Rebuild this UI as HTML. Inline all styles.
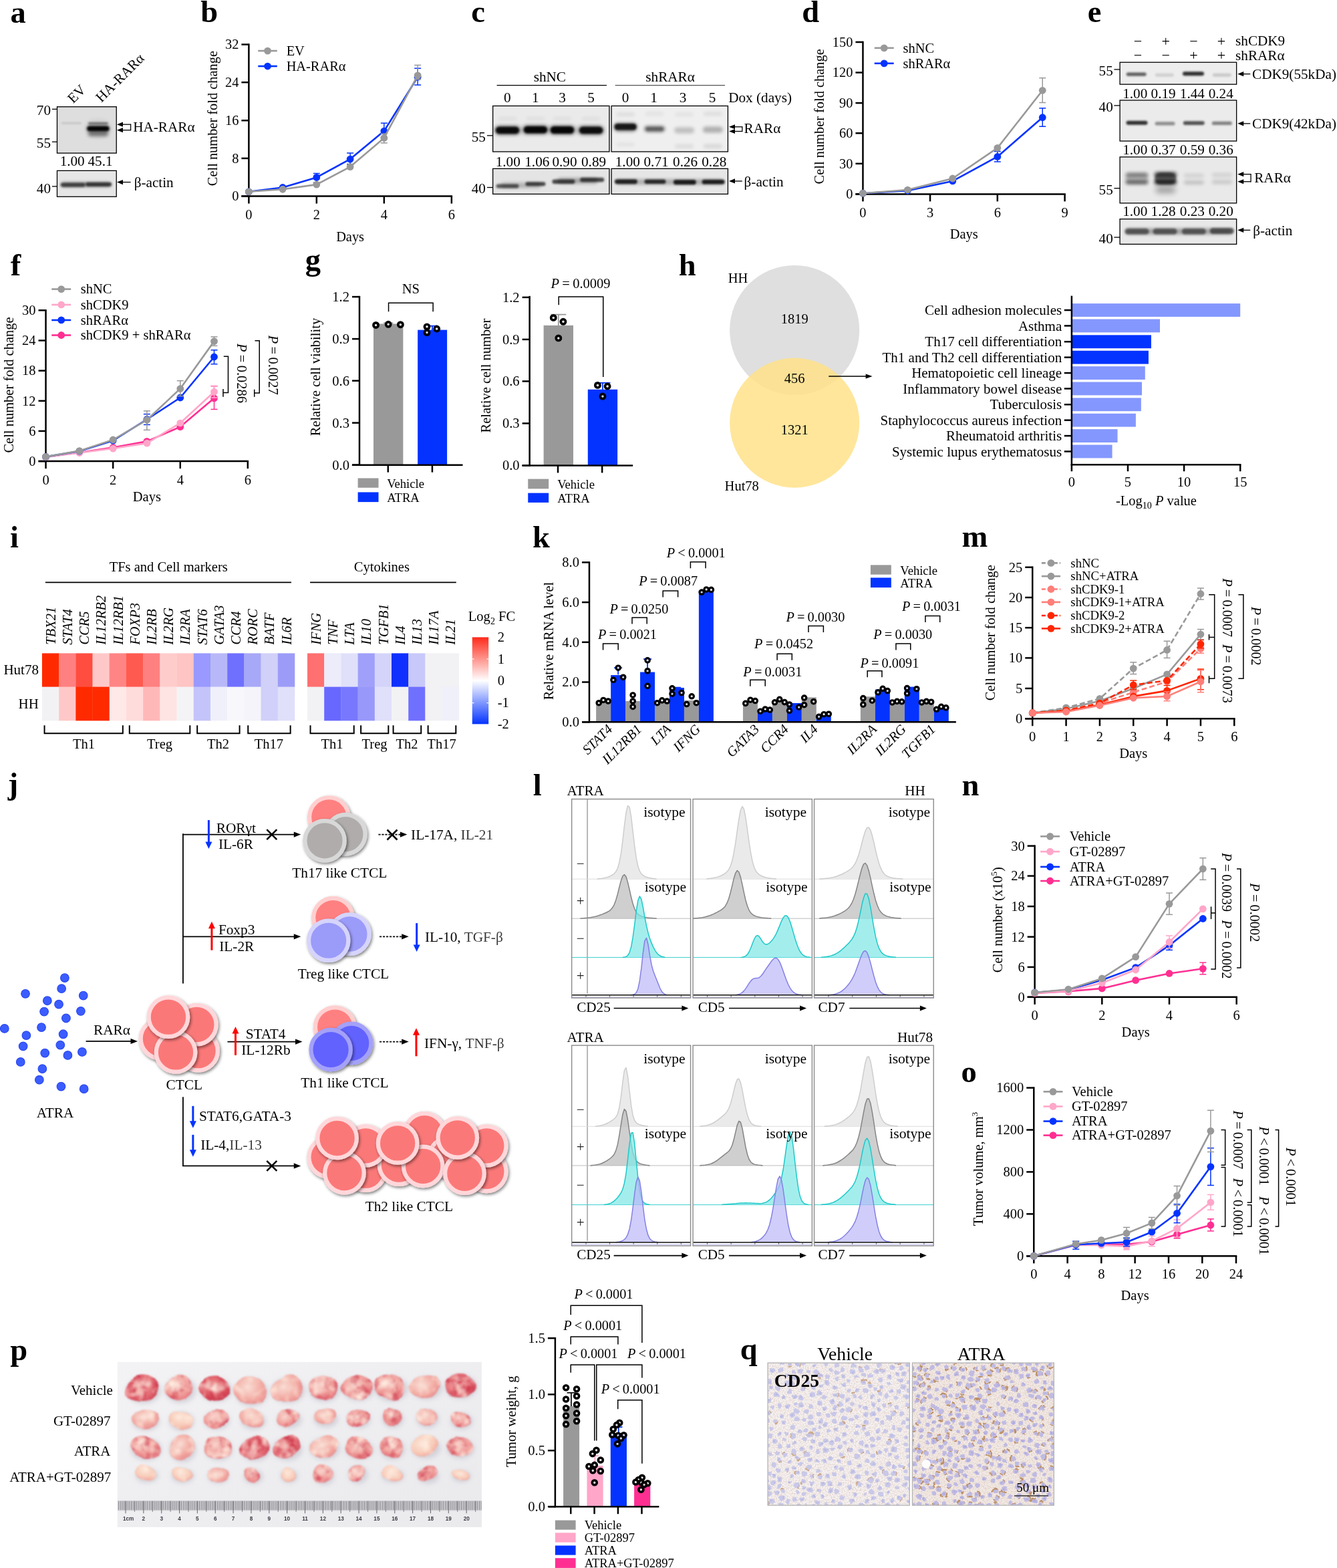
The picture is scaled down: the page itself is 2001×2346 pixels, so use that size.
<!DOCTYPE html>
<html><head><meta charset="utf-8"><title>Figure</title>
<style>
html,body{margin:0;padding:0;background:#fff;}
svg{display:block;font-family:"Liberation Serif","DejaVu Serif",serif;font-size:20.5px;}
text{white-space:pre;}
</style></head><body>
<svg width="2001" height="2346" viewBox="0 0 2001 2346">
<defs>
<filter id="b1" x="-30%" y="-100%" width="160%" height="300%"><feGaussianBlur stdDeviation="1.6"/></filter>
<filter id="b2" x="-30%" y="-100%" width="160%" height="300%"><feGaussianBlur stdDeviation="2.6"/></filter>
<filter id="b3" x="-30%" y="-100%" width="160%" height="300%"><feGaussianBlur stdDeviation="4"/></filter>
<linearGradient id="blotbg" x1="0" y1="0" x2="0" y2="1"><stop offset="0" stop-color="#e4e4e4"/><stop offset="1" stop-color="#eeeeee"/></linearGradient>
<clipPath id="bc1"><rect x="85.48" y="159.73" width="88.74" height="69.36"/></clipPath>
<clipPath id="bc2"><rect x="85.48" y="255.35" width="88.74" height="38.93"/></clipPath>
<clipPath id="bc3"><rect x="737.63" y="158.46" width="174.31" height="68.53"/></clipPath>
<clipPath id="bc4"><rect x="915.11" y="158.46" width="174.31" height="68.53"/></clipPath>
<clipPath id="bc5"><rect x="737.63" y="252.35" width="174.31" height="38.03"/></clipPath>
<clipPath id="bc6"><rect x="915.11" y="252.35" width="174.31" height="38.03"/></clipPath>
<clipPath id="bc7"><rect x="1676.09" y="93.23" width="174.55" height="32.93"/></clipPath>
<clipPath id="bc8"><rect x="1676.09" y="149.96" width="174.55" height="61.09"/></clipPath>
<clipPath id="bc9"><rect x="1676.09" y="234.86" width="174.55" height="69.03"/></clipPath>
<clipPath id="bc10"><rect x="1676.09" y="327.69" width="174.55" height="37.69"/></clipPath>
<linearGradient id="cbar" x1="0" y1="0" x2="0" y2="1"><stop offset="0" stop-color="#ff2a1a"/><stop offset="0.5" stop-color="#ffffff"/><stop offset="1" stop-color="#0433ff"/></linearGradient>
<filter id="ds" x="-20%" y="-20%" width="150%" height="150%"><feDropShadow dx="1.6" dy="2.2" stdDeviation="1.9" flood-color="#000" flood-opacity="0.5"/></filter>
<clipPath id="fl1"><rect x="855.66" y="1195.56" width="177.87" height="297.51"/></clipPath>
<clipPath id="fl2"><rect x="1037.1" y="1195.56" width="178.27" height="297.51"/></clipPath>
<clipPath id="fl3"><rect x="1218.54" y="1195.56" width="178.66" height="297.51"/></clipPath>
<clipPath id="fl4"><rect x="855.66" y="1564.07" width="177.87" height="299.89"/></clipPath>
<clipPath id="fl5"><rect x="1037.1" y="1564.07" width="178.27" height="299.89"/></clipPath>
<clipPath id="fl6"><rect x="1218.54" y="1564.07" width="178.66" height="299.89"/></clipPath>
<clipPath id="photo"><rect x="175.8" y="2037.8" width="545.1" height="247.1"/></clipPath>
<linearGradient id="phbg" x1="0" y1="0" x2="1" y2="1"><stop offset="0" stop-color="#f3f3f5"/><stop offset="0.5" stop-color="#eeeef1"/><stop offset="1" stop-color="#eaeaed"/></linearGradient>
<filter id="tb" x="-20%" y="-20%" width="140%" height="140%"><feGaussianBlur stdDeviation="1.1"/></filter>
<filter id="tsh" x="-30%" y="-30%" width="160%" height="160%"><feGaussianBlur stdDeviation="3"/></filter>
<filter id="tumA" x="-5%" y="-10%" width="110%" height="120%" color-interpolation-filters="sRGB">
<feTurbulence type="fractalNoise" baseFrequency="0.03" numOctaves="2" seed="4" result="n1"/>
<feDisplacementMap in="SourceGraphic" in2="n1" scale="10" xChannelSelector="R" yChannelSelector="G" result="d"/>
<feTurbulence type="fractalNoise" baseFrequency="0.07" numOctaves="3" seed="9" result="n2"/>
<feColorMatrix in="n2" type="matrix" values="0 0 0 0 0.82  0 0 0 0 0.25  0 0 0 0 0.32  3.0 0 0 0 -1.25" result="red"/><feComposite in="red" in2="d" operator="in" result="redin"/>
<feTurbulence type="fractalNoise" baseFrequency="0.06" numOctaves="2" seed="21" result="n3"/>
<feColorMatrix in="n3" type="matrix" values="0 0 0 0 1  0 0 0 0 0.95  0 0 0 0 0.9  0 2.4 0 0 -1.15" result="wh"/>
<feComposite in="wh" in2="d" operator="in" result="whin"/>
<feMerge><feMergeNode in="d"/><feMergeNode in="redin"/><feMergeNode in="whin"/></feMerge>
<feGaussianBlur stdDeviation="0.9"/>
</filter>
<filter id="tumB" x="-5%" y="-10%" width="110%" height="120%" color-interpolation-filters="sRGB">
<feTurbulence type="fractalNoise" baseFrequency="0.03" numOctaves="2" seed="4" result="n1"/>
<feDisplacementMap in="SourceGraphic" in2="n1" scale="10" xChannelSelector="R" yChannelSelector="G" result="d"/>
<feTurbulence type="fractalNoise" baseFrequency="0.07" numOctaves="3" seed="9" result="n2"/>
<feColorMatrix in="n2" type="matrix" values="0 0 0 0 0.82  0 0 0 0 0.25  0 0 0 0 0.32  2.4 0 0 0 -1.15" result="red"/><feComposite in="red" in2="d" operator="in" result="redin"/>
<feTurbulence type="fractalNoise" baseFrequency="0.06" numOctaves="2" seed="21" result="n3"/>
<feColorMatrix in="n3" type="matrix" values="0 0 0 0 1  0 0 0 0 0.95  0 0 0 0 0.9  0 2.4 0 0 -1.1" result="wh"/>
<feComposite in="wh" in2="d" operator="in" result="whin"/>
<feMerge><feMergeNode in="d"/><feMergeNode in="redin"/><feMergeNode in="whin"/></feMerge>
<feGaussianBlur stdDeviation="0.9"/>
</filter>
<filter id="tumC" x="-5%" y="-10%" width="110%" height="120%" color-interpolation-filters="sRGB">
<feTurbulence type="fractalNoise" baseFrequency="0.03" numOctaves="2" seed="4" result="n1"/>
<feDisplacementMap in="SourceGraphic" in2="n1" scale="10" xChannelSelector="R" yChannelSelector="G" result="d"/>
<feTurbulence type="fractalNoise" baseFrequency="0.07" numOctaves="3" seed="9" result="n2"/>

<feTurbulence type="fractalNoise" baseFrequency="0.06" numOctaves="2" seed="21" result="n3"/>
<feColorMatrix in="n3" type="matrix" values="0 0 0 0 1  0 0 0 0 0.95  0 0 0 0 0.9  0 2.0 0 0 -0.9" result="wh"/>
<feComposite in="wh" in2="d" operator="in" result="whin"/>
<feMerge><feMergeNode in="d"/><feMergeNode in="whin"/></feMerge>
<feGaussianBlur stdDeviation="0.9"/>
</filter>
<radialGradient id="tgR" cx="0.42" cy="0.38" r="0.72"><stop offset="0" stop-color="#ee9a98"/><stop offset="0.6" stop-color="#dc4f5c"/><stop offset="1" stop-color="#c43a4c"/></radialGradient>
<radialGradient id="tgr" cx="0.42" cy="0.38" r="0.72"><stop offset="0" stop-color="#f5c3bd"/><stop offset="0.6" stop-color="#e7727a"/><stop offset="1" stop-color="#cf4a5a"/></radialGradient>
<radialGradient id="tgm" cx="0.42" cy="0.38" r="0.72"><stop offset="0" stop-color="#f8d5cd"/><stop offset="0.6" stop-color="#f09a97"/><stop offset="1" stop-color="#df6f7a"/></radialGradient>
<radialGradient id="tgp" cx="0.42" cy="0.38" r="0.72"><stop offset="0" stop-color="#f9ddd4"/><stop offset="0.6" stop-color="#f2aaa2"/><stop offset="1" stop-color="#e68488"/></radialGradient>
<radialGradient id="tgl" cx="0.42" cy="0.38" r="0.72"><stop offset="0" stop-color="#fce9dc"/><stop offset="0.6" stop-color="#f8cbb9"/><stop offset="1" stop-color="#eea096"/></radialGradient>
<pattern id="rul" x="188" y="0" width="2.685" height="20" patternUnits="userSpaceOnUse"><rect x="0" y="0" width="1.25" height="20" fill="#77777d"/></pattern>
<filter id="nuc" x="0" y="0" width="100%" height="100%" color-interpolation-filters="sRGB">
<feTurbulence type="fractalNoise" baseFrequency="0.16" numOctaves="2" seed="5" result="n1"/>
<feDisplacementMap in="SourceGraphic" in2="n1" scale="4.5" xChannelSelector="R" yChannelSelector="G" result="d"/>
<feGaussianBlur in="d" stdDeviation="0.55"/>
</filter>
<filter id="grain" x="0" y="0" width="100%" height="100%" color-interpolation-filters="sRGB">
<feTurbulence type="fractalNoise" baseFrequency="0.55" numOctaves="2" seed="8" result="n"/>
<feColorMatrix in="n" type="matrix" values="0 0 0 0 0.78  0 0 0 0 0.66  0 0 0 0 0.60  0 0 1.3 0 -0.55" result="g"/>
<feComposite in="g" in2="SourceGraphic" operator="in"/>
</filter>
<clipPath id="ihc1"><rect x="1149.1" y="2039.1" width="212.2" height="213.1"/></clipPath>
<clipPath id="ihc2"><rect x="1365.45" y="2039.1" width="211.88" height="213.1"/></clipPath>
</defs>
<rect width="2001" height="2346" fill="#fff"/>
<text x="15.5" y="33.5" font-weight="bold" font-size="46.5">a</text>
<rect x="85.48" y="159.73" width="88.74" height="69.36" fill="#dedede"/>
<g clip-path="url(#bc1)">
<rect x="91.85" y="183.18" width="30" height="2.0" rx="1.0" fill="#000" opacity="0.16" filter="url(#b1)"/>
<rect x="130.37" y="188.73" width="33.0" height="7.2" rx="3.6" fill="#000" opacity="0.95" filter="url(#b1)"/>
<rect x="129.87" y="188.19" width="34" height="9.0" rx="4.5" fill="#000" opacity="0.5" filter="url(#b2)"/>
<rect x="131.87" y="183.12" width="30" height="3.2" rx="1.6" fill="#000" opacity="0.5" filter="url(#b1)"/>
<rect x="131.87" y="196.11" width="30" height="8" rx="4" fill="#000" opacity="0.42" filter="url(#b2)"/>
<rect x="129.87" y="179.96" width="34" height="24" rx="12" fill="#000" opacity="0.08" filter="url(#b3)"/>
</g>
<rect x="85.48" y="159.73" width="88.74" height="69.36" fill="none" stroke="#000" stroke-width="1.3"/>
<rect x="85.48" y="255.35" width="88.74" height="38.93" fill="#e6e6e6"/>
<g clip-path="url(#bc2)">
<rect x="90.7" y="273.44" width="37.0" height="6.2" rx="3.1" fill="#000" opacity="0.62" filter="url(#b1)"/>
<rect x="128.09" y="272.71" width="39.0" height="6.2" rx="3.1" fill="#000" opacity="0.68" filter="url(#b1)"/>
<rect x="91.58" y="272.57" width="74" height="7.2" rx="3.6" fill="#000" opacity="0.35" filter="url(#b2)"/>
</g>
<rect x="85.48" y="255.35" width="88.74" height="38.93" fill="none" stroke="#000" stroke-width="1.3"/>
<text x="76.06" y="172.16" text-anchor="end" font-size="21.2">70</text>
<line x1="77.87" y1="163.35" x2="85.48" y2="163.35" stroke="#000" stroke-width="1.3"/>
<text x="76.06" y="220.7" text-anchor="end" font-size="21.2">55</text>
<line x1="77.87" y1="212.25" x2="85.48" y2="212.25" stroke="#000" stroke-width="1.3"/>
<text x="76.06" y="288.61" text-anchor="end" font-size="21.2">40</text>
<line x1="77.87" y1="278.89" x2="85.48" y2="278.89" stroke="#000" stroke-width="1.3"/>
<text x="89.64" y="247.74" font-size="21.2">1.00</text>
<text x="131.48" y="247.74" font-size="21.2">45.1</text>
<text font-size="21.2" transform="translate(109.56 155.38) rotate(-45)">EV</text>
<text font-size="21.2" transform="translate(151.76 153.93) rotate(-45)">HA-RARα</text>
<line x1="180.34" y1="186.17" x2="195.59" y2="186.17" stroke="#000" stroke-width="1.3"/>
<polygon points="174.94,186.17 183.94,182.57 183.94,189.76999999999998" fill="#000"/>
<line x1="180.34" y1="194.68" x2="195.59" y2="194.68" stroke="#000" stroke-width="1.3"/>
<polygon points="174.94,194.68 183.94,191.08 183.94,198.28" fill="#000"/>
<line x1="195.59" y1="185.51999999999998" x2="195.59" y2="195.33" stroke="#000" stroke-width="1.3"/>
<text x="199.21" y="197.03" font-size="21.2">HA-RARα</text>
<line x1="180.34" y1="272.55" x2="195.59" y2="272.55" stroke="#000" stroke-width="1.3"/>
<polygon points="174.94,272.55 183.94,268.95 183.94,276.15000000000003" fill="#000"/>
<text x="200.66" y="279.8" font-size="21.2">β-actin</text>
<text x="300.28" y="32.5" font-weight="bold" font-size="46.5">b</text>
<line x1="372.38" y1="65.3" x2="372.38" y2="294.8" stroke="#000" stroke-width="2.5"/>
<line x1="361.38" y1="293.55" x2="677.08" y2="293.55" stroke="#000" stroke-width="2.5"/>
<line x1="372.38" y1="293.55" x2="372.38" y2="304.55" stroke="#000" stroke-width="2.5"/>
<text x="372.38" y="328.05" text-anchor="middle" font-size="20.4">0</text>
<line x1="473.8" y1="293.55" x2="473.8" y2="304.55" stroke="#000" stroke-width="2.5"/>
<text x="473.8" y="328.05" text-anchor="middle" font-size="20.4">2</text>
<line x1="574.82" y1="293.55" x2="574.82" y2="304.55" stroke="#000" stroke-width="2.5"/>
<text x="574.82" y="328.05" text-anchor="middle" font-size="20.4">4</text>
<line x1="675.83" y1="293.55" x2="675.83" y2="304.55" stroke="#000" stroke-width="2.5"/>
<text x="675.83" y="328.05" text-anchor="middle" font-size="20.4">6</text>
<line x1="361.38" y1="293.55" x2="372.38" y2="293.55" stroke="#000" stroke-width="2.5"/>
<text x="357.38" y="300.384" text-anchor="end" font-size="20.4">0</text>
<line x1="361.38" y1="236.9" x2="372.38" y2="236.9" stroke="#000" stroke-width="2.5"/>
<text x="357.38" y="243.734" text-anchor="end" font-size="20.4">8</text>
<line x1="361.38" y1="180.25" x2="372.38" y2="180.25" stroke="#000" stroke-width="2.5"/>
<text x="357.38" y="187.084" text-anchor="end" font-size="20.4">16</text>
<line x1="361.38" y1="123.2" x2="372.38" y2="123.2" stroke="#000" stroke-width="2.5"/>
<text x="357.38" y="130.034" text-anchor="end" font-size="20.4">24</text>
<line x1="361.38" y1="66.55" x2="372.38" y2="66.55" stroke="#000" stroke-width="2.5"/>
<text x="357.38" y="73.384" text-anchor="end" font-size="20.4">32</text>
<line x1="625.13" y1="102.21" x2="625.13" y2="127.16" stroke="#0433ff" stroke-width="1.5"/>
<line x1="620.13" y1="102.21" x2="630.13" y2="102.21" stroke="#0433ff" stroke-width="1.5"/>
<line x1="620.13" y1="127.16" x2="630.13" y2="127.16" stroke="#0433ff" stroke-width="1.5"/>
<line x1="574.82" y1="184.21" x2="574.82" y2="206.0" stroke="#0433ff" stroke-width="1.5"/>
<line x1="569.82" y1="184.21" x2="579.82" y2="184.21" stroke="#0433ff" stroke-width="1.5"/>
<line x1="569.82" y1="206.0" x2="579.82" y2="206.0" stroke="#0433ff" stroke-width="1.5"/>
<line x1="524.11" y1="228.98" x2="524.11" y2="245.61" stroke="#0433ff" stroke-width="1.5"/>
<line x1="519.11" y1="228.98" x2="529.11" y2="228.98" stroke="#0433ff" stroke-width="1.5"/>
<line x1="519.11" y1="245.61" x2="529.11" y2="245.61" stroke="#0433ff" stroke-width="1.5"/>
<line x1="473.8" y1="259.48" x2="473.8" y2="273.34" stroke="#0433ff" stroke-width="1.5"/>
<line x1="468.8" y1="259.48" x2="478.8" y2="259.48" stroke="#0433ff" stroke-width="1.5"/>
<line x1="468.8" y1="273.34" x2="478.8" y2="273.34" stroke="#0433ff" stroke-width="1.5"/>
<polyline points="372.38,286.81 423.09,280.48 473.8,265.42 524.11,238.09 574.82,196.1 625.13,115.28" fill="none" stroke="#0433ff" stroke-width="2.6" stroke-linejoin="round"/>
<circle cx="372.38" cy="286.81" r="5.4" fill="#0433ff"/>
<circle cx="423.09" cy="280.48" r="5.4" fill="#0433ff"/>
<circle cx="473.8" cy="265.42" r="5.4" fill="#0433ff"/>
<circle cx="524.11" cy="238.09" r="5.4" fill="#0433ff"/>
<circle cx="574.82" cy="196.1" r="5.4" fill="#0433ff"/>
<circle cx="625.13" cy="115.28" r="5.4" fill="#0433ff"/>
<line x1="625.13" y1="97.45" x2="625.13" y2="118.85" stroke="#999999" stroke-width="1.5"/>
<line x1="620.13" y1="97.45" x2="630.13" y2="97.45" stroke="#999999" stroke-width="1.5"/>
<line x1="620.13" y1="118.85" x2="630.13" y2="118.85" stroke="#999999" stroke-width="1.5"/>
<line x1="574.82" y1="200.06" x2="574.82" y2="213.92" stroke="#999999" stroke-width="1.5"/>
<line x1="569.82" y1="200.06" x2="579.82" y2="200.06" stroke="#999999" stroke-width="1.5"/>
<line x1="569.82" y1="213.92" x2="579.82" y2="213.92" stroke="#999999" stroke-width="1.5"/>
<polyline points="372.38,286.81 423.09,283.25 473.8,276.12 524.11,249.58 574.82,206.4 625.13,112.9" fill="none" stroke="#999999" stroke-width="2.6" stroke-linejoin="round"/>
<circle cx="372.38" cy="286.81" r="5.4" fill="#999999"/>
<circle cx="423.09" cy="283.25" r="5.4" fill="#999999"/>
<circle cx="473.8" cy="276.12" r="5.4" fill="#999999"/>
<circle cx="524.11" cy="249.58" r="5.4" fill="#999999"/>
<circle cx="574.82" cy="206.4" r="5.4" fill="#999999"/>
<circle cx="625.13" cy="112.9" r="5.4" fill="#999999"/>
<text x="524.11" y="360.5" text-anchor="middle" font-size="20.4">Days</text>
<text text-anchor="middle" font-size="20.4" transform="translate(324.84 177.08) rotate(-90)">Cell number fold change</text>
<line x1="386.25" y1="76.06" x2="414.77" y2="76.06" stroke="#999999" stroke-width="2.6"/>
<circle cx="400.51" cy="76.06" r="5.4" fill="#999999"/>
<text x="428.64" y="82.792" font-size="20.4">EV</text>
<line x1="386.25" y1="99.04" x2="414.77" y2="99.04" stroke="#0433ff" stroke-width="2.6"/>
<circle cx="400.51" cy="99.04" r="5.4" fill="#0433ff"/>
<text x="428.64" y="105.772" font-size="20.4">HA-RARα</text>
<text x="705.15" y="32.5" font-weight="bold" font-size="46.5">c</text>
<text x="822.81" y="122.01" text-anchor="middle" font-size="21.2">shNC</text>
<line x1="743.58" y1="127.56" x2="907.98" y2="127.56" stroke="#000" stroke-width="1.2"/>
<text x="1003.06" y="122.01" text-anchor="middle" font-size="21.2">shRARα</text>
<line x1="920.66" y1="127.56" x2="1085.06" y2="127.56" stroke="#555" stroke-width="1.2"/>
<text x="759.42" y="152.52" text-anchor="middle" font-size="21.2">0</text>
<text x="801.41" y="152.52" text-anchor="middle" font-size="21.2">1</text>
<text x="841.43" y="152.52" text-anchor="middle" font-size="21.2">3</text>
<text x="884.61" y="152.52" text-anchor="middle" font-size="21.2">5</text>
<text x="936.11" y="152.52" text-anchor="middle" font-size="21.2">0</text>
<text x="978.49" y="152.52" text-anchor="middle" font-size="21.2">1</text>
<text x="1022.07" y="152.52" text-anchor="middle" font-size="21.2">3</text>
<text x="1066.04" y="152.52" text-anchor="middle" font-size="21.2">5</text>
<text x="1090.21" y="152.52" font-size="21.2">Dox (days)</text>
<rect x="737.63" y="158.46" width="174.31" height="68.53" fill="#eaeaea"/>
<g clip-path="url(#bc3)">
<rect x="741.92" y="189.71" width="35.0" height="10.4" rx="5.2" fill="#000" opacity="0.9" filter="url(#b1)"/>
<rect x="739.92" y="187.91" width="39.0" height="14" rx="7" fill="#000" opacity="0.45" filter="url(#b2)"/>
<rect x="745.42" y="175.48" width="28" height="4" rx="2" fill="#000" opacity="0.06" filter="url(#b2)"/>
<rect x="783.91" y="188.91" width="35.0" height="10.4" rx="5.2" fill="#000" opacity="0.95" filter="url(#b1)"/>
<rect x="781.91" y="187.11" width="39.0" height="14" rx="7" fill="#000" opacity="0.45" filter="url(#b2)"/>
<rect x="787.41" y="175.48" width="28" height="4" rx="2" fill="#000" opacity="0.06" filter="url(#b2)"/>
<rect x="823.93" y="189.31" width="35.0" height="10.4" rx="5.2" fill="#000" opacity="0.95" filter="url(#b1)"/>
<rect x="821.93" y="187.51" width="39.0" height="14" rx="7" fill="#000" opacity="0.45" filter="url(#b2)"/>
<rect x="827.43" y="175.48" width="28" height="4" rx="2" fill="#000" opacity="0.06" filter="url(#b2)"/>
<rect x="867.11" y="189.71" width="35.0" height="10.4" rx="5.2" fill="#000" opacity="0.88" filter="url(#b1)"/>
<rect x="865.11" y="187.91" width="39.0" height="14" rx="7" fill="#000" opacity="0.45" filter="url(#b2)"/>
<rect x="870.61" y="175.48" width="28" height="4" rx="2" fill="#000" opacity="0.06" filter="url(#b2)"/>
<rect x="742.81" y="189.91" width="160" height="10" rx="5" fill="#000" opacity="0.12" filter="url(#b3)"/>
</g>
<rect x="737.63" y="158.46" width="174.31" height="68.53" fill="none" stroke="#000" stroke-width="1.3"/>
<rect x="915.11" y="158.46" width="174.31" height="68.53" fill="#efefef"/>
<g clip-path="url(#bc4)">
<rect x="919.61" y="184.96" width="33.0" height="9.6" rx="4.8" fill="#000" opacity="0.85" filter="url(#b1)"/>
<rect x="918.11" y="183.15" width="36" height="14" rx="7" fill="#000" opacity="0.4" filter="url(#b2)"/>
<rect x="964.18" y="188.43" width="31.0" height="9.0" rx="4.5" fill="#000" opacity="0.5" filter="url(#b2)"/>
<rect x="966.68" y="189.93" width="26" height="6" rx="3" fill="#000" opacity="0.22" filter="url(#b1)"/>
<rect x="1009.05" y="190.41" width="30" height="9.0" rx="4.5" fill="#000" opacity="0.2" filter="url(#b2)"/>
<rect x="1051.84" y="189.61" width="30" height="9.0" rx="4.5" fill="#000" opacity="0.27" filter="url(#b2)"/>
<rect x="922.11" y="168.14" width="28" height="6" rx="3" fill="#000" opacity="0.07" filter="url(#b2)"/>
<rect x="965.68" y="167.35" width="28" height="6" rx="3" fill="#000" opacity="0.05" filter="url(#b2)"/>
<rect x="1010.05" y="168.14" width="28" height="6" rx="3" fill="#000" opacity="0.05" filter="url(#b2)"/>
<rect x="1052.84" y="167.35" width="28" height="6" rx="3" fill="#000" opacity="0.07" filter="url(#b2)"/>
<rect x="922.11" y="212.9" width="28" height="6" rx="3" fill="#000" opacity="0.05" filter="url(#b2)"/>
<rect x="1010.05" y="215.68" width="28" height="6" rx="3" fill="#000" opacity="0.08" filter="url(#b2)"/>
<rect x="1052.84" y="215.68" width="28" height="6" rx="3" fill="#000" opacity="0.1" filter="url(#b2)"/>
</g>
<rect x="915.11" y="158.46" width="174.31" height="68.53" fill="none" stroke="#000" stroke-width="1.3"/>
<rect x="737.63" y="252.35" width="174.31" height="38.03" fill="#e4e4e4"/>
<g clip-path="url(#bc5)">
<rect x="742.42" y="275.49" width="34" height="6.0" rx="3.0" fill="#000" opacity="0.6" filter="url(#b1)"/>
<rect x="786.41" y="272.33" width="30" height="6.0" rx="3.0" fill="#000" opacity="0.68" filter="url(#b1)"/>
<rect x="826.41" y="268.56" width="34" height="6.4" rx="3.2" fill="#000" opacity="0.68" filter="url(#b1)"/>
<rect x="868.19" y="265.79" width="36" height="6.4" rx="3.2" fill="#000" opacity="0.68" filter="url(#b1)"/>
<rect x="834.4" y="266.57" width="60" height="8" rx="4" fill="#000" opacity="0.3" filter="url(#b2)"/>
<rect x="749.23" y="273.31" width="60" height="8" rx="4" fill="#000" opacity="0.22" filter="url(#b2)"/>
</g>
<rect x="737.63" y="252.35" width="174.31" height="38.03" fill="none" stroke="#000" stroke-width="1.3"/>
<rect x="915.11" y="252.35" width="174.31" height="38.03" fill="#e6e6e6"/>
<g clip-path="url(#bc6)">
<rect x="919.9" y="268.36" width="34" height="6.8" rx="3.4" fill="#000" opacity="0.82" filter="url(#b1)"/>
<rect x="964.48" y="268.56" width="32" height="6.4" rx="3.2" fill="#000" opacity="0.78" filter="url(#b1)"/>
<rect x="1007.84" y="268.95" width="34" height="7.2" rx="3.6" fill="#000" opacity="0.85" filter="url(#b1)"/>
<rect x="1050.63" y="268.76" width="34" height="6.8" rx="3.4" fill="#000" opacity="0.85" filter="url(#b1)"/>
<rect x="922.26" y="268.16" width="160" height="8" rx="4" fill="#000" opacity="0.25" filter="url(#b2)"/>
</g>
<rect x="915.11" y="252.35" width="174.31" height="38.03" fill="none" stroke="#000" stroke-width="1.3"/>
<text x="726.94" y="211.81" text-anchor="end" font-size="21.2">55</text>
<line x1="728.92" y1="202.83" x2="737.63" y2="202.83" stroke="#000" stroke-width="1.3"/>
<text x="726.94" y="289.46" text-anchor="end" font-size="21.2">40</text>
<line x1="728.92" y1="280.48" x2="737.63" y2="280.48" stroke="#000" stroke-width="1.3"/>
<text x="760.22" y="248.78" text-anchor="middle" font-size="21.2">1.00</text>
<text x="803.79" y="248.78" text-anchor="middle" font-size="21.2">1.06</text>
<text x="844.99" y="248.78" text-anchor="middle" font-size="21.2">0.90</text>
<text x="888.57" y="248.78" text-anchor="middle" font-size="21.2">0.89</text>
<text x="939.28" y="248.78" text-anchor="middle" font-size="21.2">1.00</text>
<text x="982.06" y="248.78" text-anchor="middle" font-size="21.2">0.71</text>
<text x="1025.64" y="248.78" text-anchor="middle" font-size="21.2">0.26</text>
<text x="1068.82" y="248.78" text-anchor="middle" font-size="21.2">0.28</text>
<line x1="1096.4" y1="189.76" x2="1110.81" y2="189.76" stroke="#000" stroke-width="1.3"/>
<polygon points="1091.0,189.76 1100.0,186.16 1100.0,193.35999999999999" fill="#000"/>
<line x1="1096.4" y1="196.49" x2="1110.81" y2="196.49" stroke="#000" stroke-width="1.3"/>
<polygon points="1091.0,196.49 1100.0,192.89000000000001 1100.0,200.09" fill="#000"/>
<line x1="1110.81" y1="189.10999999999999" x2="1110.81" y2="197.14000000000001" stroke="#000" stroke-width="1.3"/>
<text x="1113.58" y="199.26" font-size="21.2">RARα</text>
<line x1="1096.4" y1="270.97" x2="1110.81" y2="270.97" stroke="#000" stroke-width="1.3"/>
<polygon points="1091.0,270.97 1100.0,267.37 1100.0,274.57000000000005" fill="#000"/>
<text x="1113.58" y="278.89" font-size="21.2">β-actin</text>
<text x="1200.34" y="32.5" font-weight="bold" font-size="46.5">d</text>
<line x1="1291.45" y1="61.74" x2="1291.45" y2="291.63" stroke="#000" stroke-width="2.5"/>
<line x1="1280.45" y1="290.38" x2="1594.82" y2="290.38" stroke="#000" stroke-width="2.5"/>
<line x1="1291.45" y1="290.38" x2="1291.45" y2="301.38" stroke="#000" stroke-width="2.5"/>
<text x="1291.45" y="324.88" text-anchor="middle" font-size="20.4">0</text>
<line x1="1392.04" y1="290.38" x2="1392.04" y2="301.38" stroke="#000" stroke-width="2.5"/>
<text x="1392.04" y="324.88" text-anchor="middle" font-size="20.4">3</text>
<line x1="1492.8" y1="290.38" x2="1492.8" y2="301.38" stroke="#000" stroke-width="2.5"/>
<text x="1492.8" y="324.88" text-anchor="middle" font-size="20.4">6</text>
<line x1="1593.57" y1="290.38" x2="1593.57" y2="301.38" stroke="#000" stroke-width="2.5"/>
<text x="1593.57" y="324.88" text-anchor="middle" font-size="20.4">9</text>
<line x1="1280.45" y1="290.38" x2="1291.45" y2="290.38" stroke="#000" stroke-width="2.5"/>
<text x="1276.45" y="297.214" text-anchor="end" font-size="20.4">0</text>
<line x1="1280.45" y1="244.82" x2="1291.45" y2="244.82" stroke="#000" stroke-width="2.5"/>
<text x="1276.45" y="251.654" text-anchor="end" font-size="20.4">30</text>
<line x1="1280.45" y1="199.26" x2="1291.45" y2="199.26" stroke="#000" stroke-width="2.5"/>
<text x="1276.45" y="206.094" text-anchor="end" font-size="20.4">60</text>
<line x1="1280.45" y1="154.1" x2="1291.45" y2="154.1" stroke="#000" stroke-width="2.5"/>
<text x="1276.45" y="160.934" text-anchor="end" font-size="20.4">90</text>
<line x1="1280.45" y1="108.55" x2="1291.45" y2="108.55" stroke="#000" stroke-width="2.5"/>
<text x="1276.45" y="115.384" text-anchor="end" font-size="20.4">120</text>
<line x1="1280.45" y1="62.99" x2="1291.45" y2="62.99" stroke="#000" stroke-width="2.5"/>
<text x="1276.45" y="69.824" text-anchor="end" font-size="20.4">150</text>
<line x1="1560.25" y1="161.86" x2="1560.25" y2="189.23" stroke="#0433ff" stroke-width="1.5"/>
<line x1="1555.25" y1="161.86" x2="1565.25" y2="161.86" stroke="#0433ff" stroke-width="1.5"/>
<line x1="1555.25" y1="189.23" x2="1565.25" y2="189.23" stroke="#0433ff" stroke-width="1.5"/>
<line x1="1492.8" y1="226.53" x2="1492.8" y2="242.0" stroke="#0433ff" stroke-width="1.5"/>
<line x1="1487.8" y1="226.53" x2="1497.8" y2="226.53" stroke="#0433ff" stroke-width="1.5"/>
<line x1="1487.8" y1="242.0" x2="1497.8" y2="242.0" stroke="#0433ff" stroke-width="1.5"/>
<polyline points="1291.45,289.21 1358.32,285.24 1425.76,270.96 1492.8,234.46 1560.25,175.75" fill="none" stroke="#0433ff" stroke-width="2.6" stroke-linejoin="round"/>
<circle cx="1291.45" cy="289.21" r="5.4" fill="#0433ff"/>
<circle cx="1358.32" cy="285.24" r="5.4" fill="#0433ff"/>
<circle cx="1425.76" cy="270.96" r="5.4" fill="#0433ff"/>
<circle cx="1492.8" cy="234.46" r="5.4" fill="#0433ff"/>
<circle cx="1560.25" cy="175.75" r="5.4" fill="#0433ff"/>
<line x1="1560.25" y1="116.63" x2="1560.25" y2="153.53" stroke="#999999" stroke-width="1.5"/>
<line x1="1555.25" y1="116.63" x2="1565.25" y2="116.63" stroke="#999999" stroke-width="1.5"/>
<line x1="1555.25" y1="153.53" x2="1565.25" y2="153.53" stroke="#999999" stroke-width="1.5"/>
<polyline points="1291.45,289.21 1358.32,284.05 1425.76,266.99 1492.8,221.37 1560.25,135.28" fill="none" stroke="#999999" stroke-width="2.6" stroke-linejoin="round"/>
<circle cx="1291.45" cy="289.21" r="5.4" fill="#999999"/>
<circle cx="1358.32" cy="284.05" r="5.4" fill="#999999"/>
<circle cx="1425.76" cy="266.99" r="5.4" fill="#999999"/>
<circle cx="1492.8" cy="221.37" r="5.4" fill="#999999"/>
<circle cx="1560.25" cy="135.28" r="5.4" fill="#999999"/>
<text x="1442.82" y="357.05" text-anchor="middle" font-size="20.4">Days</text>
<text text-anchor="middle" font-size="20.4" transform="translate(1232.82 174.31) rotate(-90)">Cell number fold change</text>
<line x1="1308.73" y1="71.81" x2="1337.69" y2="71.81" stroke="#999999" stroke-width="2.6"/>
<circle cx="1323.21" cy="71.81" r="5.4" fill="#999999"/>
<text x="1351.57" y="78.542" font-size="20.4">shNC</text>
<line x1="1308.73" y1="94.82" x2="1337.69" y2="94.82" stroke="#0433ff" stroke-width="2.6"/>
<circle cx="1323.21" cy="94.82" r="5.4" fill="#0433ff"/>
<text x="1351.57" y="101.55199999999999" font-size="20.4">shRARα</text>
<text x="1627.69" y="32.5" font-weight="bold" font-size="46.5">e</text>
<text x="1703.07" y="68.63" text-anchor="middle" font-size="22">−</text>
<text x="1744.72" y="68.63" text-anchor="middle" font-size="22">+</text>
<text x="1786.38" y="68.63" text-anchor="middle" font-size="22">−</text>
<text x="1828.03" y="68.63" text-anchor="middle" font-size="22">+</text>
<text x="1703.07" y="90.05" text-anchor="middle" font-size="22">−</text>
<text x="1744.72" y="90.05" text-anchor="middle" font-size="22">−</text>
<text x="1786.38" y="90.05" text-anchor="middle" font-size="22">+</text>
<text x="1828.03" y="90.05" text-anchor="middle" font-size="22">+</text>
<text x="1849.06" y="68.24" font-size="21.2">shCDK9</text>
<text x="1849.06" y="90.05" font-size="21.2">shRARα</text>
<rect x="1676.09" y="93.23" width="174.55" height="32.93" fill="#ededed"/>
<g clip-path="url(#bc7)">
<rect x="1685.68" y="108.48" width="30" height="5.2" rx="2.6" fill="#000" opacity="0.6" filter="url(#b1)"/>
<rect x="1728.74" y="109.87" width="28" height="4.8" rx="2.4" fill="#000" opacity="0.12" filter="url(#b1)"/>
<rect x="1769.98" y="107.29" width="32" height="6" rx="3" fill="#000" opacity="0.8" filter="url(#b1)"/>
<rect x="1814.82" y="109.87" width="28" height="4.8" rx="2.4" fill="#000" opacity="0.15" filter="url(#b1)"/>
</g>
<rect x="1676.09" y="93.23" width="174.55" height="32.93" fill="none" stroke="#000" stroke-width="1.3"/>
<rect x="1676.09" y="149.96" width="174.55" height="61.09" fill="#ebebeb"/>
<g clip-path="url(#bc8)">
<rect x="1685.48" y="180.68" width="32" height="6" rx="3" fill="#000" opacity="0.8" filter="url(#b1)"/>
<rect x="1728.53" y="182.27" width="30" height="5.2" rx="2.6" fill="#000" opacity="0.4" filter="url(#b1)"/>
<rect x="1770.77" y="181.28" width="32" height="5.6" rx="2.8" fill="#000" opacity="0.65" filter="url(#b1)"/>
<rect x="1813.82" y="181.87" width="30" height="5.2" rx="2.6" fill="#000" opacity="0.45" filter="url(#b1)"/>
</g>
<rect x="1676.09" y="149.96" width="174.55" height="61.09" fill="none" stroke="#000" stroke-width="1.3"/>
<rect x="1676.09" y="234.86" width="174.55" height="69.03" fill="#e9e9e9"/>
<g clip-path="url(#bc9)">
<rect x="1684.48" y="258.23" width="34" height="7.2" rx="3.6" fill="#000" opacity="0.36" filter="url(#b2)"/>
<rect x="1684.48" y="269.34" width="34" height="6.4" rx="3.2" fill="#000" opacity="0.5" filter="url(#b2)"/>
<rect x="1684.48" y="258.99" width="34" height="16" rx="8" fill="#000" opacity="0.16" filter="url(#b2)"/>
<rect x="1727.32" y="257.23" width="34" height="9.2" rx="4.6" fill="#000" opacity="0.62" filter="url(#b2)"/>
<rect x="1727.32" y="267.95" width="34" height="8.4" rx="4.2" fill="#000" opacity="0.75" filter="url(#b2)"/>
<rect x="1729.32" y="279.05" width="30" height="10" rx="5" fill="#000" opacity="0.32" filter="url(#b3)"/>
<rect x="1728.32" y="257.99" width="32" height="18" rx="9" fill="#000" opacity="0.42" filter="url(#b1)"/>
<rect x="1771.77" y="259.63" width="30" height="6" rx="3" fill="#000" opacity="0.1" filter="url(#b2)"/>
<rect x="1771.77" y="269.94" width="30" height="6" rx="3" fill="#000" opacity="0.17" filter="url(#b2)"/>
<rect x="1813.82" y="258.83" width="30" height="6" rx="3" fill="#000" opacity="0.1" filter="url(#b2)"/>
<rect x="1813.82" y="269.15" width="30" height="6" rx="3" fill="#000" opacity="0.14" filter="url(#b2)"/>
</g>
<rect x="1676.09" y="234.86" width="174.55" height="69.03" fill="none" stroke="#000" stroke-width="1.3"/>
<rect x="1676.09" y="327.69" width="174.55" height="37.69" fill="#e8e8e8"/>
<g clip-path="url(#bc10)">
<rect x="1683.48" y="341.83" width="36" height="9.0" rx="4.5" fill="#000" opacity="0.5" filter="url(#b1)"/>
<rect x="1725.53" y="341.83" width="36" height="9.0" rx="4.5" fill="#000" opacity="0.5" filter="url(#b1)"/>
<rect x="1768.77" y="341.83" width="36" height="9.0" rx="4.5" fill="#000" opacity="0.5" filter="url(#b1)"/>
<rect x="1810.82" y="341.04" width="36" height="9.0" rx="4.5" fill="#000" opacity="0.55" filter="url(#b1)"/>
<rect x="1684.16" y="341.83" width="160" height="9.0" rx="4.5" fill="#000" opacity="0.3" filter="url(#b2)"/>
</g>
<rect x="1676.09" y="327.69" width="174.55" height="37.69" fill="none" stroke="#000" stroke-width="1.3"/>
<text x="1665.77" y="113.32" text-anchor="end" font-size="21.2">55</text>
<line x1="1667.36" y1="103.94" x2="1676.09" y2="103.94" stroke="#000" stroke-width="1.3"/>
<text x="1665.77" y="166.88" text-anchor="end" font-size="21.2">40</text>
<line x1="1667.36" y1="157.89" x2="1676.09" y2="157.89" stroke="#000" stroke-width="1.3"/>
<text x="1665.77" y="290.65" text-anchor="end" font-size="21.2">55</text>
<line x1="1667.36" y1="281.67" x2="1676.09" y2="281.67" stroke="#000" stroke-width="1.3"/>
<text x="1665.77" y="364.05" text-anchor="end" font-size="21.2">40</text>
<line x1="1667.36" y1="355.06" x2="1676.09" y2="355.06" stroke="#000" stroke-width="1.3"/>
<text x="1698.7" y="146.79" text-anchor="middle" font-size="21.2">1.00</text>
<text x="1741.15" y="146.79" text-anchor="middle" font-size="21.2">0.19</text>
<text x="1784.39" y="146.79" text-anchor="middle" font-size="21.2">1.44</text>
<text x="1827.24" y="146.79" text-anchor="middle" font-size="21.2">0.24</text>
<text x="1698.7" y="230.89" text-anchor="middle" font-size="21.2">1.00</text>
<text x="1741.15" y="230.89" text-anchor="middle" font-size="21.2">0.37</text>
<text x="1784.39" y="230.89" text-anchor="middle" font-size="21.2">0.59</text>
<text x="1827.24" y="230.89" text-anchor="middle" font-size="21.2">0.36</text>
<text x="1698.7" y="322.53" text-anchor="middle" font-size="21.2">1.00</text>
<text x="1741.15" y="322.53" text-anchor="middle" font-size="21.2">1.28</text>
<text x="1784.39" y="322.53" text-anchor="middle" font-size="21.2">0.23</text>
<text x="1827.24" y="322.53" text-anchor="middle" font-size="21.2">0.20</text>
<line x1="1857.63" y1="110.68" x2="1871.27" y2="110.68" stroke="#000" stroke-width="1.3"/>
<polygon points="1852.23,110.68 1861.23,107.08000000000001 1861.23,114.28" fill="#000"/>
<text x="1874.05" y="118.22" font-size="21.2">CDK9(55kDa)</text>
<line x1="1857.63" y1="184.87" x2="1871.27" y2="184.87" stroke="#000" stroke-width="1.3"/>
<polygon points="1852.23,184.87 1861.23,181.27 1861.23,188.47" fill="#000"/>
<text x="1874.05" y="192.41" font-size="21.2">CDK9(42kDa)</text>
<line x1="1857.63" y1="260.64" x2="1872.07" y2="260.64" stroke="#000" stroke-width="1.3"/>
<polygon points="1852.23,260.64 1861.23,257.03999999999996 1861.23,264.24" fill="#000"/>
<line x1="1857.63" y1="271.75" x2="1872.07" y2="271.75" stroke="#000" stroke-width="1.3"/>
<polygon points="1852.23,271.75 1861.23,268.15 1861.23,275.35" fill="#000"/>
<line x1="1872.07" y1="259.99" x2="1872.07" y2="272.4" stroke="#000" stroke-width="1.3"/>
<text x="1877.22" y="272.94" font-size="21.2">RARα</text>
<line x1="1857.63" y1="344.35" x2="1871.27" y2="344.35" stroke="#000" stroke-width="1.3"/>
<polygon points="1852.23,344.35 1861.23,340.75 1861.23,347.95000000000005" fill="#000"/>
<text x="1875.24" y="352.29" font-size="21.2">β-actin</text>
<text x="15.85" y="411.6" font-weight="bold" font-size="46.5">f</text>
<line x1="68.53" y1="463.03" x2="68.53" y2="691.34" stroke="#000" stroke-width="2.5"/>
<line x1="57.53" y1="690.09" x2="372.05" y2="690.09" stroke="#000" stroke-width="2.5"/>
<line x1="68.53" y1="690.09" x2="68.53" y2="701.09" stroke="#000" stroke-width="2.5"/>
<text x="68.53" y="724.59" text-anchor="middle">0</text>
<line x1="169.16" y1="690.09" x2="169.16" y2="701.09" stroke="#000" stroke-width="2.5"/>
<text x="169.16" y="724.59" text-anchor="middle">2</text>
<line x1="269.78" y1="690.09" x2="269.78" y2="701.09" stroke="#000" stroke-width="2.5"/>
<text x="269.78" y="724.59" text-anchor="middle">4</text>
<line x1="370.8" y1="690.09" x2="370.8" y2="701.09" stroke="#000" stroke-width="2.5"/>
<text x="370.8" y="724.59" text-anchor="middle">6</text>
<line x1="57.53" y1="690.09" x2="68.53" y2="690.09" stroke="#000" stroke-width="2.5"/>
<text x="53.53" y="696.9575" text-anchor="end">0</text>
<line x1="57.53" y1="644.93" x2="68.53" y2="644.93" stroke="#000" stroke-width="2.5"/>
<text x="53.53" y="651.7974999999999" text-anchor="end">6</text>
<line x1="57.53" y1="599.77" x2="68.53" y2="599.77" stroke="#000" stroke-width="2.5"/>
<text x="53.53" y="606.6374999999999" text-anchor="end">12</text>
<line x1="57.53" y1="554.61" x2="68.53" y2="554.61" stroke="#000" stroke-width="2.5"/>
<text x="53.53" y="561.4775" text-anchor="end">18</text>
<line x1="57.53" y1="509.45" x2="68.53" y2="509.45" stroke="#000" stroke-width="2.5"/>
<text x="53.53" y="516.3175" text-anchor="end">24</text>
<line x1="57.53" y1="464.28" x2="68.53" y2="464.28" stroke="#000" stroke-width="2.5"/>
<text x="53.53" y="471.1475" text-anchor="end">30</text>
<line x1="320.49" y1="577.58" x2="320.49" y2="612.44" stroke="#ff2f92" stroke-width="1.5"/>
<line x1="315.49" y1="577.58" x2="325.49" y2="577.58" stroke="#ff2f92" stroke-width="1.5"/>
<line x1="315.49" y1="612.44" x2="325.49" y2="612.44" stroke="#ff2f92" stroke-width="1.5"/>
<polyline points="68.53,683.75 118.85,677.02 169.16,669.49 219.86,660.38 269.78,638.59 320.49,595.81" fill="none" stroke="#ff2f92" stroke-width="2.6" stroke-linejoin="round"/>
<circle cx="68.53" cy="683.75" r="5.4" fill="#ff2f92"/>
<circle cx="118.85" cy="677.02" r="5.4" fill="#ff2f92"/>
<circle cx="169.16" cy="669.49" r="5.4" fill="#ff2f92"/>
<circle cx="219.86" cy="660.38" r="5.4" fill="#ff2f92"/>
<circle cx="269.78" cy="638.59" r="5.4" fill="#ff2f92"/>
<circle cx="320.49" cy="595.81" r="5.4" fill="#ff2f92"/>
<line x1="320.49" y1="577.98" x2="320.49" y2="595.01" stroke="#ffa6c9" stroke-width="1.5"/>
<line x1="315.49" y1="577.98" x2="325.49" y2="577.98" stroke="#ffa6c9" stroke-width="1.5"/>
<line x1="315.49" y1="595.01" x2="325.49" y2="595.01" stroke="#ffa6c9" stroke-width="1.5"/>
<polyline points="68.53,683.75 118.85,677.41 169.16,671.08 219.86,663.15 269.78,633.04 320.49,586.3" fill="none" stroke="#ffa6c9" stroke-width="2.6" stroke-linejoin="round"/>
<circle cx="68.53" cy="683.75" r="5.4" fill="#ffa6c9"/>
<circle cx="118.85" cy="677.41" r="5.4" fill="#ffa6c9"/>
<circle cx="169.16" cy="671.08" r="5.4" fill="#ffa6c9"/>
<circle cx="219.86" cy="663.15" r="5.4" fill="#ffa6c9"/>
<circle cx="269.78" cy="633.04" r="5.4" fill="#ffa6c9"/>
<circle cx="320.49" cy="586.3" r="5.4" fill="#ffa6c9"/>
<line x1="320.49" y1="523.71" x2="320.49" y2="544.7" stroke="#0433ff" stroke-width="1.5"/>
<line x1="315.49" y1="523.71" x2="325.49" y2="523.71" stroke="#0433ff" stroke-width="1.5"/>
<line x1="315.49" y1="544.7" x2="325.49" y2="544.7" stroke="#0433ff" stroke-width="1.5"/>
<line x1="219.86" y1="619.58" x2="219.86" y2="635.42" stroke="#0433ff" stroke-width="1.5"/>
<line x1="214.86" y1="619.58" x2="224.86" y2="619.58" stroke="#0433ff" stroke-width="1.5"/>
<line x1="214.86" y1="635.42" x2="224.86" y2="635.42" stroke="#0433ff" stroke-width="1.5"/>
<polyline points="68.53,683.36 118.85,675.04 169.16,659.19 219.86,627.5 269.78,595.01 320.49,534.01" fill="none" stroke="#0433ff" stroke-width="2.6" stroke-linejoin="round"/>
<circle cx="68.53" cy="683.36" r="5.4" fill="#0433ff"/>
<circle cx="118.85" cy="675.04" r="5.4" fill="#0433ff"/>
<circle cx="169.16" cy="659.19" r="5.4" fill="#0433ff"/>
<circle cx="219.86" cy="627.5" r="5.4" fill="#0433ff"/>
<circle cx="269.78" cy="595.01" r="5.4" fill="#0433ff"/>
<circle cx="320.49" cy="534.01" r="5.4" fill="#0433ff"/>
<line x1="320.49" y1="503.9" x2="320.49" y2="517.37" stroke="#999999" stroke-width="1.5"/>
<line x1="315.49" y1="503.9" x2="325.49" y2="503.9" stroke="#999999" stroke-width="1.5"/>
<line x1="315.49" y1="517.37" x2="325.49" y2="517.37" stroke="#999999" stroke-width="1.5"/>
<line x1="269.78" y1="569.66" x2="269.78" y2="592.64" stroke="#999999" stroke-width="1.5"/>
<line x1="264.78" y1="569.66" x2="274.78" y2="569.66" stroke="#999999" stroke-width="1.5"/>
<line x1="264.78" y1="592.64" x2="274.78" y2="592.64" stroke="#999999" stroke-width="1.5"/>
<line x1="219.86" y1="614.82" x2="219.86" y2="643.34" stroke="#999999" stroke-width="1.5"/>
<line x1="214.86" y1="614.82" x2="224.86" y2="614.82" stroke="#999999" stroke-width="1.5"/>
<line x1="214.86" y1="643.34" x2="224.86" y2="643.34" stroke="#999999" stroke-width="1.5"/>
<polyline points="68.53,683.36 118.85,674.64 169.16,658.0 219.86,628.29 269.78,581.54 320.49,510.63" fill="none" stroke="#999999" stroke-width="2.6" stroke-linejoin="round"/>
<circle cx="68.53" cy="683.36" r="5.4" fill="#999999"/>
<circle cx="118.85" cy="674.64" r="5.4" fill="#999999"/>
<circle cx="169.16" cy="658.0" r="5.4" fill="#999999"/>
<circle cx="219.86" cy="628.29" r="5.4" fill="#999999"/>
<circle cx="269.78" cy="581.54" r="5.4" fill="#999999"/>
<circle cx="320.49" cy="510.63" r="5.4" fill="#999999"/>
<text x="219.86" y="749.51" text-anchor="middle">Days</text>
<text text-anchor="middle" transform="translate(19.81 576.0) rotate(-90)">Cell number fold change</text>
<line x1="77.25" y1="432.59" x2="106.17" y2="432.59" stroke="#999999" stroke-width="2.6"/>
<circle cx="91.71000000000001" cy="432.59" r="5.4" fill="#999999"/>
<text x="120.83" y="439.35499999999996">shNC</text>
<line x1="77.25" y1="455.96" x2="106.17" y2="455.96" stroke="#ffa6c9" stroke-width="2.6"/>
<circle cx="91.71000000000001" cy="455.96" r="5.4" fill="#ffa6c9"/>
<text x="120.83" y="462.72499999999997">shCDK9</text>
<line x1="77.25" y1="478.94" x2="106.17" y2="478.94" stroke="#0433ff" stroke-width="2.6"/>
<circle cx="91.71000000000001" cy="478.94" r="5.4" fill="#0433ff"/>
<text x="120.83" y="485.705">shRARα</text>
<line x1="77.25" y1="501.52" x2="106.17" y2="501.52" stroke="#ff2f92" stroke-width="2.6"/>
<circle cx="91.71000000000001" cy="501.52" r="5.4" fill="#ff2f92"/>
<text x="120.83" y="508.28499999999997">shCDK9 + shRARα</text>
<polyline points="334.75,533.21 341.48,533.21 341.48,587.49 333.96,587.49" fill="none" stroke="#000" stroke-width="1.5"/>
<line x1="333.96" y1="581.94" x2="333.96" y2="593.83" stroke="#000" stroke-width="1.5"/>
<polyline points="381.49,509.84 388.23,509.84 388.23,587.88 380.7,587.88" fill="none" stroke="#000" stroke-width="1.5"/>
<line x1="380.7" y1="582.73" x2="380.7" y2="593.83" stroke="#000" stroke-width="1.5"/>
<text text-anchor="middle" transform="translate(355.35 558.57) rotate(90)"><tspan style="word-spacing:-0.9px"><tspan font-style="italic">P</tspan> = 0.0286</tspan></text>
<text text-anchor="middle" transform="translate(402.09 546.29) rotate(90)"><tspan style="word-spacing:-0.9px"><tspan font-style="italic">P</tspan> = 0.0027</tspan></text>
<text x="456.76" y="403.67" font-weight="bold" font-size="46.5">g</text>
<rect x="558.97" y="484.49" width="44.37" height="211.15" fill="#999999"/>
<rect x="625.13" y="493.6" width="43.97" height="202.04" fill="#0433ff"/>
<line x1="581.15" y1="483.3" x2="581.15" y2="485.68" stroke="#999999" stroke-width="1.8"/>
<line x1="574.02" y1="483.3" x2="588.29" y2="483.3" stroke="#999999" stroke-width="1.8"/>
<line x1="646.92" y1="487.66" x2="646.92" y2="494.39" stroke="#0433ff" stroke-width="1.8"/>
<line x1="639.78" y1="487.66" x2="654.05" y2="487.66" stroke="#0433ff" stroke-width="1.8"/>
<line x1="537.97" y1="442.83" x2="537.97" y2="696.89" stroke="#000" stroke-width="2.5"/>
<line x1="526.88" y1="695.64" x2="692.53" y2="695.64" stroke="#000" stroke-width="2.5"/>
<line x1="580.76" y1="695.64" x2="580.76" y2="706.64" stroke="#000" stroke-width="2.5"/>
<line x1="646.92" y1="695.64" x2="646.92" y2="706.64" stroke="#000" stroke-width="2.5"/>
<line x1="526.97" y1="695.64" x2="537.97" y2="695.64" stroke="#000" stroke-width="2.5"/>
<text x="522.97" y="702.5074999999999" text-anchor="end">0.0</text>
<line x1="526.97" y1="632.65" x2="537.97" y2="632.65" stroke="#000" stroke-width="2.5"/>
<text x="522.97" y="639.5174999999999" text-anchor="end">0.3</text>
<line x1="526.97" y1="569.66" x2="537.97" y2="569.66" stroke="#000" stroke-width="2.5"/>
<text x="522.97" y="576.5274999999999" text-anchor="end">0.6</text>
<line x1="526.97" y1="507.07" x2="537.97" y2="507.07" stroke="#000" stroke-width="2.5"/>
<text x="522.97" y="513.9375" text-anchor="end">0.9</text>
<line x1="526.97" y1="444.08" x2="537.97" y2="444.08" stroke="#000" stroke-width="2.5"/>
<text x="522.97" y="450.9475" text-anchor="end">1.2</text>
<circle cx="562.54" cy="486.47" r="3.6" fill="#fff" fill-opacity="0.8" stroke="#000" stroke-width="3.7"/>
<circle cx="581.15" cy="485.28" r="3.6" fill="#fff" fill-opacity="0.8" stroke="#000" stroke-width="3.7"/>
<circle cx="599.38" cy="485.68" r="3.6" fill="#fff" fill-opacity="0.8" stroke="#000" stroke-width="3.7"/>
<circle cx="638.99" cy="488.85" r="3.6" fill="#fff" fill-opacity="0.8" stroke="#000" stroke-width="3.7"/>
<circle cx="653.65" cy="492.01" r="3.6" fill="#fff" fill-opacity="0.8" stroke="#000" stroke-width="3.7"/>
<circle cx="638.99" cy="497.56" r="3.6" fill="#fff" fill-opacity="0.8" stroke="#000" stroke-width="3.7"/>
<text text-anchor="middle" transform="translate(479.34 564.11) rotate(-90)">Relative cell viability</text>
<rect x="535.6" y="715.44" width="30.9" height="14.26" fill="#999999"/>
<rect x="535.6" y="736.44" width="30.9" height="14.66" fill="#0433ff"/>
<text x="579.17" y="730.02" font-size="18.6">Vehicle</text>
<text x="579.17" y="751.01" font-size="18.6">ATRA</text>
<polyline points="581.55,466.26 581.55,453.19 648.1,453.19 648.1,466.26" fill="none" stroke="#000" stroke-width="1.5"/>
<text x="614.83" y="439.33" text-anchor="middle">NS</text>
<rect x="813.61" y="486.86" width="44.37" height="209.57" fill="#999999"/>
<rect x="879.77" y="582.73" width="44.37" height="113.7" fill="#0433ff"/>
<line x1="835.8" y1="470.62" x2="835.8" y2="487.66" stroke="#999999" stroke-width="1.8"/>
<line x1="824.31" y1="470.62" x2="847.28" y2="470.62" stroke="#999999" stroke-width="1.8"/>
<line x1="901.95" y1="572.83" x2="901.95" y2="583.92" stroke="#0433ff" stroke-width="1.8"/>
<line x1="890.46" y1="572.83" x2="913.44" y2="572.83" stroke="#0433ff" stroke-width="1.8"/>
<line x1="792.61" y1="442.83" x2="792.61" y2="697.68" stroke="#000" stroke-width="2.5"/>
<line x1="781.52" y1="696.43" x2="947.18" y2="696.43" stroke="#000" stroke-width="2.5"/>
<line x1="835.0" y1="696.43" x2="835.0" y2="707.43" stroke="#000" stroke-width="2.5"/>
<line x1="901.16" y1="696.43" x2="901.16" y2="707.43" stroke="#000" stroke-width="2.5"/>
<line x1="781.61" y1="696.43" x2="792.61" y2="696.43" stroke="#000" stroke-width="2.5"/>
<text x="777.61" y="703.2974999999999" text-anchor="end">0.0</text>
<line x1="781.61" y1="633.44" x2="792.61" y2="633.44" stroke="#000" stroke-width="2.5"/>
<text x="777.61" y="640.3075" text-anchor="end">0.3</text>
<line x1="781.61" y1="570.45" x2="792.61" y2="570.45" stroke="#000" stroke-width="2.5"/>
<text x="777.61" y="577.3175" text-anchor="end">0.6</text>
<line x1="781.61" y1="507.86" x2="792.61" y2="507.86" stroke="#000" stroke-width="2.5"/>
<text x="777.61" y="514.7275" text-anchor="end">0.9</text>
<line x1="781.61" y1="444.87" x2="792.61" y2="444.87" stroke="#000" stroke-width="2.5"/>
<text x="777.61" y="451.7375" text-anchor="end">1.2</text>
<circle cx="828.27" cy="475.38" r="3.6" fill="#fff" fill-opacity="0.8" stroke="#000" stroke-width="3.7"/>
<circle cx="842.93" cy="481.32" r="3.6" fill="#fff" fill-opacity="0.8" stroke="#000" stroke-width="3.7"/>
<circle cx="835.8" cy="505.88" r="3.6" fill="#fff" fill-opacity="0.8" stroke="#000" stroke-width="3.7"/>
<circle cx="894.43" cy="576.4" r="3.6" fill="#fff" fill-opacity="0.8" stroke="#000" stroke-width="3.7"/>
<circle cx="909.08" cy="577.98" r="3.6" fill="#fff" fill-opacity="0.8" stroke="#000" stroke-width="3.7"/>
<circle cx="901.95" cy="593.03" r="3.6" fill="#fff" fill-opacity="0.8" stroke="#000" stroke-width="3.7"/>
<text text-anchor="middle" transform="translate(733.59 562.13) rotate(-90)">Relative cell number</text>
<rect x="790.24" y="716.63" width="30.9" height="14.66" fill="#999999"/>
<rect x="790.24" y="737.63" width="30.9" height="14.26" fill="#0433ff"/>
<text x="834.21" y="731.21" font-size="18.6">Vehicle</text>
<text x="834.21" y="752.2" font-size="18.6">ATRA</text>
<polyline points="836.19,456.36 836.19,444.08 902.74,444.08 902.74,564.11" fill="none" stroke="#000" stroke-width="1.5"/>
<text x="869.07" y="431.4" text-anchor="middle"><tspan style="word-spacing:-0.9px"><tspan font-style="italic">P</tspan> = 0.0009</tspan></text>
<text x="1015.65" y="411.6" font-weight="bold" font-size="46.5">h</text>
<circle cx="1189.16" cy="494.0" r="97.06" fill="#d9d9d9" opacity="0.85"/>
<circle cx="1189.16" cy="632.65" r="97.06" fill="#ffe28a" opacity="0.85"/>
<text x="1089.73" y="423.48">HH</text>
<text x="1189.16" y="483.7" text-anchor="middle">1819</text>
<text x="1189.16" y="573.23" text-anchor="middle">456</text>
<text x="1189.16" y="650.48" text-anchor="middle">1321</text>
<text x="1084.58" y="734.46">Hut78</text>
<line x1="1240.27" y1="562.93" x2="1299.63" y2="562.93" stroke="#000" stroke-width="1.5"/>
<polygon points="1305.63,562.93 1295.63,559.43 1295.63,566.43" fill="#000"/>
<rect x="1603.89" y="454.1" width="252.31" height="19.84" fill="#8497fe"/>
<line x1="1592.78" y1="464.02" x2="1603.89" y2="464.02" stroke="#000" stroke-width="2.5"/>
<text x="1589.21" y="471.21999999999997" text-anchor="end" font-size="21">Cell adhesion molecules</text>
<rect x="1603.89" y="477.51" width="132.1" height="19.84" fill="#8497fe"/>
<line x1="1592.78" y1="487.43" x2="1603.89" y2="487.43" stroke="#000" stroke-width="2.5"/>
<text x="1589.21" y="494.63" text-anchor="end" font-size="21">Asthma</text>
<rect x="1603.89" y="501.31" width="119.01" height="19.84" fill="#0433ff"/>
<line x1="1592.78" y1="511.23" x2="1603.89" y2="511.23" stroke="#000" stroke-width="2.5"/>
<text x="1589.21" y="518.4300000000001" text-anchor="end" font-size="21">Th17 cell differentiation</text>
<rect x="1603.89" y="524.72" width="115.04" height="19.84" fill="#0433ff"/>
<line x1="1592.78" y1="534.64" x2="1603.89" y2="534.64" stroke="#000" stroke-width="2.5"/>
<text x="1589.21" y="541.84" text-anchor="end" font-size="21">Th1 and Th2 cell differentiation</text>
<rect x="1603.89" y="548.13" width="109.89" height="19.84" fill="#8497fe"/>
<line x1="1592.78" y1="558.04" x2="1603.89" y2="558.04" stroke="#000" stroke-width="2.5"/>
<text x="1589.21" y="565.24" text-anchor="end" font-size="21">Hematopoietic cell lineage</text>
<rect x="1603.89" y="571.53" width="105.13" height="19.84" fill="#8497fe"/>
<line x1="1592.78" y1="581.45" x2="1603.89" y2="581.45" stroke="#000" stroke-width="2.5"/>
<text x="1589.21" y="588.6500000000001" text-anchor="end" font-size="21">Inflammatory bowel disease</text>
<rect x="1603.89" y="595.34" width="103.94" height="19.84" fill="#8497fe"/>
<line x1="1592.78" y1="605.25" x2="1603.89" y2="605.25" stroke="#000" stroke-width="2.5"/>
<text x="1589.21" y="612.45" text-anchor="end" font-size="21">Tuberculosis</text>
<rect x="1603.89" y="618.74" width="96.0" height="19.84" fill="#8497fe"/>
<line x1="1592.78" y1="628.66" x2="1603.89" y2="628.66" stroke="#000" stroke-width="2.5"/>
<text x="1589.21" y="635.86" text-anchor="end" font-size="21">Staphylococcus aureus infection</text>
<rect x="1603.89" y="642.15" width="68.63" height="19.84" fill="#8497fe"/>
<line x1="1592.78" y1="652.07" x2="1603.89" y2="652.07" stroke="#000" stroke-width="2.5"/>
<text x="1589.21" y="659.2700000000001" text-anchor="end" font-size="21">Rheumatoid arthritis</text>
<rect x="1603.89" y="665.55" width="60.69" height="19.84" fill="#8497fe"/>
<line x1="1592.78" y1="675.47" x2="1603.89" y2="675.47" stroke="#000" stroke-width="2.5"/>
<text x="1589.21" y="682.6700000000001" text-anchor="end" font-size="21">Systemic lupus erythematosus</text>
<line x1="1603.89" y1="442.6" x2="1603.89" y2="696.51" stroke="#000" stroke-width="2.5"/>
<line x1="1602.69" y1="695.31" x2="1857.4" y2="695.31" stroke="#000" stroke-width="2.5"/>
<line x1="1603.89" y1="695.31" x2="1603.89" y2="705.23" stroke="#000" stroke-width="2.5"/>
<text x="1603.89" y="728.24" text-anchor="middle">0</text>
<line x1="1687.99" y1="695.31" x2="1687.99" y2="705.23" stroke="#000" stroke-width="2.5"/>
<text x="1687.99" y="728.24" text-anchor="middle">5</text>
<line x1="1772.09" y1="695.31" x2="1772.09" y2="705.23" stroke="#000" stroke-width="2.5"/>
<text x="1772.09" y="728.24" text-anchor="middle">10</text>
<line x1="1856.2" y1="695.31" x2="1856.2" y2="705.23" stroke="#000" stroke-width="2.5"/>
<text x="1856.2" y="728.24" text-anchor="middle">15</text>
<text x="1730.44" y="755.61" text-anchor="middle">-Log<tspan font-size="14" dy="5">10</tspan><tspan dy="-5"> </tspan><tspan font-style="italic">P</tspan> value</text>
<text x="14.94" y="818.94" font-weight="bold" font-size="46.5">i</text>
<text x="252.18" y="854.7" text-anchor="middle">TFs and Cell markers</text>
<line x1="67.91" y1="871.45" x2="435.99" y2="871.45" stroke="#000" stroke-width="1.8"/>
<text x="571.36" y="854.7" text-anchor="middle">Cytokines</text>
<line x1="464.06" y1="871.45" x2="682.74" y2="871.45" stroke="#000" stroke-width="1.8"/>
<text font-style="italic" transform="translate(82.78 964.72) rotate(-90)">TBX21</text>
<text font-style="italic" transform="translate(107.98 964.72) rotate(-90)">STAT4</text>
<text font-style="italic" transform="translate(133.18 964.72) rotate(-90)">CCR5</text>
<text font-style="italic" transform="translate(158.39 964.72) rotate(-90)">IL12RB2</text>
<text font-style="italic" transform="translate(183.59 964.72) rotate(-90)">IL12RB1</text>
<text font-style="italic" transform="translate(208.79 964.72) rotate(-90)">FOXP3</text>
<text font-style="italic" transform="translate(233.99 964.72) rotate(-90)">IL2RB</text>
<text font-style="italic" transform="translate(259.2 964.72) rotate(-90)">IL2RG</text>
<text font-style="italic" transform="translate(284.4 964.72) rotate(-90)">IL2RA</text>
<text font-style="italic" transform="translate(309.6 964.72) rotate(-90)">STAT6</text>
<text font-style="italic" transform="translate(334.8 964.72) rotate(-90)">GATA3</text>
<text font-style="italic" transform="translate(360.01 964.72) rotate(-90)">CCR4</text>
<text font-style="italic" transform="translate(385.21 964.72) rotate(-90)">RORC</text>
<text font-style="italic" transform="translate(410.41 964.72) rotate(-90)">BATF</text>
<text font-style="italic" transform="translate(435.62 964.72) rotate(-90)">IL6R</text>
<text font-style="italic" transform="translate(479.83 964.72) rotate(-90)">IFNG</text>
<text font-style="italic" transform="translate(505.04 964.72) rotate(-90)">TNF</text>
<text font-style="italic" transform="translate(530.24 964.72) rotate(-90)">LTA</text>
<text font-style="italic" transform="translate(555.44 964.72) rotate(-90)">IL10</text>
<text font-style="italic" transform="translate(580.65 964.72) rotate(-90)">TGFB1</text>
<text font-style="italic" transform="translate(605.85 964.72) rotate(-90)">IL4</text>
<text font-style="italic" transform="translate(631.05 964.72) rotate(-90)">IL13</text>
<text font-style="italic" transform="translate(656.25 964.72) rotate(-90)">IL17A</text>
<text font-style="italic" transform="translate(681.46 964.72) rotate(-90)">IL21</text>
<rect x="62.93" y="977.4" width="25.5" height="50.55" fill="#ff2a00"/>
<rect x="62.93" y="1027.65" width="25.5" height="50.71" fill="#f2f2f5"/>
<rect x="88.13" y="977.4" width="25.51" height="50.55" fill="#ff8080"/>
<rect x="88.13" y="1027.65" width="25.51" height="50.71" fill="#ffc8c8"/>
<rect x="113.34" y="977.4" width="25.5" height="50.55" fill="#ff4d40"/>
<rect x="113.34" y="1027.65" width="25.5" height="50.71" fill="#ff2a00"/>
<rect x="138.54" y="977.4" width="25.5" height="50.55" fill="#ffc8c8"/>
<rect x="138.54" y="1027.65" width="25.5" height="50.71" fill="#ff2a00"/>
<rect x="163.74" y="977.4" width="25.51" height="50.55" fill="#ff8585"/>
<rect x="163.74" y="1027.65" width="25.51" height="50.71" fill="#ffe8e8"/>
<rect x="188.95" y="977.4" width="25.5" height="50.55" fill="#ff5a50"/>
<rect x="188.95" y="1027.65" width="25.5" height="50.71" fill="#ffdcdc"/>
<rect x="214.15" y="977.4" width="25.5" height="50.55" fill="#ff8080"/>
<rect x="214.15" y="1027.65" width="25.5" height="50.71" fill="#ffb8b8"/>
<rect x="239.35" y="977.4" width="25.5" height="50.55" fill="#ffcccc"/>
<rect x="239.35" y="1027.65" width="25.5" height="50.71" fill="#ffe4e4"/>
<rect x="264.55" y="977.4" width="25.51" height="50.55" fill="#ffc4c4"/>
<rect x="264.55" y="1027.65" width="25.51" height="50.71" fill="#f4f4f6"/>
<rect x="289.76" y="977.4" width="25.5" height="50.55" fill="#9999ff"/>
<rect x="289.76" y="1027.65" width="25.5" height="50.71" fill="#c4c4fa"/>
<rect x="314.96" y="977.4" width="25.5" height="50.55" fill="#b8b8f8"/>
<rect x="314.96" y="1027.65" width="25.5" height="50.71" fill="#f0f0fa"/>
<rect x="340.16" y="977.4" width="25.51" height="50.55" fill="#7070ff"/>
<rect x="340.16" y="1027.65" width="25.51" height="50.71" fill="#f8f8fc"/>
<rect x="365.37" y="977.4" width="25.5" height="50.55" fill="#a8a8f8"/>
<rect x="365.37" y="1027.65" width="25.5" height="50.71" fill="#f4f4fa"/>
<rect x="390.57" y="977.4" width="25.5" height="50.55" fill="#d0d0f8"/>
<rect x="390.57" y="1027.65" width="25.5" height="50.71" fill="#d0d0fa"/>
<rect x="415.77" y="977.4" width="25.5" height="50.55" fill="#9c9cf8"/>
<rect x="415.77" y="1027.65" width="25.5" height="50.71" fill="#e0e0fa"/>
<rect x="459.99" y="977.4" width="25.5" height="50.55" fill="#ff7070"/>
<rect x="459.99" y="1027.65" width="25.5" height="50.71" fill="#f2f2f4"/>
<rect x="485.19" y="977.4" width="25.5" height="50.55" fill="#ececfa"/>
<rect x="485.19" y="1027.65" width="25.5" height="50.71" fill="#6868ff"/>
<rect x="510.39" y="977.4" width="25.51" height="50.55" fill="#e0e0fa"/>
<rect x="510.39" y="1027.65" width="25.51" height="50.71" fill="#7878ff"/>
<rect x="535.6" y="977.4" width="25.5" height="50.55" fill="#a0a0fa"/>
<rect x="535.6" y="1027.65" width="25.5" height="50.71" fill="#9898fa"/>
<rect x="560.8" y="977.4" width="25.5" height="50.55" fill="#d4d4fa"/>
<rect x="560.8" y="1027.65" width="25.5" height="50.71" fill="#e0e0fa"/>
<rect x="586.0" y="977.4" width="25.51" height="50.55" fill="#1030ff"/>
<rect x="586.0" y="1027.65" width="25.51" height="50.71" fill="#f2f2f4"/>
<rect x="611.21" y="977.4" width="25.5" height="50.55" fill="#c8c8fa"/>
<rect x="611.21" y="1027.65" width="25.5" height="50.71" fill="#7070ff"/>
<rect x="636.41" y="977.4" width="25.5" height="50.55" fill="#f2f2f4"/>
<rect x="636.41" y="1027.65" width="25.5" height="50.71" fill="#f2f2f4"/>
<rect x="661.61" y="977.4" width="25.5" height="50.55" fill="#f2f2f4"/>
<rect x="661.61" y="1027.65" width="25.5" height="50.71" fill="#f0f0fa"/>
<text x="57.95" y="1009.09" text-anchor="end" font-size="21">Hut78</text>
<text x="57.95" y="1059.8" text-anchor="end" font-size="21">HH</text>
<polyline points="66.55,1085.15 66.55,1097.37 183.81,1097.37 183.81,1085.15" fill="none" stroke="#000" stroke-width="2"/>
<text x="125.41" y="1119.56" text-anchor="middle">Th1</text>
<polyline points="193.77,1085.15 193.77,1097.37 284.32,1097.37 284.32,1085.15" fill="none" stroke="#000" stroke-width="2"/>
<text x="239.05" y="1119.56" text-anchor="middle">Treg</text>
<polyline points="295.19,1085.15 295.19,1097.37 358.57,1097.37 358.57,1085.15" fill="none" stroke="#000" stroke-width="2"/>
<text x="326.43" y="1119.56" text-anchor="middle">Th2</text>
<polyline points="371.25,1085.15 371.25,1097.37 434.63,1097.37 434.63,1085.15" fill="none" stroke="#000" stroke-width="2"/>
<text x="402.49" y="1119.56" text-anchor="middle">Th17</text>
<polyline points="464.52,1085.15 464.52,1097.37 529.71,1097.37 529.71,1085.15" fill="none" stroke="#000" stroke-width="2"/>
<text x="497.11" y="1119.56" text-anchor="middle">Th1</text>
<polyline points="540.12,1085.15 540.12,1097.37 581.32,1097.37 581.32,1085.15" fill="none" stroke="#000" stroke-width="2"/>
<text x="560.5" y="1119.56" text-anchor="middle">Treg</text>
<polyline points="588.57,1085.15 588.57,1097.37 630.22,1097.37 630.22,1085.15" fill="none" stroke="#000" stroke-width="2"/>
<text x="608.94" y="1119.56" text-anchor="middle">Th2</text>
<polyline points="640.63,1085.15 640.63,1097.37 682.29,1097.37 682.29,1085.15" fill="none" stroke="#000" stroke-width="2"/>
<text x="661.01" y="1119.56" text-anchor="middle">Th17</text>
<rect x="706.73" y="953.4" width="24.45" height="129.94" fill="url(#cbar)"/>
<text x="744.77" y="960.1999999999999">2</text>
<text x="744.77" y="992.8">1</text>
<line x1="706.73" y1="986.0" x2="709.45" y2="986.0" stroke="#fff" stroke-width="1.2"/>
<line x1="728.47" y1="986.0" x2="731.18" y2="986.0" stroke="#fff" stroke-width="1.2"/>
<text x="744.77" y="1025.4">0</text>
<line x1="706.73" y1="1018.6" x2="709.45" y2="1018.6" stroke="#fff" stroke-width="1.2"/>
<line x1="728.47" y1="1018.6" x2="731.18" y2="1018.6" stroke="#fff" stroke-width="1.2"/>
<text x="744.77" y="1058.45">-1</text>
<line x1="706.73" y1="1051.65" x2="709.45" y2="1051.65" stroke="#fff" stroke-width="1.2"/>
<line x1="728.47" y1="1051.65" x2="731.18" y2="1051.65" stroke="#fff" stroke-width="1.2"/>
<text x="744.77" y="1090.1399999999999">-2</text>
<text x="700.85" y="928.5">Log<tspan font-size="14" dy="5">2</tspan><tspan dy="-5"> FC</tspan></text>
<text x="797.03" y="818.82" font-weight="bold" font-size="46.5">k</text>
<rect x="892.14" y="1050.14" width="22.0" height="30.11" fill="#999999"/>
<rect x="914.14" y="1010.07" width="22.0" height="70.18" fill="#0433ff"/>
<line x1="925.14" y1="999.21" x2="925.14" y2="1009.39" stroke="#0433ff" stroke-width="1.8"/>
<line x1="919.14" y1="999.21" x2="931.14" y2="999.21" stroke="#0433ff" stroke-width="1.8"/>
<rect x="936.06" y="1049.01" width="22.0" height="31.24" fill="#999999"/>
<rect x="958.06" y="1005.55" width="22.0" height="74.7" fill="#0433ff"/>
<line x1="969.06" y1="986.08" x2="969.06" y2="1005.55" stroke="#0433ff" stroke-width="1.8"/>
<line x1="963.06" y1="986.08" x2="975.06" y2="986.08" stroke="#0433ff" stroke-width="1.8"/>
<rect x="979.98" y="1050.14" width="22.0" height="30.11" fill="#999999"/>
<rect x="1001.98" y="1029.09" width="22.0" height="51.16" fill="#0433ff"/>
<line x1="1012.98" y1="1028.64" x2="1012.98" y2="1029.09" stroke="#0433ff" stroke-width="1.8"/>
<line x1="1006.98" y1="1028.64" x2="1018.98" y2="1028.64" stroke="#0433ff" stroke-width="1.8"/>
<rect x="1023.89" y="1047.88" width="22.0" height="32.37" fill="#999999"/>
<rect x="1045.8899999999999" y="883.76" width="22.0" height="196.49" fill="#0433ff"/>
<rect x="1111.95" y="1050.14" width="22.0" height="30.11" fill="#999999"/>
<rect x="1133.95" y="1061.91" width="22.0" height="18.34" fill="#0433ff"/>
<rect x="1155.87" y="1050.14" width="22.0" height="30.11" fill="#999999"/>
<rect x="1177.87" y="1051.95" width="22.0" height="28.3" fill="#0433ff"/>
<rect x="1199.78" y="1043.35" width="22.0" height="36.9" fill="#999999"/>
<rect x="1221.78" y="1069.38" width="22.0" height="10.87" fill="#0433ff"/>
<circle cx="896.22" cy="1051.73" r="3.2" fill="#fff" fill-opacity="0.8" stroke="#000" stroke-width="3.2"/>
<circle cx="903.01" cy="1047.43" r="3.2" fill="#fff" fill-opacity="0.8" stroke="#000" stroke-width="3.2"/>
<circle cx="910.25" cy="1049.01" r="3.2" fill="#fff" fill-opacity="0.8" stroke="#000" stroke-width="3.2"/>
<circle cx="917.95" cy="1017.32" r="3.2" fill="#fff" fill-opacity="0.8" stroke="#000" stroke-width="3.2"/>
<circle cx="925.2" cy="999.21" r="3.2" fill="#fff" fill-opacity="0.8" stroke="#000" stroke-width="3.2"/>
<circle cx="932.67" cy="1013.24" r="3.2" fill="#fff" fill-opacity="0.8" stroke="#000" stroke-width="3.2"/>
<polyline points="902.56,972.49 902.56,962.99 925.2,962.99 925.2,972.49" fill="none" stroke="#000" stroke-width="1.5"/>
<text x="939.0" y="956.2" text-anchor="middle" font-size="20.3"><tspan style="word-spacing:-0.9px"><tspan font-style="italic">P</tspan> = 0.0021</tspan></text>
<text text-anchor="end" font-style="italic" transform="translate(917.64 1092.25) rotate(-45)">STAT4</text>
<circle cx="947.15" cy="1039.95" r="3.2" fill="#fff" fill-opacity="0.8" stroke="#000" stroke-width="3.2"/>
<circle cx="947.15" cy="1049.01" r="3.2" fill="#fff" fill-opacity="0.8" stroke="#000" stroke-width="3.2"/>
<circle cx="947.15" cy="1057.39" r="3.2" fill="#fff" fill-opacity="0.8" stroke="#000" stroke-width="3.2"/>
<circle cx="969.11" cy="987.89" r="3.2" fill="#fff" fill-opacity="0.8" stroke="#000" stroke-width="3.2"/>
<circle cx="969.11" cy="1003.74" r="3.2" fill="#fff" fill-opacity="0.8" stroke="#000" stroke-width="3.2"/>
<circle cx="969.11" cy="1026.37" r="3.2" fill="#fff" fill-opacity="0.8" stroke="#000" stroke-width="3.2"/>
<polyline points="946.02,933.55 946.02,924.05 968.21,924.05 968.21,933.55" fill="none" stroke="#000" stroke-width="1.5"/>
<text x="956.43" y="917.71" text-anchor="middle" font-size="20.3"><tspan style="word-spacing:-0.9px"><tspan font-style="italic">P</tspan> = 0.0250</tspan></text>
<text text-anchor="end" font-style="italic" transform="translate(961.56 1092.25) rotate(-45)">IL12RB1</text>
<circle cx="983.6" cy="1051.73" r="3.2" fill="#fff" fill-opacity="0.8" stroke="#000" stroke-width="3.2"/>
<circle cx="990.84" cy="1047.88" r="3.2" fill="#fff" fill-opacity="0.8" stroke="#000" stroke-width="3.2"/>
<circle cx="998.31" cy="1049.01" r="3.2" fill="#fff" fill-opacity="0.8" stroke="#000" stroke-width="3.2"/>
<circle cx="1006.01" cy="1029.77" r="3.2" fill="#fff" fill-opacity="0.8" stroke="#000" stroke-width="3.2"/>
<circle cx="1006.01" cy="1038.14" r="3.2" fill="#fff" fill-opacity="0.8" stroke="#000" stroke-width="3.2"/>
<circle cx="1020.05" cy="1036.56" r="3.2" fill="#fff" fill-opacity="0.8" stroke="#000" stroke-width="3.2"/>
<polyline points="992.2,893.48 992.2,883.98 1014.61,883.98 1014.61,893.48" fill="none" stroke="#000" stroke-width="1.5"/>
<text x="1000.12" y="876.29" text-anchor="middle" font-size="20.3"><tspan style="word-spacing:-0.9px"><tspan font-style="italic">P</tspan> = 0.0087</tspan></text>
<text text-anchor="end" font-style="italic" transform="translate(1005.48 1092.25) rotate(-45)">LTA</text>
<circle cx="1027.74" cy="1053.54" r="3.2" fill="#fff" fill-opacity="0.8" stroke="#000" stroke-width="3.2"/>
<circle cx="1035.21" cy="1041.77" r="3.2" fill="#fff" fill-opacity="0.8" stroke="#000" stroke-width="3.2"/>
<circle cx="1042.23" cy="1051.73" r="3.2" fill="#fff" fill-opacity="0.8" stroke="#000" stroke-width="3.2"/>
<circle cx="1050.15" cy="886.02" r="3.2" fill="#fff" fill-opacity="0.8" stroke="#000" stroke-width="3.2"/>
<circle cx="1057.17" cy="881.95" r="3.2" fill="#fff" fill-opacity="0.8" stroke="#000" stroke-width="3.2"/>
<circle cx="1064.41" cy="882.4" r="3.2" fill="#fff" fill-opacity="0.8" stroke="#000" stroke-width="3.2"/>
<polyline points="1033.4,850.25 1033.4,840.75 1056.04,840.75 1056.04,850.25" fill="none" stroke="#000" stroke-width="1.5"/>
<text x="1041.78" y="834.41" text-anchor="middle" font-size="20.3"><tspan style="word-spacing:-0.9px"><tspan font-style="italic">P</tspan> &lt; 0.0001</tspan></text>
<text text-anchor="end" font-style="italic" transform="translate(1049.3899999999999 1092.25) rotate(-45)">IFNG</text>
<circle cx="1115.8" cy="1052.41" r="3.2" fill="#fff" fill-opacity="0.8" stroke="#000" stroke-width="3.2"/>
<circle cx="1123.04" cy="1047.2" r="3.2" fill="#fff" fill-opacity="0.8" stroke="#000" stroke-width="3.2"/>
<circle cx="1130.29" cy="1048.56" r="3.2" fill="#fff" fill-opacity="0.8" stroke="#000" stroke-width="3.2"/>
<circle cx="1137.99" cy="1064.18" r="3.2" fill="#fff" fill-opacity="0.8" stroke="#000" stroke-width="3.2"/>
<circle cx="1145.23" cy="1061.01" r="3.2" fill="#fff" fill-opacity="0.8" stroke="#000" stroke-width="3.2"/>
<circle cx="1152.25" cy="1062.14" r="3.2" fill="#fff" fill-opacity="0.8" stroke="#000" stroke-width="3.2"/>
<polyline points="1122.82,1026.82 1122.82,1017.32 1145.23,1017.32 1145.23,1026.82" fill="none" stroke="#000" stroke-width="1.5"/>
<text x="1156.32" y="1012.11" text-anchor="middle" font-size="20.3"><tspan style="word-spacing:-0.9px"><tspan font-style="italic">P</tspan> = 0.0031</tspan></text>
<text text-anchor="end" font-style="italic" transform="translate(1137.45 1092.25) rotate(-45)">GATA3</text>
<circle cx="1159.49" cy="1050.82" r="3.2" fill="#fff" fill-opacity="0.8" stroke="#000" stroke-width="3.2"/>
<circle cx="1166.73" cy="1046.29" r="3.2" fill="#fff" fill-opacity="0.8" stroke="#000" stroke-width="3.2"/>
<circle cx="1174.2" cy="1050.59" r="3.2" fill="#fff" fill-opacity="0.8" stroke="#000" stroke-width="3.2"/>
<circle cx="1181.45" cy="1053.99" r="3.2" fill="#fff" fill-opacity="0.8" stroke="#000" stroke-width="3.2"/>
<circle cx="1181.45" cy="1063.27" r="3.2" fill="#fff" fill-opacity="0.8" stroke="#000" stroke-width="3.2"/>
<circle cx="1195.71" cy="1058.06" r="3.2" fill="#fff" fill-opacity="0.8" stroke="#000" stroke-width="3.2"/>
<polyline points="1163.11,987.66 1163.11,978.16 1185.3,978.16 1185.3,987.66" fill="none" stroke="#000" stroke-width="1.5"/>
<text x="1173.07" y="970.23" text-anchor="middle" font-size="20.3"><tspan style="word-spacing:-0.9px"><tspan font-style="italic">P</tspan> = 0.0452</tspan></text>
<text text-anchor="end" font-style="italic" transform="translate(1181.37 1092.25) rotate(-45)">CCR4</text>
<circle cx="1203.63" cy="1044.03" r="3.2" fill="#fff" fill-opacity="0.8" stroke="#000" stroke-width="3.2"/>
<circle cx="1203.63" cy="1054.67" r="3.2" fill="#fff" fill-opacity="0.8" stroke="#000" stroke-width="3.2"/>
<circle cx="1217.67" cy="1049.69" r="3.2" fill="#fff" fill-opacity="0.8" stroke="#000" stroke-width="3.2"/>
<circle cx="1225.59" cy="1072.33" r="3.2" fill="#fff" fill-opacity="0.8" stroke="#000" stroke-width="3.2"/>
<circle cx="1233.06" cy="1068.7" r="3.2" fill="#fff" fill-opacity="0.8" stroke="#000" stroke-width="3.2"/>
<circle cx="1240.31" cy="1068.25" r="3.2" fill="#fff" fill-opacity="0.8" stroke="#000" stroke-width="3.2"/>
<polyline points="1209.97,946.0 1209.97,936.5 1232.38,936.5 1232.38,946.0" fill="none" stroke="#000" stroke-width="1.5"/>
<text x="1220.38" y="930.16" text-anchor="middle" font-size="20.3"><tspan style="word-spacing:-0.9px"><tspan font-style="italic">P</tspan> = 0.0030</tspan></text>
<text text-anchor="end" font-style="italic" transform="translate(1225.28 1092.25) rotate(-45)">IL4</text>
<rect x="1287.87" y="1042.25" width="22.0" height="38.0" fill="#999999"/>
<rect x="1309.87" y="1031.56" width="22.0" height="48.69" fill="#0433ff"/>
<rect x="1331.84" y="1049.38" width="22.0" height="30.87" fill="#999999"/>
<rect x="1353.84" y="1027.59" width="22.0" height="52.66" fill="#0433ff"/>
<rect x="1375.81" y="1049.38" width="22.0" height="30.87" fill="#999999"/>
<rect x="1397.81" y="1059.29" width="22.0" height="20.96" fill="#0433ff"/>
<circle cx="1291.83" cy="1044.63" r="3.2" fill="#fff" fill-opacity="0.8" stroke="#000" stroke-width="3.2"/>
<circle cx="1291.83" cy="1054.14" r="3.2" fill="#fff" fill-opacity="0.8" stroke="#000" stroke-width="3.2"/>
<circle cx="1305.3" cy="1048.19" r="3.2" fill="#fff" fill-opacity="0.8" stroke="#000" stroke-width="3.2"/>
<circle cx="1314.01" cy="1035.91" r="3.2" fill="#fff" fill-opacity="0.8" stroke="#000" stroke-width="3.2"/>
<circle cx="1321.14" cy="1030.37" r="3.2" fill="#fff" fill-opacity="0.8" stroke="#000" stroke-width="3.2"/>
<circle cx="1328.27" cy="1033.54" r="3.2" fill="#fff" fill-opacity="0.8" stroke="#000" stroke-width="3.2"/>
<polyline points="1298.17,1013.33 1298.17,1003.83 1319.95,1003.83 1319.95,1013.33" fill="none" stroke="#000" stroke-width="1.5"/>
<text x="1331.44" y="998.68" text-anchor="middle" font-size="20.3"><tspan style="word-spacing:-0.9px"><tspan font-style="italic">P</tspan> = 0.0091</tspan></text>
<text text-anchor="end" font-style="italic" transform="translate(1313.37 1092.25) rotate(-45)">IL2RA</text>
<circle cx="1335.4" cy="1050.97" r="3.2" fill="#fff" fill-opacity="0.8" stroke="#000" stroke-width="3.2"/>
<circle cx="1342.54" cy="1049.38" r="3.2" fill="#fff" fill-opacity="0.8" stroke="#000" stroke-width="3.2"/>
<circle cx="1349.67" cy="1049.78" r="3.2" fill="#fff" fill-opacity="0.8" stroke="#000" stroke-width="3.2"/>
<circle cx="1357.59" cy="1029.58" r="3.2" fill="#fff" fill-opacity="0.8" stroke="#000" stroke-width="3.2"/>
<circle cx="1357.59" cy="1037.5" r="3.2" fill="#fff" fill-opacity="0.8" stroke="#000" stroke-width="3.2"/>
<circle cx="1371.85" cy="1030.76" r="3.2" fill="#fff" fill-opacity="0.8" stroke="#000" stroke-width="3.2"/>
<polyline points="1340.95,972.52 1340.95,963.02 1362.74,963.02 1362.74,972.52" fill="none" stroke="#000" stroke-width="1.5"/>
<text x="1351.25" y="956.29" text-anchor="middle" font-size="20.3"><tspan style="word-spacing:-0.9px"><tspan font-style="italic">P</tspan> = 0.0030</tspan></text>
<text text-anchor="end" font-style="italic" transform="translate(1357.34 1092.25) rotate(-45)">IL2RG</text>
<circle cx="1379.38" cy="1050.97" r="3.2" fill="#fff" fill-opacity="0.8" stroke="#000" stroke-width="3.2"/>
<circle cx="1386.51" cy="1049.38" r="3.2" fill="#fff" fill-opacity="0.8" stroke="#000" stroke-width="3.2"/>
<circle cx="1393.64" cy="1050.18" r="3.2" fill="#fff" fill-opacity="0.8" stroke="#000" stroke-width="3.2"/>
<circle cx="1401.56" cy="1061.27" r="3.2" fill="#fff" fill-opacity="0.8" stroke="#000" stroke-width="3.2"/>
<circle cx="1408.69" cy="1057.31" r="3.2" fill="#fff" fill-opacity="0.8" stroke="#000" stroke-width="3.2"/>
<circle cx="1415.82" cy="1058.89" r="3.2" fill="#fff" fill-opacity="0.8" stroke="#000" stroke-width="3.2"/>
<polyline points="1384.92,930.93 1384.92,921.43 1406.71,921.43 1406.71,930.93" fill="none" stroke="#000" stroke-width="1.5"/>
<text x="1394.04" y="913.9" text-anchor="middle" font-size="20.3"><tspan style="word-spacing:-0.9px"><tspan font-style="italic">P</tspan> = 0.0031</tspan></text>
<text text-anchor="end" font-style="italic" transform="translate(1401.31 1092.25) rotate(-45)">TGFB1</text>
<line x1="881.96" y1="840.1999999999999" x2="881.96" y2="1081.45" stroke="#000" stroke-width="2.5"/>
<line x1="871.11" y1="1080.25" x2="1430.88" y2="1080.25" stroke="#000" stroke-width="2.5"/>
<line x1="870.96" y1="1080.25" x2="881.96" y2="1080.25" stroke="#000" stroke-width="2.5"/>
<text x="866.96" y="1087.15" text-anchor="end">0.0</text>
<line x1="870.96" y1="1020.5375" x2="881.96" y2="1020.5375" stroke="#000" stroke-width="2.5"/>
<text x="866.96" y="1027.4375" text-anchor="end">2.0</text>
<line x1="870.96" y1="960.825" x2="881.96" y2="960.825" stroke="#000" stroke-width="2.5"/>
<text x="866.96" y="967.725" text-anchor="end">4.0</text>
<line x1="870.96" y1="901.1125" x2="881.96" y2="901.1125" stroke="#000" stroke-width="2.5"/>
<text x="866.96" y="908.0124999999999" text-anchor="end">6.0</text>
<line x1="870.96" y1="841.4" x2="881.96" y2="841.4" stroke="#000" stroke-width="2.5"/>
<text x="866.96" y="848.3" text-anchor="end">8.0</text>
<text text-anchor="middle" transform="translate(827.54 959.06) rotate(-90)">Relative mRNA level</text>
<rect x="1302.92" y="845.37" width="30.9" height="14.26" fill="#999999"/>
<rect x="1302.92" y="864.38" width="30.9" height="14.66" fill="#0433ff"/>
<text x="1347.29" y="860.02" font-size="18.6">Vehicle</text>
<text x="1347.29" y="879.04" font-size="18.6">ATRA</text>
<text x="1439.45" y="818.09" font-weight="bold" font-size="46.5">m</text>
<line x1="1545.23" y1="847.46" x2="1545.23" y2="1076.48" stroke="#000" stroke-width="2.5"/>
<line x1="1534.23" y1="1075.23" x2="1848.51" y2="1075.23" stroke="#000" stroke-width="2.5"/>
<line x1="1545.23" y1="1075.23" x2="1545.23" y2="1086.23" stroke="#000" stroke-width="2.5"/>
<text x="1545.23" y="1109.24" text-anchor="middle">0</text>
<line x1="1595.57" y1="1075.23" x2="1595.57" y2="1086.23" stroke="#000" stroke-width="2.5"/>
<text x="1595.57" y="1109.24" text-anchor="middle">1</text>
<line x1="1645.91" y1="1075.23" x2="1645.91" y2="1086.23" stroke="#000" stroke-width="2.5"/>
<text x="1645.91" y="1109.24" text-anchor="middle">2</text>
<line x1="1696.25" y1="1075.23" x2="1696.25" y2="1086.23" stroke="#000" stroke-width="2.5"/>
<text x="1696.25" y="1109.24" text-anchor="middle">3</text>
<line x1="1746.59" y1="1075.23" x2="1746.59" y2="1086.23" stroke="#000" stroke-width="2.5"/>
<text x="1746.59" y="1109.24" text-anchor="middle">4</text>
<line x1="1796.93" y1="1075.23" x2="1796.93" y2="1086.23" stroke="#000" stroke-width="2.5"/>
<text x="1796.93" y="1109.24" text-anchor="middle">5</text>
<line x1="1847.26" y1="1075.23" x2="1847.26" y2="1086.23" stroke="#000" stroke-width="2.5"/>
<text x="1847.26" y="1109.24" text-anchor="middle">6</text>
<line x1="1534.23" y1="1075.23" x2="1545.23" y2="1075.23" stroke="#000" stroke-width="2.5"/>
<text x="1530.23" y="1082.0975" text-anchor="end">0</text>
<line x1="1534.23" y1="1029.99" x2="1545.23" y2="1029.99" stroke="#000" stroke-width="2.5"/>
<text x="1530.23" y="1036.8575" text-anchor="end">5</text>
<line x1="1534.23" y1="984.41" x2="1545.23" y2="984.41" stroke="#000" stroke-width="2.5"/>
<text x="1530.23" y="991.2774999999999" text-anchor="end">10</text>
<line x1="1534.23" y1="939.18" x2="1545.23" y2="939.18" stroke="#000" stroke-width="2.5"/>
<text x="1530.23" y="946.0474999999999" text-anchor="end">15</text>
<line x1="1534.23" y1="893.94" x2="1545.23" y2="893.94" stroke="#000" stroke-width="2.5"/>
<text x="1530.23" y="900.8075" text-anchor="end">20</text>
<line x1="1534.23" y1="848.71" x2="1545.23" y2="848.71" stroke="#000" stroke-width="2.5"/>
<text x="1530.23" y="855.5775" text-anchor="end">25</text>
<line x1="1796.93" y1="880.0" x2="1796.93" y2="897.0" stroke="#999999" stroke-width="1.5"/>
<line x1="1791.93" y1="880.0" x2="1801.93" y2="880.0" stroke="#999999" stroke-width="1.5"/>
<line x1="1791.93" y1="897.0" x2="1801.93" y2="897.0" stroke="#999999" stroke-width="1.5"/>
<line x1="1746.59" y1="959.25" x2="1746.59" y2="984.41" stroke="#999999" stroke-width="1.5"/>
<line x1="1741.59" y1="959.25" x2="1751.59" y2="959.25" stroke="#999999" stroke-width="1.5"/>
<line x1="1741.59" y1="984.41" x2="1751.59" y2="984.41" stroke="#999999" stroke-width="1.5"/>
<line x1="1696.25" y1="990.88" x2="1696.25" y2="1008.56" stroke="#999999" stroke-width="1.5"/>
<line x1="1691.25" y1="990.88" x2="1701.25" y2="990.88" stroke="#999999" stroke-width="1.5"/>
<line x1="1691.25" y1="1008.56" x2="1701.25" y2="1008.56" stroke="#999999" stroke-width="1.5"/>
<polyline points="1545.23,1066.72 1595.57,1058.9 1645.91,1045.3 1696.25,1000.06 1746.59,972.51 1796.93,888.5" fill="none" stroke="#999999" stroke-width="2.6" stroke-dasharray="8 4" stroke-linejoin="round"/>
<circle cx="1545.23" cy="1066.72" r="5.4" fill="#999999"/>
<circle cx="1595.57" cy="1058.9" r="5.4" fill="#999999"/>
<circle cx="1645.91" cy="1045.3" r="5.4" fill="#999999"/>
<circle cx="1696.25" cy="1000.06" r="5.4" fill="#999999"/>
<circle cx="1746.59" cy="972.51" r="5.4" fill="#999999"/>
<circle cx="1796.93" cy="888.5" r="5.4" fill="#999999"/>
<line x1="1796.93" y1="941.56" x2="1796.93" y2="956.86" stroke="#999999" stroke-width="1.5"/>
<line x1="1791.93" y1="941.56" x2="1801.93" y2="941.56" stroke="#999999" stroke-width="1.5"/>
<line x1="1791.93" y1="956.86" x2="1801.93" y2="956.86" stroke="#999999" stroke-width="1.5"/>
<polyline points="1545.23,1066.72 1595.57,1060.6 1645.91,1048.7 1696.25,1029.99 1746.59,1008.9 1796.93,949.04" fill="none" stroke="#999999" stroke-width="2.6" stroke-linejoin="round"/>
<circle cx="1545.23" cy="1066.72" r="5.4" fill="#999999"/>
<circle cx="1595.57" cy="1060.6" r="5.4" fill="#999999"/>
<circle cx="1645.91" cy="1048.7" r="5.4" fill="#999999"/>
<circle cx="1696.25" cy="1029.99" r="5.4" fill="#999999"/>
<circle cx="1746.59" cy="1008.9" r="5.4" fill="#999999"/>
<circle cx="1796.93" cy="949.04" r="5.4" fill="#999999"/>
<line x1="1796.93" y1="964.69" x2="1796.93" y2="977.27" stroke="#ff7e79" stroke-width="1.5"/>
<line x1="1791.93" y1="964.69" x2="1801.93" y2="964.69" stroke="#ff7e79" stroke-width="1.5"/>
<line x1="1791.93" y1="977.27" x2="1801.93" y2="977.27" stroke="#ff7e79" stroke-width="1.5"/>
<polyline points="1545.23,1066.72 1595.57,1063.32 1645.91,1052.1 1696.25,1035.77 1746.59,1019.79 1796.93,970.47" fill="none" stroke="#ff7e79" stroke-width="2.6" stroke-dasharray="8 4" stroke-linejoin="round"/>
<circle cx="1545.23" cy="1066.72" r="5.4" fill="#ff7e79"/>
<circle cx="1595.57" cy="1063.32" r="5.4" fill="#ff7e79"/>
<circle cx="1645.91" cy="1052.1" r="5.4" fill="#ff7e79"/>
<circle cx="1696.25" cy="1035.77" r="5.4" fill="#ff7e79"/>
<circle cx="1746.59" cy="1019.79" r="5.4" fill="#ff7e79"/>
<circle cx="1796.93" cy="970.47" r="5.4" fill="#ff7e79"/>
<line x1="1696.25" y1="1018.09" x2="1696.25" y2="1031.69" stroke="#ff2600" stroke-width="1.5"/>
<line x1="1691.25" y1="1018.09" x2="1701.25" y2="1018.09" stroke="#ff2600" stroke-width="1.5"/>
<line x1="1691.25" y1="1031.69" x2="1701.25" y2="1031.69" stroke="#ff2600" stroke-width="1.5"/>
<line x1="1796.93" y1="957.54" x2="1796.93" y2="969.79" stroke="#ff2600" stroke-width="1.5"/>
<line x1="1791.93" y1="957.54" x2="1801.93" y2="957.54" stroke="#ff2600" stroke-width="1.5"/>
<line x1="1791.93" y1="969.79" x2="1801.93" y2="969.79" stroke="#ff2600" stroke-width="1.5"/>
<polyline points="1545.23,1066.72 1595.57,1062.98 1645.91,1052.1 1696.25,1024.89 1746.59,1018.09 1796.93,963.67" fill="none" stroke="#ff2600" stroke-width="2.6" stroke-dasharray="8 4" stroke-linejoin="round"/>
<circle cx="1545.23" cy="1066.72" r="5.4" fill="#ff2600"/>
<circle cx="1595.57" cy="1062.98" r="5.4" fill="#ff2600"/>
<circle cx="1645.91" cy="1052.1" r="5.4" fill="#ff2600"/>
<circle cx="1696.25" cy="1024.89" r="5.4" fill="#ff2600"/>
<circle cx="1746.59" cy="1018.09" r="5.4" fill="#ff2600"/>
<circle cx="1796.93" cy="963.67" r="5.4" fill="#ff2600"/>
<line x1="1796.93" y1="1001.08" x2="1796.93" y2="1031.69" stroke="#ff2600" stroke-width="1.5"/>
<line x1="1791.93" y1="1001.08" x2="1801.93" y2="1001.08" stroke="#ff2600" stroke-width="1.5"/>
<line x1="1791.93" y1="1031.69" x2="1801.93" y2="1031.69" stroke="#ff2600" stroke-width="1.5"/>
<line x1="1746.59" y1="1025.57" x2="1746.59" y2="1041.22" stroke="#ff2600" stroke-width="1.5"/>
<line x1="1741.59" y1="1025.57" x2="1751.59" y2="1025.57" stroke="#ff2600" stroke-width="1.5"/>
<line x1="1741.59" y1="1041.22" x2="1751.59" y2="1041.22" stroke="#ff2600" stroke-width="1.5"/>
<polyline points="1545.23,1066.72 1595.57,1064.0 1645.91,1054.48 1696.25,1041.9 1746.59,1033.39 1796.93,1015.37" fill="none" stroke="#ff2600" stroke-width="2.6" stroke-linejoin="round"/>
<circle cx="1545.23" cy="1066.72" r="5.4" fill="#ff2600"/>
<circle cx="1595.57" cy="1064.0" r="5.4" fill="#ff2600"/>
<circle cx="1645.91" cy="1054.48" r="5.4" fill="#ff2600"/>
<circle cx="1696.25" cy="1041.9" r="5.4" fill="#ff2600"/>
<circle cx="1746.59" cy="1033.39" r="5.4" fill="#ff2600"/>
<circle cx="1796.93" cy="1015.37" r="5.4" fill="#ff2600"/>
<line x1="1796.93" y1="1002.78" x2="1796.93" y2="1035.77" stroke="#ff7e79" stroke-width="1.5"/>
<line x1="1791.93" y1="1002.78" x2="1801.93" y2="1002.78" stroke="#ff7e79" stroke-width="1.5"/>
<line x1="1791.93" y1="1035.77" x2="1801.93" y2="1035.77" stroke="#ff7e79" stroke-width="1.5"/>
<line x1="1746.59" y1="1035.09" x2="1746.59" y2="1048.7" stroke="#ff7e79" stroke-width="1.5"/>
<line x1="1741.59" y1="1035.09" x2="1751.59" y2="1035.09" stroke="#ff7e79" stroke-width="1.5"/>
<line x1="1741.59" y1="1048.7" x2="1751.59" y2="1048.7" stroke="#ff7e79" stroke-width="1.5"/>
<polyline points="1545.23,1066.72 1595.57,1065.02 1645.91,1055.5 1696.25,1044.28 1746.59,1041.9 1796.93,1019.79" fill="none" stroke="#ff7e79" stroke-width="2.6" stroke-linejoin="round"/>
<circle cx="1545.23" cy="1066.72" r="5.4" fill="#ff7e79"/>
<circle cx="1595.57" cy="1065.02" r="5.4" fill="#ff7e79"/>
<circle cx="1645.91" cy="1055.5" r="5.4" fill="#ff7e79"/>
<circle cx="1696.25" cy="1044.28" r="5.4" fill="#ff7e79"/>
<circle cx="1746.59" cy="1041.9" r="5.4" fill="#ff7e79"/>
<circle cx="1796.93" cy="1019.79" r="5.4" fill="#ff7e79"/>
<text x="1696.25" y="1133.73" text-anchor="middle">Days</text>
<text text-anchor="middle" transform="translate(1489.11 946.66) rotate(-90)">Cell number fold change</text>
<line x1="1558.84" y1="842.4" x2="1587.07" y2="842.4" stroke="#999999" stroke-width="2.6" stroke-dasharray="6 3"/>
<circle cx="1572.955" cy="842.4" r="5.4" fill="#999999"/>
<text x="1602.37" y="848.571" font-size="18.7">shNC</text>
<line x1="1558.84" y1="862.13" x2="1587.07" y2="862.13" stroke="#999999" stroke-width="2.6"/>
<circle cx="1572.955" cy="862.13" r="5.4" fill="#999999"/>
<text x="1602.37" y="868.301" font-size="18.7">shNC+ATRA</text>
<line x1="1558.84" y1="881.52" x2="1587.07" y2="881.52" stroke="#ff7e79" stroke-width="2.6" stroke-dasharray="6 3"/>
<circle cx="1572.955" cy="881.52" r="5.4" fill="#ff7e79"/>
<text x="1602.37" y="887.691" font-size="18.7">shCDK9-1</text>
<line x1="1558.84" y1="900.9" x2="1587.07" y2="900.9" stroke="#ff7e79" stroke-width="2.6"/>
<circle cx="1572.955" cy="900.9" r="5.4" fill="#ff7e79"/>
<text x="1602.37" y="907.071" font-size="18.7">shCDK9-1+ATRA</text>
<line x1="1558.84" y1="920.97" x2="1587.07" y2="920.97" stroke="#ff2600" stroke-width="2.6" stroke-dasharray="6 3"/>
<circle cx="1572.955" cy="920.97" r="5.4" fill="#ff2600"/>
<text x="1602.37" y="927.1410000000001" font-size="18.7">shCDK9-2</text>
<line x1="1558.84" y1="940.36" x2="1587.07" y2="940.36" stroke="#ff2600" stroke-width="2.6"/>
<circle cx="1572.955" cy="940.36" r="5.4" fill="#ff2600"/>
<text x="1602.37" y="946.5310000000001" font-size="18.7">shCDK9-2+ATRA</text>
<polyline points="1809.17,889.86 1817.67,889.86 1817.67,1015.37 1809.17,1015.37" fill="none" stroke="#000" stroke-width="1.5"/>
<line x1="1809.17" y1="953.46" x2="1817.67" y2="953.46" stroke="#000" stroke-width="1.5"/>
<line x1="1809.51" y1="949.04" x2="1809.51" y2="957.54" stroke="#000" stroke-width="1.5"/>
<line x1="1809.51" y1="1011.28" x2="1809.51" y2="1022.17" stroke="#000" stroke-width="1.5"/>
<polyline points="1853.39,889.86 1860.87,889.86 1860.87,1015.37 1853.39,1015.37" fill="none" stroke="#000" stroke-width="1.5"/>
<text text-anchor="middle" font-size="20.3" transform="translate(1830.26 909.25) rotate(90)"><tspan style="word-spacing:-0.9px"><tspan font-style="italic">P</tspan> = 0.0007</tspan></text>
<text text-anchor="middle" font-size="20.3" transform="translate(1830.26 1007.88) rotate(90)"><tspan style="word-spacing:-0.9px"><tspan font-style="italic">P</tspan> = 0.0073</tspan></text>
<text text-anchor="middle" font-size="20.3" transform="translate(1872.77 951.76) rotate(90)"><tspan style="word-spacing:-0.9px"><tspan font-style="italic">P</tspan> = 0.0002</tspan></text>
<text x="11.77" y="1188.48" font-weight="bold" font-size="46.5">j</text>
<line x1="273.91" y1="1247.34" x2="273.91" y2="1471.45" stroke="#000" stroke-width="1.8"/>
<line x1="273.91" y1="1641.23" x2="273.91" y2="1744.45" stroke="#000" stroke-width="1.8"/>
<line x1="273.01000000000005" y1="1248.55" x2="443.95" y2="1248.55" stroke="#000" stroke-width="1.8"/>
<polygon points="450.25,1248.55 439.75,1244.45 439.75,1252.6499999999999" fill="#000"/>
<line x1="273.91" y1="1401.35" x2="443.95" y2="1401.35" stroke="#000" stroke-width="1.8"/>
<polygon points="450.25,1401.35 439.75,1397.25 439.75,1405.4499999999998" fill="#000"/>
<line x1="340.46" y1="1558.55" x2="446.21999999999997" y2="1558.55" stroke="#000" stroke-width="1.8"/>
<polygon points="452.52,1558.55 442.02,1554.45 442.02,1562.6499999999999" fill="#000"/>
<line x1="273.01000000000005" y1="1744.4" x2="443.95" y2="1744.4" stroke="#000" stroke-width="1.8"/>
<polygon points="450.25,1744.4 439.75,1740.3000000000002 439.75,1748.5" fill="#000"/>
<line x1="128.58" y1="1557.9" x2="199.7" y2="1557.9" stroke="#000" stroke-width="1.8"/>
<polygon points="206.0,1557.9 195.5,1553.8000000000002 195.5,1562.0" fill="#000"/>
<line x1="399.29" y1="1241.05" x2="414.29" y2="1256.05" stroke="#000" stroke-width="2.6"/>
<line x1="399.29" y1="1256.05" x2="414.29" y2="1241.05" stroke="#000" stroke-width="2.6"/>
<line x1="399.29" y1="1736.9" x2="414.29" y2="1751.9" stroke="#000" stroke-width="2.6"/>
<line x1="399.29" y1="1751.9" x2="414.29" y2="1736.9" stroke="#000" stroke-width="2.6"/>
<line x1="566.38" y1="1248.55" x2="603.09" y2="1248.55" stroke="#000" stroke-width="1.8" stroke-dasharray="3.2 1.8"/>
<polygon points="609.39,1248.55 598.89,1244.45 598.89,1252.6499999999999" fill="#000"/>
<line x1="579.48" y1="1241.5" x2="594.48" y2="1256.5" stroke="#000" stroke-width="2.6"/>
<line x1="579.48" y1="1256.5" x2="594.48" y2="1241.5" stroke="#000" stroke-width="2.6"/>
<line x1="567.97" y1="1401.35" x2="605.36" y2="1401.35" stroke="#000" stroke-width="1.8" stroke-dasharray="3.2 1.8"/>
<polygon points="611.66,1401.35 601.16,1397.25 601.16,1405.4499999999998" fill="#000"/>
<line x1="567.97" y1="1558.55" x2="605.36" y2="1558.55" stroke="#000" stroke-width="1.8" stroke-dasharray="3.2 1.8"/>
<polygon points="611.66,1558.55 601.16,1554.45 601.16,1562.6499999999999" fill="#000"/>
<circle cx="96.89" cy="1463.05" r="6.3" fill="#3b5dff" stroke="#2947ee" stroke-width="1.2"/>
<circle cx="92.13" cy="1479.12" r="6.3" fill="#3b5dff" stroke="#2947ee" stroke-width="1.2"/>
<circle cx="38.03" cy="1486.82" r="6.3" fill="#3b5dff" stroke="#2947ee" stroke-width="1.2"/>
<circle cx="124.73" cy="1489.54" r="6.3" fill="#3b5dff" stroke="#2947ee" stroke-width="1.2"/>
<circle cx="70.85" cy="1497.23" r="6.3" fill="#3b5dff" stroke="#2947ee" stroke-width="1.2"/>
<circle cx="88.06" cy="1502.67" r="6.3" fill="#3b5dff" stroke="#2947ee" stroke-width="1.2"/>
<circle cx="66.1" cy="1513.53" r="6.3" fill="#3b5dff" stroke="#2947ee" stroke-width="1.2"/>
<circle cx="120.88" cy="1512.85" r="6.3" fill="#3b5dff" stroke="#2947ee" stroke-width="1.2"/>
<circle cx="98.92" cy="1523.49" r="6.3" fill="#3b5dff" stroke="#2947ee" stroke-width="1.2"/>
<circle cx="6.79" cy="1538.89" r="6.3" fill="#3b5dff" stroke="#2947ee" stroke-width="1.2"/>
<circle cx="62.03" cy="1537.07" r="6.3" fill="#3b5dff" stroke="#2947ee" stroke-width="1.2"/>
<circle cx="39.39" cy="1549.07" r="6.3" fill="#3b5dff" stroke="#2947ee" stroke-width="1.2"/>
<circle cx="94.62" cy="1547.26" r="6.3" fill="#3b5dff" stroke="#2947ee" stroke-width="1.2"/>
<circle cx="34.63" cy="1565.37" r="6.3" fill="#3b5dff" stroke="#2947ee" stroke-width="1.2"/>
<circle cx="90.32" cy="1563.56" r="6.3" fill="#3b5dff" stroke="#2947ee" stroke-width="1.2"/>
<circle cx="67.23" cy="1575.56" r="6.3" fill="#3b5dff" stroke="#2947ee" stroke-width="1.2"/>
<circle cx="101.41" cy="1578.95" r="6.3" fill="#3b5dff" stroke="#2947ee" stroke-width="1.2"/>
<circle cx="122.92" cy="1573.97" r="6.3" fill="#3b5dff" stroke="#2947ee" stroke-width="1.2"/>
<circle cx="30.79" cy="1588.91" r="6.3" fill="#3b5dff" stroke="#2947ee" stroke-width="1.2"/>
<circle cx="63.38" cy="1599.1" r="6.3" fill="#3b5dff" stroke="#2947ee" stroke-width="1.2"/>
<circle cx="58.86" cy="1615.63" r="6.3" fill="#3b5dff" stroke="#2947ee" stroke-width="1.2"/>
<circle cx="91.45" cy="1625.59" r="6.3" fill="#3b5dff" stroke="#2947ee" stroke-width="1.2"/>
<circle cx="125.64" cy="1629.21" r="6.3" fill="#3b5dff" stroke="#2947ee" stroke-width="1.2"/>
<text x="82.63" y="1672.22" text-anchor="middle" font-size="21.3">ATRA</text>
<text x="167.52" y="1547.71" text-anchor="middle" font-size="21.3">RARα</text>
<circle cx="296.55" cy="1572.16" r="29.27" fill="#fb7878" stroke="#ffd7da" stroke-width="6.2" filter="url(#ds)"/>
<circle cx="239.95" cy="1554.05" r="29.27" fill="#fb7878" stroke="#ffd7da" stroke-width="6.2" filter="url(#ds)"/>
<circle cx="294.28" cy="1533.0" r="29.27" fill="#fb7878" stroke="#ffd7da" stroke-width="6.2" filter="url(#ds)"/>
<circle cx="263.04" cy="1574.43" r="29.27" fill="#fb7878" stroke="#ffd7da" stroke-width="6.2" filter="url(#ds)"/>
<circle cx="251.95" cy="1521.68" r="29.27" fill="#fb7878" stroke="#ffd7da" stroke-width="6.2" filter="url(#ds)"/>
<text x="275.72" y="1630.34" text-anchor="middle" font-size="21.3">CTCL</text>
<circle cx="492.36" cy="1222.52" r="29.27" fill="#ff8080" stroke="#ffcfcf" stroke-width="6.2" filter="url(#ds)"/>
<circle cx="517.26" cy="1248.1" r="29.27" fill="#b0acac" stroke="#d8d8d8" stroke-width="6.2" filter="url(#ds)"/>
<circle cx="486.02" cy="1257.83" r="29.67" fill="#b0acac" stroke="#d8d8d8" stroke-width="6.2" filter="url(#ds)"/>
<text x="508.21" y="1313.29" text-anchor="middle" font-size="21.3">Th17 like CTCL</text>
<text x="615.05" y="1256.47" font-size="21.3">IL-17A, <tspan fill="#3a3a3a">IL-21</tspan></text>
<circle cx="498.47" cy="1373.06" r="29.27" fill="#ff8080" stroke="#ffcfcf" stroke-width="6.2" filter="url(#ds)"/>
<circle cx="523.37" cy="1397.5" r="29.27" fill="#9b9bfa" stroke="#d6d4fb" stroke-width="6.2" filter="url(#ds)"/>
<circle cx="491.68" cy="1407.24" r="29.67" fill="#9b9bfa" stroke="#d6d4fb" stroke-width="6.2" filter="url(#ds)"/>
<text x="513.87" y="1463.75" text-anchor="middle" font-size="21.3">Treg like CTCL</text>
<text x="635.88" y="1409.28" font-size="21.3">IL-10, <tspan fill="#3a3a3a">TGF-β</tspan></text>
<line x1="623.66" y1="1381.21" x2="623.66" y2="1416.64" stroke="#0433ff" stroke-width="3.0"/>
<polygon points="623.66,1423.99 618.66,1413.49 628.66,1413.49" fill="#0433ff"/>
<circle cx="501.19" cy="1536.59" r="29.27" fill="#ff8080" stroke="#ffcfcf" stroke-width="6.2" filter="url(#ds)"/>
<circle cx="526.09" cy="1560.81" r="29.27" fill="#6262ff" stroke="#a4a1f9" stroke-width="6.2" filter="url(#ds)"/>
<circle cx="495.08" cy="1570.55" r="29.67" fill="#6262ff" stroke="#a4a1f9" stroke-width="6.2" filter="url(#ds)"/>
<text x="515.9" y="1627.14" text-anchor="middle" font-size="21.3">Th1 like CTCL</text>
<text x="634.97" y="1567.83" font-size="21.3">IFN-γ, <tspan fill="#3a3a3a">TNF-β</tspan></text>
<line x1="622.98" y1="1580.28" x2="622.98" y2="1545.53" stroke="#ff0000" stroke-width="3.0"/>
<polygon points="622.98,1538.18 617.98,1548.68 627.98,1548.68" fill="#ff0000"/>
<circle cx="491.68" cy="1731.27" r="29.27" fill="#fb7878" stroke="#ffd7da" stroke-width="6.2" filter="url(#ds)"/>
<circle cx="547.14" cy="1751.65" r="29.27" fill="#fb7878" stroke="#ffd7da" stroke-width="6.2" filter="url(#ds)"/>
<circle cx="596.94" cy="1742.59" r="29.27" fill="#fb7878" stroke="#ffd7da" stroke-width="6.2" filter="url(#ds)"/>
<circle cx="728.24" cy="1752.78" r="29.27" fill="#fb7878" stroke="#ffd7da" stroke-width="6.2" filter="url(#ds)"/>
<circle cx="635.43" cy="1695.05" r="29.27" fill="#fb7878" stroke="#ffd7da" stroke-width="6.2" filter="url(#ds)"/>
<circle cx="671.65" cy="1731.27" r="29.27" fill="#fb7878" stroke="#ffd7da" stroke-width="6.2" filter="url(#ds)"/>
<circle cx="633.16" cy="1744.86" r="29.27" fill="#fb7878" stroke="#ffd7da" stroke-width="6.2" filter="url(#ds)"/>
<circle cx="728.24" cy="1714.3" r="29.27" fill="#fb7878" stroke="#ffd7da" stroke-width="6.2" filter="url(#ds)"/>
<circle cx="547.14" cy="1714.3" r="29.27" fill="#fb7878" stroke="#ffd7da" stroke-width="6.2" filter="url(#ds)"/>
<circle cx="595.13" cy="1710.45" r="29.27" fill="#fb7878" stroke="#ffd7da" stroke-width="6.2" filter="url(#ds)"/>
<circle cx="515.45" cy="1755.04" r="29.27" fill="#fb7878" stroke="#ffd7da" stroke-width="6.2" filter="url(#ds)"/>
<circle cx="695.42" cy="1755.72" r="29.27" fill="#fb7878" stroke="#ffd7da" stroke-width="6.2" filter="url(#ds)"/>
<circle cx="504.58" cy="1702.98" r="29.27" fill="#fb7878" stroke="#ffd7da" stroke-width="6.2" filter="url(#ds)"/>
<circle cx="684.78" cy="1702.3" r="29.27" fill="#fb7878" stroke="#ffd7da" stroke-width="6.2" filter="url(#ds)"/>
<text x="612.34" y="1811.64" text-anchor="middle" font-size="21.3">Th2 like CTCL</text>
<line x1="312.39" y1="1226.97" x2="312.39" y2="1262.63" stroke="#0433ff" stroke-width="3.0"/>
<polygon points="312.39,1269.98 307.39,1259.48 317.39,1259.48" fill="#0433ff"/>
<text x="323.71" y="1245.53" font-size="21.3">RORγt</text>
<text x="326.88" y="1269.98" font-size="21.3">IL-6R</text>
<line x1="316.92" y1="1421.65" x2="316.92" y2="1385.99" stroke="#ff0000" stroke-width="3.0"/>
<polygon points="316.92,1378.64 311.92,1389.14 321.92,1389.14" fill="#ff0000"/>
<text x="326.88" y="1398.1" font-size="21.3">Foxp3</text>
<text x="328.24" y="1423.01" font-size="21.3">IL-2R</text>
<line x1="352.46" y1="1578.73" x2="352.46" y2="1543.29" stroke="#ff0000" stroke-width="3.0"/>
<polygon points="352.46,1535.94 347.46,1546.44 357.46,1546.44" fill="#ff0000"/>
<text x="367.63" y="1554.3" font-size="21.3">STAT4</text>
<text x="361.29" y="1578.3" font-size="21.3">IL-12Rb</text>
<line x1="288.85" y1="1654.81" x2="288.85" y2="1680.51" stroke="#0433ff" stroke-width="3.0"/>
<polygon points="288.85,1687.86 283.85,1677.36 293.85,1677.36" fill="#0433ff"/>
<line x1="288.85" y1="1697.82" x2="288.85" y2="1723.52" stroke="#0433ff" stroke-width="3.0"/>
<polygon points="288.85,1730.87 283.85,1720.37 293.85,1720.37" fill="#0433ff"/>
<text x="297.91" y="1676.54" font-size="21.3">STAT6,GATA-3</text>
<text x="300.17" y="1720.46" font-size="21.3">IL-4,<tspan fill="#3a3a3a">IL-13</tspan></text>
<text x="797.83" y="1189.62" font-weight="bold" font-size="46.5">l</text>
<text x="848.53" y="1189.62" font-size="21.2">ATRA</text>
<text x="1384.92" y="1189.62" text-anchor="end" font-size="21.2">HH</text>
<rect x="855.66" y="1195.56" width="177.87" height="297.51" fill="#fff"/>
<g clip-path="url(#fl1)">
<line x1="879.04" y1="1195.56" x2="879.04" y2="1486.73" stroke="#8a8a8a" stroke-width="1.2"/>
<line x1="855.66" y1="1315.2" x2="1033.54" y2="1315.2" stroke="#dcdcdc" stroke-width="1.0"/>
<path d="M893.8,1315.2 L896.3,1314.7 L898.9,1314.5 L901.4,1314.2 L903.9,1313.7 L906.5,1313.1 L909.0,1312.4 L911.6,1311.5 L914.1,1310.4 L916.6,1309.0 L919.2,1307.1 L921.7,1304.2 L924.3,1299.3 L926.8,1290.7 L929.4,1277.0 L931.9,1257.9 L934.4,1235.8 L937.0,1216.2 L939.5,1205.5 L942.1,1207.6 L944.6,1221.9 L947.1,1243.3 L949.7,1265.4 L952.2,1283.4 L954.8,1295.8 L957.3,1303.2 L959.9,1307.3 L962.4,1309.7 L964.9,1311.2 L967.5,1312.2 L970.0,1313.0 L972.5,1313.6 L975.1,1314.1 L977.6,1314.4 L980.2,1314.7 L982.7,1315.2" fill="#e9e9e9" fill-opacity="0.95" stroke="#cdcdcd" stroke-width="1.5" stroke-linejoin="round"/>
<line x1="855.66" y1="1374.22" x2="1033.54" y2="1374.22" stroke="#bdbdbd" stroke-width="1.0"/>
<path d="M868.4,1374.2 L870.9,1373.9 L873.5,1373.8 L876.0,1373.6 L878.5,1373.4 L881.1,1373.1 L883.6,1372.8 L886.2,1372.3 L888.7,1371.8 L891.2,1371.2 L893.8,1370.5 L896.3,1369.7 L898.9,1368.8 L901.4,1367.9 L903.9,1366.8 L906.5,1365.7 L909.0,1364.5 L911.6,1363.1 L914.1,1361.1 L916.6,1358.1 L919.2,1353.6 L921.7,1346.9 L924.3,1338.0 L926.8,1327.7 L929.4,1317.8 L931.9,1310.7 L934.4,1308.5 L937.0,1311.8 L939.5,1320.0 L942.1,1331.0 L944.6,1342.3 L947.1,1352.0 L949.7,1359.5 L952.2,1364.5 L954.8,1367.7 L957.3,1369.6 L959.9,1370.8 L962.4,1371.6 L964.9,1372.2 L967.5,1372.7 L970.0,1373.1 L972.5,1373.4 L975.1,1373.6 L977.6,1373.8 L980.2,1373.9 L982.7,1374.2" fill="#bdbdbd" fill-opacity="0.72" stroke="#858585" stroke-width="1.5" stroke-linejoin="round"/>
<line x1="855.66" y1="1432.46" x2="1033.54" y2="1432.46" stroke="#3fd0d0" stroke-width="1.0"/>
<path d="M931.9,1432.5 L934.4,1432.1 L937.0,1431.4 L939.5,1429.5 L942.1,1425.3 L944.6,1416.9 L947.1,1402.9 L949.7,1383.9 L952.2,1363.4 L954.8,1347.4 L957.3,1341.0 L959.9,1345.4 L962.4,1357.4 L964.9,1372.0 L967.5,1385.2 L970.0,1395.7 L972.5,1404.0 L975.1,1410.9 L977.6,1416.7 L980.2,1421.6 L982.7,1425.4 L985.3,1428.2 L987.8,1430.0 L990.3,1431.2 L992.9,1431.8 L995.4,1432.5" fill="#7fe8e6" fill-opacity="0.72" stroke="#1fc8c8" stroke-width="1.5" stroke-linejoin="round"/>
<path d="M944.6,1488.7 L947.1,1488.3 L949.7,1487.5 L952.2,1485.2 L954.8,1479.5 L957.3,1467.7 L959.9,1448.4 L962.4,1425.4 L964.9,1407.6 L967.5,1403.5 L970.0,1413.3 L972.5,1429.4 L975.1,1443.4 L977.6,1452.8 L980.2,1459.4 L982.7,1465.7 L985.3,1472.3 L987.8,1478.5 L990.3,1483.2 L992.9,1486.2 L995.4,1487.7 L998.0,1488.7" fill="#b9b6f7" fill-opacity="0.68" stroke="#8480e4" stroke-width="1.5" stroke-linejoin="round"/>
<line x1="855.66" y1="1488.71" x2="1033.54" y2="1488.71" stroke="#111" stroke-width="1.6"/>
<line x1="855.66" y1="1491.91" x2="1033.54" y2="1491.91" stroke="#b9b6f7" stroke-width="1.0"/>
<line x1="877.01" y1="1488.71" x2="877.01" y2="1491.71" stroke="#333" stroke-width="0.8"/>
<line x1="912.58" y1="1488.71" x2="912.58" y2="1491.71" stroke="#333" stroke-width="0.8"/>
<line x1="948.16" y1="1488.71" x2="948.16" y2="1491.71" stroke="#333" stroke-width="0.8"/>
<line x1="983.73" y1="1488.71" x2="983.73" y2="1491.71" stroke="#333" stroke-width="0.8"/>
<line x1="1019.31" y1="1488.71" x2="1019.31" y2="1491.71" stroke="#333" stroke-width="0.8"/>
</g>
<rect x="855.66" y="1195.56" width="177.87" height="297.51" fill="none" stroke="#8a8a8a" stroke-width="1.4"/>
<text x="1025.61" y="1222.31" text-anchor="end" font-size="21.6">isotype</text>
<text x="1027.2" y="1334.02" text-anchor="end" font-size="21.6">isotype</text>
<rect x="1037.1" y="1195.56" width="178.27" height="297.51" fill="#fff"/>
<g clip-path="url(#fl2)">
<line x1="1037.1" y1="1315.2" x2="1215.37" y2="1315.2" stroke="#dcdcdc" stroke-width="1.0"/>
<path d="M1057.5,1315.2 L1060.0,1314.6 L1062.6,1314.4 L1065.1,1314.0 L1067.7,1313.6 L1070.2,1313.1 L1072.8,1312.4 L1075.3,1311.6 L1077.8,1310.6 L1080.4,1309.5 L1082.9,1308.1 L1085.5,1306.5 L1088.0,1304.3 L1090.6,1301.1 L1093.1,1296.1 L1095.7,1288.2 L1098.2,1276.6 L1100.8,1261.2 L1103.3,1243.1 L1105.9,1225.3 L1108.4,1212.0 L1111.0,1206.7 L1113.5,1210.9 L1116.0,1223.7 L1118.6,1241.5 L1121.1,1260.2 L1123.7,1276.6 L1126.2,1289.1 L1128.8,1297.7 L1131.3,1303.1 L1133.9,1306.5 L1136.4,1308.6 L1139.0,1310.1 L1141.5,1311.3 L1144.1,1312.2 L1146.6,1312.9 L1149.2,1313.5 L1151.7,1313.9 L1154.2,1314.3 L1156.8,1314.5 L1159.3,1314.7 L1161.9,1315.2" fill="#e9e9e9" fill-opacity="0.95" stroke="#cdcdcd" stroke-width="1.5" stroke-linejoin="round"/>
<line x1="1037.1" y1="1374.22" x2="1215.37" y2="1374.22" stroke="#bdbdbd" stroke-width="1.0"/>
<path d="M1037.1,1374.2 L1039.7,1373.9 L1042.2,1373.7 L1044.7,1373.5 L1047.3,1373.2 L1049.8,1372.9 L1052.4,1372.5 L1054.9,1372.0 L1057.5,1371.3 L1060.0,1370.5 L1062.6,1369.7 L1065.1,1368.7 L1067.7,1367.6 L1070.2,1366.3 L1072.8,1365.1 L1075.3,1363.7 L1077.8,1362.3 L1080.4,1360.6 L1082.9,1358.6 L1085.5,1355.7 L1088.0,1351.2 L1090.6,1344.8 L1093.1,1336.0 L1095.7,1325.4 L1098.2,1314.7 L1100.8,1306.3 L1103.3,1302.5 L1105.9,1304.7 L1108.4,1312.4 L1111.0,1323.6 L1113.5,1335.9 L1116.0,1347.0 L1118.6,1355.7 L1121.1,1361.8 L1123.7,1365.8 L1126.2,1368.2 L1128.8,1369.8 L1131.3,1370.9 L1133.9,1371.7 L1136.4,1372.2 L1139.0,1372.7 L1141.5,1373.1 L1144.1,1373.4 L1146.6,1373.6 L1149.2,1373.8 L1151.7,1373.9 L1154.2,1374.2" fill="#bdbdbd" fill-opacity="0.72" stroke="#858585" stroke-width="1.5" stroke-linejoin="round"/>
<line x1="1037.1" y1="1432.46" x2="1215.37" y2="1432.46" stroke="#3fd0d0" stroke-width="1.0"/>
<path d="M1108.4,1432.5 L1111.0,1432.2 L1113.5,1431.6 L1116.0,1430.4 L1118.6,1428.0 L1121.1,1424.0 L1123.7,1418.3 L1126.2,1411.5 L1128.8,1405.0 L1131.3,1400.6 L1133.9,1399.5 L1136.4,1401.4 L1139.0,1405.3 L1141.5,1409.3 L1144.1,1412.1 L1146.6,1413.1 L1149.2,1412.5 L1151.7,1410.8 L1154.2,1408.3 L1156.8,1405.2 L1159.3,1401.4 L1161.9,1396.6 L1164.4,1390.9 L1167.0,1384.6 L1169.5,1378.3 L1172.1,1373.2 L1174.6,1370.1 L1177.2,1369.9 L1179.7,1372.8 L1182.3,1378.6 L1184.8,1386.5 L1187.4,1395.4 L1189.9,1404.3 L1192.5,1412.3 L1195.0,1418.8 L1197.5,1423.8 L1200.1,1427.2 L1202.6,1429.5 L1205.2,1430.9 L1207.7,1431.7 L1210.3,1432.1 L1212.8,1432.5" fill="#7fe8e6" fill-opacity="0.72" stroke="#1fc8c8" stroke-width="1.5" stroke-linejoin="round"/>
<path d="M1100.8,1488.7 L1103.3,1488.2 L1105.9,1487.6 L1108.4,1486.6 L1111.0,1484.9 L1113.5,1482.4 L1116.0,1479.1 L1118.6,1475.2 L1121.1,1471.2 L1123.7,1467.6 L1126.2,1465.1 L1128.8,1463.9 L1131.3,1463.6 L1133.9,1463.4 L1136.4,1462.5 L1139.0,1460.3 L1141.5,1457.0 L1144.1,1453.2 L1146.6,1449.4 L1149.2,1445.7 L1151.7,1442.2 L1154.2,1438.6 L1156.8,1435.5 L1159.3,1433.5 L1161.9,1433.2 L1164.4,1435.3 L1167.0,1439.5 L1169.5,1445.6 L1172.1,1452.7 L1174.6,1460.0 L1177.2,1467.0 L1179.7,1473.0 L1182.3,1477.9 L1184.8,1481.7 L1187.4,1484.3 L1189.9,1486.1 L1192.5,1487.2 L1195.0,1487.9 L1197.5,1488.3 L1200.1,1488.7" fill="#b9b6f7" fill-opacity="0.68" stroke="#8480e4" stroke-width="1.5" stroke-linejoin="round"/>
<line x1="1037.1" y1="1488.71" x2="1215.37" y2="1488.71" stroke="#111" stroke-width="1.6"/>
<line x1="1037.1" y1="1491.91" x2="1215.37" y2="1491.91" stroke="#b9b6f7" stroke-width="1.0"/>
<line x1="1058.49" y1="1488.71" x2="1058.49" y2="1491.71" stroke="#333" stroke-width="0.8"/>
<line x1="1094.15" y1="1488.71" x2="1094.15" y2="1491.71" stroke="#333" stroke-width="0.8"/>
<line x1="1129.8" y1="1488.71" x2="1129.8" y2="1491.71" stroke="#333" stroke-width="0.8"/>
<line x1="1165.46" y1="1488.71" x2="1165.46" y2="1491.71" stroke="#333" stroke-width="0.8"/>
<line x1="1201.11" y1="1488.71" x2="1201.11" y2="1491.71" stroke="#333" stroke-width="0.8"/>
</g>
<rect x="1037.1" y="1195.56" width="178.27" height="297.51" fill="none" stroke="#8a8a8a" stroke-width="1.4"/>
<text x="1207.05" y="1222.31" text-anchor="end" font-size="21.6">isotype</text>
<text x="1208.64" y="1334.02" text-anchor="end" font-size="21.6">isotype</text>
<rect x="1218.54" y="1195.56" width="178.66" height="297.51" fill="#fff"/>
<g clip-path="url(#fl3)">
<line x1="1218.54" y1="1315.2" x2="1397.2" y2="1315.2" stroke="#dcdcdc" stroke-width="1.0"/>
<path d="M1226.2,1315.2 L1228.8,1314.9 L1231.3,1314.7 L1233.8,1314.6 L1236.4,1314.3 L1239.0,1314.0 L1241.5,1313.7 L1244.1,1313.2 L1246.6,1312.7 L1249.2,1312.0 L1251.7,1311.2 L1254.3,1310.3 L1256.8,1309.3 L1259.4,1308.2 L1261.9,1307.0 L1264.5,1305.7 L1267.0,1304.3 L1269.6,1302.7 L1272.1,1301.0 L1274.7,1298.8 L1277.2,1295.9 L1279.8,1292.0 L1282.3,1286.6 L1284.9,1279.5 L1287.5,1270.8 L1290.0,1261.0 L1292.6,1251.3 L1295.1,1243.3 L1297.7,1238.4 L1300.2,1238.0 L1302.8,1242.0 L1305.3,1250.0 L1307.9,1260.5 L1310.4,1271.8 L1313.0,1282.6 L1315.5,1291.7 L1318.1,1298.7 L1320.6,1303.8 L1323.2,1307.3 L1325.7,1309.7 L1328.3,1311.2 L1330.8,1312.2 L1333.4,1313.0 L1336.0,1313.5 L1338.5,1313.9 L1341.0,1314.3 L1343.6,1314.5 L1346.2,1314.7 L1348.7,1314.8 L1351.3,1315.2" fill="#e9e9e9" fill-opacity="0.95" stroke="#cdcdcd" stroke-width="1.5" stroke-linejoin="round"/>
<line x1="1218.54" y1="1374.22" x2="1397.2" y2="1374.22" stroke="#bdbdbd" stroke-width="1.0"/>
<path d="M1226.2,1374.2 L1228.8,1373.8 L1231.3,1373.6 L1233.8,1373.4 L1236.4,1373.1 L1239.0,1372.7 L1241.5,1372.2 L1244.1,1371.7 L1246.6,1371.0 L1249.2,1370.2 L1251.7,1369.3 L1254.3,1368.3 L1256.8,1367.1 L1259.4,1365.8 L1261.9,1364.4 L1264.5,1362.8 L1267.0,1361.0 L1269.6,1358.7 L1272.1,1355.7 L1274.7,1351.5 L1277.2,1345.8 L1279.8,1338.3 L1282.3,1329.0 L1284.9,1318.5 L1287.5,1307.9 L1290.0,1298.8 L1292.6,1292.9 L1295.1,1291.4 L1297.7,1294.9 L1300.2,1302.7 L1302.8,1313.4 L1305.3,1325.3 L1307.9,1336.8 L1310.4,1346.7 L1313.0,1354.5 L1315.5,1360.3 L1318.1,1364.3 L1320.6,1367.0 L1323.2,1368.9 L1325.7,1370.2 L1328.3,1371.1 L1330.8,1371.8 L1333.4,1372.4 L1336.0,1372.8 L1338.5,1373.2 L1341.0,1373.4 L1343.6,1373.7 L1346.2,1373.8 L1348.7,1374.2" fill="#bdbdbd" fill-opacity="0.72" stroke="#858585" stroke-width="1.5" stroke-linejoin="round"/>
<line x1="1218.54" y1="1432.46" x2="1397.2" y2="1432.46" stroke="#3fd0d0" stroke-width="1.0"/>
<path d="M1228.8,1432.5 L1231.3,1432.0 L1233.8,1431.8 L1236.4,1431.5 L1239.0,1431.1 L1241.5,1430.6 L1244.1,1429.9 L1246.6,1429.0 L1249.2,1428.0 L1251.7,1426.6 L1254.3,1425.1 L1256.8,1423.3 L1259.4,1421.3 L1261.9,1419.1 L1264.5,1416.7 L1267.0,1414.3 L1269.6,1411.7 L1272.1,1408.9 L1274.7,1405.7 L1277.2,1401.5 L1279.8,1395.9 L1282.3,1388.2 L1284.9,1378.1 L1287.5,1366.0 L1290.0,1353.5 L1292.6,1343.0 L1295.1,1337.0 L1297.7,1337.4 L1300.2,1344.6 L1302.8,1357.2 L1305.3,1372.5 L1307.9,1387.8 L1310.4,1401.1 L1313.0,1411.4 L1315.5,1418.7 L1318.1,1423.4 L1320.6,1426.4 L1323.2,1428.3 L1325.7,1429.6 L1328.3,1430.4 L1330.8,1431.0 L1333.4,1431.5 L1336.0,1431.8 L1338.5,1432.0 L1341.0,1432.5" fill="#7fe8e6" fill-opacity="0.72" stroke="#1fc8c8" stroke-width="1.5" stroke-linejoin="round"/>
<path d="M1239.0,1488.7 L1241.5,1488.4 L1244.1,1488.2 L1246.6,1487.9 L1249.2,1487.4 L1251.7,1486.7 L1254.3,1485.8 L1256.8,1484.6 L1259.4,1483.1 L1261.9,1481.2 L1264.5,1478.9 L1267.0,1476.3 L1269.6,1473.3 L1272.1,1469.9 L1274.7,1465.9 L1277.2,1461.1 L1279.8,1455.5 L1282.3,1448.8 L1284.9,1441.5 L1287.5,1434.1 L1290.0,1427.7 L1292.6,1423.5 L1295.1,1422.5 L1297.7,1425.3 L1300.2,1431.6 L1302.8,1440.4 L1305.3,1450.4 L1307.9,1460.3 L1310.4,1469.0 L1313.0,1475.9 L1315.5,1480.9 L1318.1,1484.2 L1320.6,1486.3 L1323.2,1487.5 L1325.7,1488.1 L1328.3,1488.4 L1330.8,1488.7" fill="#b9b6f7" fill-opacity="0.68" stroke="#8480e4" stroke-width="1.5" stroke-linejoin="round"/>
<line x1="1218.54" y1="1488.71" x2="1397.2" y2="1488.71" stroke="#111" stroke-width="1.6"/>
<line x1="1218.54" y1="1491.91" x2="1397.2" y2="1491.91" stroke="#b9b6f7" stroke-width="1.0"/>
<line x1="1239.98" y1="1488.71" x2="1239.98" y2="1491.71" stroke="#333" stroke-width="0.8"/>
<line x1="1275.71" y1="1488.71" x2="1275.71" y2="1491.71" stroke="#333" stroke-width="0.8"/>
<line x1="1311.45" y1="1488.71" x2="1311.45" y2="1491.71" stroke="#333" stroke-width="0.8"/>
<line x1="1347.18" y1="1488.71" x2="1347.18" y2="1491.71" stroke="#333" stroke-width="0.8"/>
<line x1="1382.91" y1="1488.71" x2="1382.91" y2="1491.71" stroke="#333" stroke-width="0.8"/>
</g>
<rect x="1218.54" y="1195.56" width="178.66" height="297.51" fill="none" stroke="#8a8a8a" stroke-width="1.4"/>
<text x="1392.05" y="1222.31" text-anchor="end" font-size="21.6">isotype</text>
<text x="1393.64" y="1334.02" text-anchor="end" font-size="21.6">isotype</text>
<text x="868.74" y="1299.11" text-anchor="middle" fill="#222" font-size="21">−</text>
<text x="868.74" y="1354.58" text-anchor="middle" fill="#222" font-size="21">+</text>
<text x="868.74" y="1411.23" text-anchor="middle" fill="#222" font-size="21">−</text>
<text x="868.74" y="1466.69" text-anchor="middle" fill="#222" font-size="21">+</text>
<text x="863.19" y="1514.46" font-size="21.2">CD25</text>
<line x1="918.65" y1="1508.52" x2="1024.37" y2="1508.52" stroke="#000" stroke-width="1.6"/>
<polygon points="1030.37,1508.52 1020.3699999999999,1504.52 1020.3699999999999,1512.52" fill="#000"/>
<text x="1044.63" y="1514.46" font-size="21.2">CD5</text>
<line x1="1090.98" y1="1508.52" x2="1201.05" y2="1508.52" stroke="#000" stroke-width="1.6"/>
<polygon points="1207.05,1508.52 1197.05,1504.52 1197.05,1512.52" fill="#000"/>
<text x="1224.48" y="1514.46" font-size="21.2">CD7</text>
<line x1="1271.23" y1="1508.52" x2="1380.9" y2="1508.52" stroke="#000" stroke-width="1.6"/>
<polygon points="1386.9,1508.52 1376.9,1504.52 1376.9,1512.52" fill="#000"/>
<text x="848.53" y="1558.52" font-size="21.2">ATRA</text>
<text x="1396.02" y="1558.52" text-anchor="end" font-size="21.2">Hut78</text>
<rect x="855.66" y="1564.07" width="177.87" height="299.89" fill="#fff"/>
<g clip-path="url(#fl4)">
<line x1="879.04" y1="1564.07" x2="879.04" y2="1856.83" stroke="#8a8a8a" stroke-width="1.2"/>
<line x1="855.66" y1="1685.29" x2="1033.54" y2="1685.29" stroke="#dcdcdc" stroke-width="1.0"/>
<path d="M891.2,1685.3 L893.8,1684.8 L896.3,1684.5 L898.9,1684.0 L901.4,1683.5 L903.9,1682.7 L906.5,1681.7 L909.0,1680.5 L911.6,1679.2 L914.1,1677.6 L916.6,1676.0 L919.2,1674.1 L921.7,1671.5 L924.3,1666.8 L926.8,1657.3 L929.4,1640.8 L931.9,1619.5 L934.4,1601.6 L937.0,1597.3 L939.5,1609.9 L942.1,1632.2 L944.6,1653.7 L947.1,1668.4 L949.7,1676.2 L952.2,1679.8 L954.8,1681.6 L957.3,1682.7 L959.9,1683.5 L962.4,1684.1 L964.9,1684.5 L967.5,1684.8 L970.0,1685.3" fill="#e9e9e9" fill-opacity="0.95" stroke="#cdcdcd" stroke-width="1.5" stroke-linejoin="round"/>
<line x1="855.66" y1="1743.92" x2="1033.54" y2="1743.92" stroke="#bdbdbd" stroke-width="1.0"/>
<path d="M883.6,1743.9 L886.2,1743.5 L888.7,1743.3 L891.2,1743.0 L893.8,1742.5 L896.3,1741.9 L898.9,1741.2 L901.4,1740.2 L903.9,1739.0 L906.5,1737.6 L909.0,1736.1 L911.6,1734.4 L914.1,1732.5 L916.6,1730.2 L919.2,1727.0 L921.7,1721.6 L924.3,1712.6 L926.8,1699.1 L929.4,1682.6 L931.9,1667.5 L934.4,1659.5 L937.0,1662.5 L939.5,1675.5 L942.1,1693.6 L944.6,1710.9 L947.1,1723.9 L949.7,1732.1 L952.2,1736.7 L954.8,1739.2 L957.3,1740.7 L959.9,1741.6 L962.4,1742.3 L964.9,1742.8 L967.5,1743.2 L970.0,1743.4 L972.5,1743.9" fill="#bdbdbd" fill-opacity="0.72" stroke="#858585" stroke-width="1.5" stroke-linejoin="round"/>
<line x1="855.66" y1="1802.55" x2="1033.54" y2="1802.55" stroke="#3fd0d0" stroke-width="1.0"/>
<path d="M903.9,1802.5 L906.5,1802.1 L909.0,1801.7 L911.6,1801.0 L914.1,1800.1 L916.6,1798.7 L919.2,1796.9 L921.7,1794.5 L924.3,1791.7 L926.8,1788.5 L929.4,1784.6 L931.9,1779.2 L934.4,1770.4 L937.0,1755.7 L939.5,1734.8 L942.1,1711.6 L944.6,1695.3 L947.1,1694.4 L949.7,1710.5 L952.2,1736.5 L954.8,1762.4 L957.3,1781.4 L959.9,1792.5 L962.4,1798.0 L964.9,1800.4 L967.5,1801.5 L970.0,1802.0 L972.5,1802.5" fill="#7fe8e6" fill-opacity="0.72" stroke="#1fc8c8" stroke-width="1.5" stroke-linejoin="round"/>
<path d="M921.7,1858.8 L924.3,1858.3 L926.8,1858.0 L929.4,1857.3 L931.9,1856.2 L934.4,1854.5 L937.0,1851.7 L939.5,1846.9 L942.1,1838.7 L944.6,1825.6 L947.1,1807.3 L949.7,1786.3 L952.2,1768.7 L954.8,1761.0 L957.3,1766.6 L959.9,1783.4 L962.4,1805.0 L964.9,1824.8 L967.5,1839.3 L970.0,1848.2 L972.5,1853.2 L975.1,1855.8 L977.6,1857.2 L980.2,1857.9 L982.7,1858.3 L985.3,1858.8" fill="#b9b6f7" fill-opacity="0.68" stroke="#8480e4" stroke-width="1.5" stroke-linejoin="round"/>
<line x1="855.66" y1="1858.81" x2="1033.54" y2="1858.81" stroke="#111" stroke-width="1.6"/>
<line x1="855.66" y1="1862.01" x2="1033.54" y2="1862.01" stroke="#b9b6f7" stroke-width="1.0"/>
<line x1="877.01" y1="1858.81" x2="877.01" y2="1861.81" stroke="#333" stroke-width="0.8"/>
<line x1="912.58" y1="1858.81" x2="912.58" y2="1861.81" stroke="#333" stroke-width="0.8"/>
<line x1="948.16" y1="1858.81" x2="948.16" y2="1861.81" stroke="#333" stroke-width="0.8"/>
<line x1="983.73" y1="1858.81" x2="983.73" y2="1861.81" stroke="#333" stroke-width="0.8"/>
<line x1="1019.31" y1="1858.81" x2="1019.31" y2="1861.81" stroke="#333" stroke-width="0.8"/>
</g>
<rect x="855.66" y="1564.07" width="177.87" height="299.89" fill="none" stroke="#8a8a8a" stroke-width="1.4"/>
<text x="1025.61" y="1591.22" text-anchor="end" font-size="21.6">isotype</text>
<text x="1027.2" y="1703.33" text-anchor="end" font-size="21.6">isotype</text>
<rect x="1037.1" y="1564.07" width="178.27" height="299.89" fill="#fff"/>
<g clip-path="url(#fl5)">
<line x1="1037.1" y1="1685.29" x2="1215.37" y2="1685.29" stroke="#dcdcdc" stroke-width="1.0"/>
<path d="M1047.3,1685.3 L1049.8,1684.9 L1052.4,1684.6 L1054.9,1684.3 L1057.5,1683.8 L1060.0,1683.2 L1062.6,1682.3 L1065.1,1681.3 L1067.7,1680.0 L1070.2,1678.5 L1072.8,1676.7 L1075.3,1674.8 L1077.8,1672.8 L1080.4,1670.7 L1082.9,1668.6 L1085.5,1666.2 L1088.0,1663.1 L1090.6,1658.6 L1093.1,1652.0 L1095.7,1642.9 L1098.2,1632.2 L1100.8,1621.8 L1103.3,1614.9 L1105.9,1614.0 L1108.4,1619.9 L1111.0,1631.2 L1113.5,1644.9 L1116.0,1657.9 L1118.6,1668.2 L1121.1,1675.4 L1123.7,1679.7 L1126.2,1682.2 L1128.8,1683.5 L1131.3,1684.2 L1133.9,1684.6 L1136.4,1684.9 L1139.0,1685.3" fill="#e9e9e9" fill-opacity="0.95" stroke="#cdcdcd" stroke-width="1.5" stroke-linejoin="round"/>
<line x1="1037.1" y1="1743.92" x2="1215.37" y2="1743.92" stroke="#bdbdbd" stroke-width="1.0"/>
<path d="M1047.3,1743.9 L1049.8,1743.6 L1052.4,1743.4 L1054.9,1743.2 L1057.5,1742.8 L1060.0,1742.3 L1062.6,1741.6 L1065.1,1740.7 L1067.7,1739.5 L1070.2,1738.1 L1072.8,1736.5 L1075.3,1734.6 L1077.8,1732.7 L1080.4,1730.6 L1082.9,1728.6 L1085.5,1726.6 L1088.0,1724.7 L1090.6,1722.5 L1093.1,1719.3 L1095.7,1713.8 L1098.2,1705.3 L1100.8,1694.2 L1103.3,1683.5 L1105.9,1677.4 L1108.4,1679.0 L1111.0,1688.5 L1113.5,1702.5 L1116.0,1716.5 L1118.6,1727.5 L1121.1,1734.5 L1123.7,1738.5 L1126.2,1740.7 L1128.8,1741.9 L1131.3,1742.6 L1133.9,1743.0 L1136.4,1743.3 L1139.0,1743.5 L1141.5,1743.9" fill="#bdbdbd" fill-opacity="0.72" stroke="#858585" stroke-width="1.5" stroke-linejoin="round"/>
<line x1="1037.1" y1="1802.55" x2="1215.37" y2="1802.55" stroke="#3fd0d0" stroke-width="1.0"/>
<path d="M1080.4,1802.5 L1082.9,1802.1 L1085.5,1802.0 L1088.0,1801.8 L1090.6,1801.6 L1093.1,1801.4 L1095.7,1801.2 L1098.2,1801.0 L1100.8,1800.8 L1103.3,1800.5 L1105.9,1800.3 L1108.4,1800.1 L1111.0,1800.0 L1113.5,1799.9 L1116.0,1799.8 L1118.6,1799.9 L1121.1,1799.9 L1123.7,1800.0 L1126.2,1800.2 L1128.8,1800.3 L1131.3,1800.5 L1133.9,1800.6 L1136.4,1800.7 L1139.0,1800.6 L1141.5,1800.2 L1144.1,1799.6 L1146.6,1798.7 L1149.2,1797.2 L1151.7,1795.2 L1154.2,1792.7 L1156.8,1789.7 L1159.3,1786.3 L1161.9,1782.5 L1164.4,1777.9 L1167.0,1771.9 L1169.5,1763.0 L1172.1,1750.0 L1174.6,1732.9 L1177.2,1714.2 L1179.7,1699.1 L1182.3,1693.2 L1184.8,1699.7 L1187.4,1717.0 L1189.9,1739.8 L1192.5,1761.9 L1195.0,1779.1 L1197.5,1790.3 L1200.1,1796.7 L1202.6,1799.9 L1205.2,1801.3 L1207.7,1802.0 L1210.3,1802.5" fill="#7fe8e6" fill-opacity="0.72" stroke="#1fc8c8" stroke-width="1.5" stroke-linejoin="round"/>
<path d="M1123.7,1858.8 L1126.2,1858.3 L1128.8,1857.9 L1131.3,1857.2 L1133.9,1856.3 L1136.4,1855.1 L1139.0,1853.4 L1141.5,1851.1 L1144.1,1848.3 L1146.6,1844.6 L1149.2,1839.5 L1151.7,1832.4 L1154.2,1822.3 L1156.8,1808.7 L1159.3,1792.5 L1161.9,1776.3 L1164.4,1764.0 L1167.0,1759.8 L1169.5,1765.3 L1172.1,1779.3 L1174.6,1798.0 L1177.2,1816.9 L1179.7,1832.5 L1182.3,1843.7 L1184.8,1850.7 L1187.4,1854.7 L1189.9,1856.7 L1192.5,1857.8 L1195.0,1858.3 L1197.5,1858.8" fill="#b9b6f7" fill-opacity="0.68" stroke="#8480e4" stroke-width="1.5" stroke-linejoin="round"/>
<line x1="1037.1" y1="1858.81" x2="1215.37" y2="1858.81" stroke="#111" stroke-width="1.6"/>
<line x1="1037.1" y1="1862.01" x2="1215.37" y2="1862.01" stroke="#b9b6f7" stroke-width="1.0"/>
<line x1="1058.49" y1="1858.81" x2="1058.49" y2="1861.81" stroke="#333" stroke-width="0.8"/>
<line x1="1094.15" y1="1858.81" x2="1094.15" y2="1861.81" stroke="#333" stroke-width="0.8"/>
<line x1="1129.8" y1="1858.81" x2="1129.8" y2="1861.81" stroke="#333" stroke-width="0.8"/>
<line x1="1165.46" y1="1858.81" x2="1165.46" y2="1861.81" stroke="#333" stroke-width="0.8"/>
<line x1="1201.11" y1="1858.81" x2="1201.11" y2="1861.81" stroke="#333" stroke-width="0.8"/>
</g>
<rect x="1037.1" y="1564.07" width="178.27" height="299.89" fill="none" stroke="#8a8a8a" stroke-width="1.4"/>
<text x="1207.05" y="1591.22" text-anchor="end" font-size="21.6">isotype</text>
<text x="1208.64" y="1703.33" text-anchor="end" font-size="21.6">isotype</text>
<rect x="1218.54" y="1564.07" width="178.66" height="299.89" fill="#fff"/>
<g clip-path="url(#fl6)">
<line x1="1218.54" y1="1685.29" x2="1397.2" y2="1685.29" stroke="#dcdcdc" stroke-width="1.0"/>
<path d="M1233.8,1685.3 L1236.4,1684.8 L1239.0,1684.7 L1241.5,1684.4 L1244.1,1684.0 L1246.6,1683.5 L1249.2,1682.9 L1251.7,1682.1 L1254.3,1681.1 L1256.8,1680.0 L1259.4,1678.6 L1261.9,1677.0 L1264.5,1675.3 L1267.0,1673.4 L1269.6,1671.4 L1272.1,1669.2 L1274.7,1666.7 L1277.2,1663.6 L1279.8,1659.3 L1282.3,1653.3 L1284.9,1644.5 L1287.5,1632.8 L1290.0,1618.5 L1292.6,1603.3 L1295.1,1590.0 L1297.7,1581.7 L1300.2,1580.7 L1302.8,1587.7 L1305.3,1601.1 L1307.9,1618.0 L1310.4,1635.4 L1313.0,1650.5 L1315.5,1662.3 L1318.1,1670.5 L1320.6,1675.9 L1323.2,1679.2 L1325.7,1681.2 L1328.3,1682.5 L1330.8,1683.3 L1333.4,1683.9 L1336.0,1684.3 L1338.5,1684.6 L1341.0,1684.8 L1343.6,1685.3" fill="#e9e9e9" fill-opacity="0.95" stroke="#cdcdcd" stroke-width="1.5" stroke-linejoin="round"/>
<line x1="1218.54" y1="1743.92" x2="1397.2" y2="1743.92" stroke="#bdbdbd" stroke-width="1.0"/>
<path d="M1231.3,1743.9 L1233.8,1743.5 L1236.4,1743.3 L1239.0,1743.0 L1241.5,1742.6 L1244.1,1742.1 L1246.6,1741.5 L1249.2,1740.7 L1251.7,1739.7 L1254.3,1738.5 L1256.8,1737.0 L1259.4,1735.4 L1261.9,1733.6 L1264.5,1731.6 L1267.0,1729.5 L1269.6,1727.3 L1272.1,1724.9 L1274.7,1722.4 L1277.2,1719.4 L1279.8,1715.4 L1282.3,1709.8 L1284.9,1701.8 L1287.5,1691.0 L1290.0,1677.8 L1292.6,1663.8 L1295.1,1651.7 L1297.7,1644.2 L1300.2,1643.7 L1302.8,1650.6 L1305.3,1663.7 L1307.9,1680.0 L1310.4,1696.6 L1313.0,1711.1 L1315.5,1722.3 L1318.1,1730.2 L1320.6,1735.3 L1323.2,1738.4 L1325.7,1740.3 L1328.3,1741.5 L1330.8,1742.2 L1333.4,1742.7 L1336.0,1743.1 L1338.5,1743.3 L1341.0,1743.9" fill="#bdbdbd" fill-opacity="0.72" stroke="#858585" stroke-width="1.5" stroke-linejoin="round"/>
<line x1="1218.54" y1="1802.55" x2="1397.2" y2="1802.55" stroke="#3fd0d0" stroke-width="1.0"/>
<path d="M1228.8,1802.5 L1231.3,1802.1 L1233.8,1801.9 L1236.4,1801.6 L1239.0,1801.2 L1241.5,1800.7 L1244.1,1800.0 L1246.6,1799.1 L1249.2,1798.0 L1251.7,1796.7 L1254.3,1795.2 L1256.8,1793.4 L1259.4,1791.3 L1261.9,1789.1 L1264.5,1786.8 L1267.0,1784.3 L1269.6,1781.8 L1272.1,1779.1 L1274.7,1776.2 L1277.2,1772.6 L1279.8,1767.8 L1282.3,1761.0 L1284.9,1751.8 L1287.5,1740.1 L1290.0,1727.0 L1292.6,1714.7 L1295.1,1705.9 L1297.7,1703.1 L1300.2,1707.5 L1302.8,1718.3 L1305.3,1733.4 L1307.9,1749.8 L1310.4,1764.9 L1313.0,1777.1 L1315.5,1786.0 L1318.1,1792.0 L1320.6,1795.8 L1323.2,1798.1 L1325.7,1799.5 L1328.3,1800.5 L1330.8,1801.1 L1333.4,1801.5 L1336.0,1801.8 L1338.5,1802.1 L1341.0,1802.5" fill="#7fe8e6" fill-opacity="0.72" stroke="#1fc8c8" stroke-width="1.5" stroke-linejoin="round"/>
<path d="M1239.0,1858.8 L1241.5,1858.3 L1244.1,1858.0 L1246.6,1857.7 L1249.2,1857.1 L1251.7,1856.3 L1254.3,1855.3 L1256.8,1854.1 L1259.4,1852.5 L1261.9,1850.5 L1264.5,1848.3 L1267.0,1845.8 L1269.6,1843.0 L1272.1,1839.9 L1274.7,1836.6 L1277.2,1832.6 L1279.8,1827.7 L1282.3,1821.0 L1284.9,1812.2 L1287.5,1801.1 L1290.0,1788.4 L1292.6,1775.9 L1295.1,1766.2 L1297.7,1761.8 L1300.2,1764.3 L1302.8,1773.5 L1305.3,1787.7 L1307.9,1804.0 L1310.4,1819.7 L1313.0,1832.7 L1315.5,1842.4 L1318.1,1849.0 L1320.6,1853.0 L1323.2,1855.5 L1325.7,1856.8 L1328.3,1857.6 L1330.8,1858.1 L1333.4,1858.4 L1336.0,1858.8" fill="#b9b6f7" fill-opacity="0.68" stroke="#8480e4" stroke-width="1.5" stroke-linejoin="round"/>
<line x1="1218.54" y1="1858.81" x2="1397.2" y2="1858.81" stroke="#111" stroke-width="1.6"/>
<line x1="1218.54" y1="1862.01" x2="1397.2" y2="1862.01" stroke="#b9b6f7" stroke-width="1.0"/>
<line x1="1239.98" y1="1858.81" x2="1239.98" y2="1861.81" stroke="#333" stroke-width="0.8"/>
<line x1="1275.71" y1="1858.81" x2="1275.71" y2="1861.81" stroke="#333" stroke-width="0.8"/>
<line x1="1311.45" y1="1858.81" x2="1311.45" y2="1861.81" stroke="#333" stroke-width="0.8"/>
<line x1="1347.18" y1="1858.81" x2="1347.18" y2="1861.81" stroke="#333" stroke-width="0.8"/>
<line x1="1382.91" y1="1858.81" x2="1382.91" y2="1861.81" stroke="#333" stroke-width="0.8"/>
</g>
<rect x="1218.54" y="1564.07" width="178.66" height="299.89" fill="none" stroke="#8a8a8a" stroke-width="1.4"/>
<text x="1392.05" y="1591.22" text-anchor="end" font-size="21.6">isotype</text>
<text x="1393.64" y="1703.33" text-anchor="end" font-size="21.6">isotype</text>
<text x="868.74" y="1667.23" text-anchor="middle" fill="#222" font-size="21">−</text>
<text x="868.74" y="1723.48" text-anchor="middle" fill="#222" font-size="21">+</text>
<text x="868.74" y="1779.74" text-anchor="middle" fill="#222" font-size="21">−</text>
<text x="868.74" y="1835.59" text-anchor="middle" fill="#222" font-size="21">+</text>
<text x="863.19" y="1883.76" font-size="21.2">CD25</text>
<line x1="918.65" y1="1878.61" x2="1024.37" y2="1878.61" stroke="#000" stroke-width="1.6"/>
<polygon points="1030.37,1878.61 1020.3699999999999,1874.61 1020.3699999999999,1882.61" fill="#000"/>
<text x="1044.63" y="1883.76" font-size="21.2">CD5</text>
<line x1="1090.98" y1="1878.61" x2="1201.05" y2="1878.61" stroke="#000" stroke-width="1.6"/>
<polygon points="1207.05,1878.61 1197.05,1874.61 1197.05,1882.61" fill="#000"/>
<text x="1224.48" y="1883.76" font-size="21.2">CD7</text>
<line x1="1271.23" y1="1878.61" x2="1380.9" y2="1878.61" stroke="#000" stroke-width="1.6"/>
<polygon points="1386.9,1878.61 1376.9,1874.61 1376.9,1882.61" fill="#000"/>
<text x="1439.45" y="1190.13" font-weight="bold" font-size="46.5">n</text>
<line x1="1548.63" y1="1264.39" x2="1548.63" y2="1493.08" stroke="#000" stroke-width="2.5"/>
<line x1="1537.63" y1="1491.83" x2="1851.91" y2="1491.83" stroke="#000" stroke-width="2.5"/>
<line x1="1548.63" y1="1491.83" x2="1548.63" y2="1502.83" stroke="#000" stroke-width="2.5"/>
<text x="1548.63" y="1525.84" text-anchor="middle">0</text>
<line x1="1649.31" y1="1491.83" x2="1649.31" y2="1502.83" stroke="#000" stroke-width="2.5"/>
<text x="1649.31" y="1525.84" text-anchor="middle">2</text>
<line x1="1749.99" y1="1491.83" x2="1749.99" y2="1502.83" stroke="#000" stroke-width="2.5"/>
<text x="1749.99" y="1525.84" text-anchor="middle">4</text>
<line x1="1850.66" y1="1491.83" x2="1850.66" y2="1502.83" stroke="#000" stroke-width="2.5"/>
<text x="1850.66" y="1525.84" text-anchor="middle">6</text>
<line x1="1537.63" y1="1491.83" x2="1548.63" y2="1491.83" stroke="#000" stroke-width="2.5"/>
<text x="1533.63" y="1498.6975" text-anchor="end">0</text>
<line x1="1537.63" y1="1446.93" x2="1548.63" y2="1446.93" stroke="#000" stroke-width="2.5"/>
<text x="1533.63" y="1453.7975000000001" text-anchor="end">6</text>
<line x1="1537.63" y1="1401.69" x2="1548.63" y2="1401.69" stroke="#000" stroke-width="2.5"/>
<text x="1533.63" y="1408.5575000000001" text-anchor="end">12</text>
<line x1="1537.63" y1="1356.12" x2="1548.63" y2="1356.12" stroke="#000" stroke-width="2.5"/>
<text x="1533.63" y="1362.9875" text-anchor="end">18</text>
<line x1="1537.63" y1="1310.54" x2="1548.63" y2="1310.54" stroke="#000" stroke-width="2.5"/>
<text x="1533.63" y="1317.4075" text-anchor="end">24</text>
<line x1="1537.63" y1="1265.64" x2="1548.63" y2="1265.64" stroke="#000" stroke-width="2.5"/>
<text x="1533.63" y="1272.5075000000002" text-anchor="end">30</text>
<line x1="1800.33" y1="1440.13" x2="1800.33" y2="1457.81" stroke="#ff2f92" stroke-width="1.5"/>
<line x1="1795.33" y1="1440.13" x2="1805.33" y2="1440.13" stroke="#ff2f92" stroke-width="1.5"/>
<line x1="1795.33" y1="1457.81" x2="1805.33" y2="1457.81" stroke="#ff2f92" stroke-width="1.5"/>
<polyline points="1548.63,1486.04 1598.97,1483.32 1649.31,1478.9 1699.65,1466.66 1749.99,1456.45 1800.33,1449.31" fill="none" stroke="#ff2f92" stroke-width="2.6" stroke-linejoin="round"/>
<circle cx="1548.63" cy="1486.04" r="5.4" fill="#ff2f92"/>
<circle cx="1598.97" cy="1483.32" r="5.4" fill="#ff2f92"/>
<circle cx="1649.31" cy="1478.9" r="5.4" fill="#ff2f92"/>
<circle cx="1699.65" cy="1466.66" r="5.4" fill="#ff2f92"/>
<circle cx="1749.99" cy="1456.45" r="5.4" fill="#ff2f92"/>
<circle cx="1800.33" cy="1449.31" r="5.4" fill="#ff2f92"/>
<line x1="1749.99" y1="1408.49" x2="1749.99" y2="1421.42" stroke="#0433ff" stroke-width="1.5"/>
<line x1="1744.99" y1="1408.49" x2="1754.99" y2="1408.49" stroke="#0433ff" stroke-width="1.5"/>
<line x1="1744.99" y1="1421.42" x2="1754.99" y2="1421.42" stroke="#0433ff" stroke-width="1.5"/>
<polyline points="1548.63,1485.02 1598.97,1480.94 1649.31,1466.32 1699.65,1447.61 1749.99,1414.62 1800.33,1374.48" fill="none" stroke="#0433ff" stroke-width="2.6" stroke-linejoin="round"/>
<circle cx="1548.63" cy="1485.02" r="5.4" fill="#0433ff"/>
<circle cx="1598.97" cy="1480.94" r="5.4" fill="#0433ff"/>
<circle cx="1649.31" cy="1466.32" r="5.4" fill="#0433ff"/>
<circle cx="1699.65" cy="1447.61" r="5.4" fill="#0433ff"/>
<circle cx="1749.99" cy="1414.62" r="5.4" fill="#0433ff"/>
<circle cx="1800.33" cy="1374.48" r="5.4" fill="#0433ff"/>
<line x1="1749.99" y1="1399.99" x2="1749.99" y2="1418.7" stroke="#ffa6c9" stroke-width="1.5"/>
<line x1="1744.99" y1="1399.99" x2="1754.99" y2="1399.99" stroke="#ffa6c9" stroke-width="1.5"/>
<line x1="1744.99" y1="1418.7" x2="1754.99" y2="1418.7" stroke="#ffa6c9" stroke-width="1.5"/>
<polyline points="1548.63,1485.7 1598.97,1482.64 1649.31,1470.74 1699.65,1451.01 1749.99,1409.51 1800.33,1359.86" fill="none" stroke="#ffa6c9" stroke-width="2.6" stroke-linejoin="round"/>
<circle cx="1548.63" cy="1485.7" r="5.4" fill="#ffa6c9"/>
<circle cx="1598.97" cy="1482.64" r="5.4" fill="#ffa6c9"/>
<circle cx="1649.31" cy="1470.74" r="5.4" fill="#ffa6c9"/>
<circle cx="1699.65" cy="1451.01" r="5.4" fill="#ffa6c9"/>
<circle cx="1749.99" cy="1409.51" r="5.4" fill="#ffa6c9"/>
<circle cx="1800.33" cy="1359.86" r="5.4" fill="#ffa6c9"/>
<line x1="1800.33" y1="1283.67" x2="1800.33" y2="1316.32" stroke="#999999" stroke-width="1.5"/>
<line x1="1795.33" y1="1283.67" x2="1805.33" y2="1283.67" stroke="#999999" stroke-width="1.5"/>
<line x1="1795.33" y1="1316.32" x2="1805.33" y2="1316.32" stroke="#999999" stroke-width="1.5"/>
<line x1="1749.99" y1="1336.05" x2="1749.99" y2="1368.36" stroke="#999999" stroke-width="1.5"/>
<line x1="1744.99" y1="1336.05" x2="1754.99" y2="1336.05" stroke="#999999" stroke-width="1.5"/>
<line x1="1744.99" y1="1368.36" x2="1754.99" y2="1368.36" stroke="#999999" stroke-width="1.5"/>
<polyline points="1548.63,1485.02 1598.97,1480.26 1649.31,1463.93 1699.65,1431.62 1749.99,1352.37 1800.33,1299.99" fill="none" stroke="#999999" stroke-width="2.6" stroke-linejoin="round"/>
<circle cx="1548.63" cy="1485.02" r="5.4" fill="#999999"/>
<circle cx="1598.97" cy="1480.26" r="5.4" fill="#999999"/>
<circle cx="1649.31" cy="1463.93" r="5.4" fill="#999999"/>
<circle cx="1699.65" cy="1431.62" r="5.4" fill="#999999"/>
<circle cx="1749.99" cy="1352.37" r="5.4" fill="#999999"/>
<circle cx="1800.33" cy="1299.99" r="5.4" fill="#999999"/>
<text x="1699.65" y="1550.67" text-anchor="middle">Days</text>
<text text-anchor="middle" transform="translate(1500.34 1376.18) rotate(-90)">Cell number (x10<tspan font-size="13" dy="-8">5</tspan><tspan dy="8">)</tspan></text>
<line x1="1557.14" y1="1251.36" x2="1586.05" y2="1251.36" stroke="#999999" stroke-width="2.6"/>
<circle cx="1571.595" cy="1251.36" r="5.4" fill="#999999"/>
<text x="1600.67" y="1258.125">Vehicle</text>
<line x1="1557.14" y1="1274.15" x2="1586.05" y2="1274.15" stroke="#ffa6c9" stroke-width="2.6"/>
<circle cx="1571.595" cy="1274.15" r="5.4" fill="#ffa6c9"/>
<text x="1600.67" y="1280.9150000000002">GT-02897</text>
<line x1="1557.14" y1="1296.93" x2="1586.05" y2="1296.93" stroke="#0433ff" stroke-width="2.6"/>
<circle cx="1571.595" cy="1296.93" r="5.4" fill="#0433ff"/>
<text x="1600.67" y="1303.6950000000002">ATRA</text>
<line x1="1557.14" y1="1318.02" x2="1586.05" y2="1318.02" stroke="#ff2f92" stroke-width="2.6"/>
<circle cx="1571.595" cy="1318.02" r="5.4" fill="#ff2f92"/>
<text x="1600.67" y="1324.785">ATRA+GT-02897</text>
<polyline points="1812.23,1299.99 1819.03,1299.99 1819.03,1449.99 1812.23,1449.99" fill="none" stroke="#000" stroke-width="1.5"/>
<line x1="1812.23" y1="1365.98" x2="1819.03" y2="1365.98" stroke="#000" stroke-width="1.5"/>
<line x1="1812.57" y1="1356.46" x2="1812.57" y2="1375.16" stroke="#000" stroke-width="1.5"/>
<polyline points="1851.01,1299.99 1856.79,1299.99 1856.79,1447.95 1851.01,1447.95" fill="none" stroke="#000" stroke-width="1.5"/>
<text text-anchor="middle" font-size="20.3" transform="translate(1829.24 1320.06) rotate(90)"><tspan style="word-spacing:-0.9px"><tspan font-style="italic">P</tspan> = 0.0039</tspan></text>
<text text-anchor="middle" font-size="20.3" transform="translate(1829.24 1420.4) rotate(90)"><tspan style="word-spacing:-0.9px"><tspan font-style="italic">P</tspan> = 0.0002</tspan></text>
<text text-anchor="middle" font-size="20.3" transform="translate(1871.07 1365.3) rotate(90)"><tspan style="word-spacing:-0.9px"><tspan font-style="italic">P</tspan> = 0.0002</tspan></text>
<text x="1438.43" y="1618.71" font-weight="bold" font-size="46.5">o</text>
<line x1="1547.27" y1="1626.3" x2="1547.27" y2="1880.49" stroke="#000" stroke-width="2.5"/>
<line x1="1536.27" y1="1879.24" x2="1851.23" y2="1879.24" stroke="#000" stroke-width="2.5"/>
<line x1="1547.27" y1="1879.24" x2="1547.27" y2="1890.24" stroke="#000" stroke-width="2.5"/>
<text x="1547.27" y="1913.25" text-anchor="middle">0</text>
<line x1="1597.61" y1="1879.24" x2="1597.61" y2="1890.24" stroke="#000" stroke-width="2.5"/>
<text x="1597.61" y="1913.25" text-anchor="middle">4</text>
<line x1="1648.29" y1="1879.24" x2="1648.29" y2="1890.24" stroke="#000" stroke-width="2.5"/>
<text x="1648.29" y="1913.25" text-anchor="middle">8</text>
<line x1="1698.63" y1="1879.24" x2="1698.63" y2="1890.24" stroke="#000" stroke-width="2.5"/>
<text x="1698.63" y="1913.25" text-anchor="middle">12</text>
<line x1="1748.97" y1="1879.24" x2="1748.97" y2="1890.24" stroke="#000" stroke-width="2.5"/>
<text x="1748.97" y="1913.25" text-anchor="middle">16</text>
<line x1="1799.31" y1="1879.24" x2="1799.31" y2="1890.24" stroke="#000" stroke-width="2.5"/>
<text x="1799.31" y="1913.25" text-anchor="middle">20</text>
<line x1="1849.98" y1="1879.24" x2="1849.98" y2="1890.24" stroke="#000" stroke-width="2.5"/>
<text x="1849.98" y="1913.25" text-anchor="middle">24</text>
<line x1="1536.27" y1="1879.24" x2="1547.27" y2="1879.24" stroke="#000" stroke-width="2.5"/>
<text x="1532.27" y="1886.1075" text-anchor="end">0</text>
<line x1="1536.27" y1="1816.32" x2="1547.27" y2="1816.32" stroke="#000" stroke-width="2.5"/>
<text x="1532.27" y="1823.1875" text-anchor="end">400</text>
<line x1="1536.27" y1="1753.39" x2="1547.27" y2="1753.39" stroke="#000" stroke-width="2.5"/>
<text x="1532.27" y="1760.2575000000002" text-anchor="end">800</text>
<line x1="1536.27" y1="1690.47" x2="1547.27" y2="1690.47" stroke="#000" stroke-width="2.5"/>
<text x="1532.27" y="1697.3375" text-anchor="end">1200</text>
<line x1="1536.27" y1="1627.55" x2="1547.27" y2="1627.55" stroke="#000" stroke-width="2.5"/>
<text x="1532.27" y="1634.4175" text-anchor="end">1600</text>
<line x1="1811.89" y1="1823.8" x2="1811.89" y2="1841.83" stroke="#ff2f92" stroke-width="1.5"/>
<line x1="1806.89" y1="1823.8" x2="1816.89" y2="1823.8" stroke="#ff2f92" stroke-width="1.5"/>
<line x1="1806.89" y1="1841.83" x2="1816.89" y2="1841.83" stroke="#ff2f92" stroke-width="1.5"/>
<line x1="1761.55" y1="1840.81" x2="1761.55" y2="1852.71" stroke="#ff2f92" stroke-width="1.5"/>
<line x1="1756.55" y1="1840.81" x2="1766.55" y2="1840.81" stroke="#ff2f92" stroke-width="1.5"/>
<line x1="1756.55" y1="1852.71" x2="1766.55" y2="1852.71" stroke="#ff2f92" stroke-width="1.5"/>
<polyline points="1547.27,1879.24 1610.2,1862.23 1648.29,1861.89 1686.04,1861.89 1723.8,1857.81 1761.55,1846.93 1811.89,1832.98" fill="none" stroke="#ff2f92" stroke-width="2.6" stroke-linejoin="round"/>
<circle cx="1547.27" cy="1879.24" r="5.4" fill="#ff2f92"/>
<circle cx="1610.2" cy="1862.23" r="5.4" fill="#ff2f92"/>
<circle cx="1648.29" cy="1861.89" r="5.4" fill="#ff2f92"/>
<circle cx="1686.04" cy="1861.89" r="5.4" fill="#ff2f92"/>
<circle cx="1723.8" cy="1857.81" r="5.4" fill="#ff2f92"/>
<circle cx="1761.55" cy="1846.93" r="5.4" fill="#ff2f92"/>
<circle cx="1811.89" cy="1832.98" r="5.4" fill="#ff2f92"/>
<line x1="1811.89" y1="1787.41" x2="1811.89" y2="1810.2" stroke="#ffa6c9" stroke-width="1.5"/>
<line x1="1806.89" y1="1787.41" x2="1816.89" y2="1787.41" stroke="#ffa6c9" stroke-width="1.5"/>
<line x1="1806.89" y1="1810.2" x2="1816.89" y2="1810.2" stroke="#ffa6c9" stroke-width="1.5"/>
<line x1="1761.55" y1="1824.82" x2="1761.55" y2="1851.01" stroke="#ffa6c9" stroke-width="1.5"/>
<line x1="1756.55" y1="1824.82" x2="1766.55" y2="1824.82" stroke="#ffa6c9" stroke-width="1.5"/>
<line x1="1756.55" y1="1851.01" x2="1766.55" y2="1851.01" stroke="#ffa6c9" stroke-width="1.5"/>
<line x1="1723.8" y1="1849.31" x2="1723.8" y2="1864.62" stroke="#ffa6c9" stroke-width="1.5"/>
<line x1="1718.8" y1="1849.31" x2="1728.8" y2="1849.31" stroke="#ffa6c9" stroke-width="1.5"/>
<line x1="1718.8" y1="1864.62" x2="1728.8" y2="1864.62" stroke="#ffa6c9" stroke-width="1.5"/>
<line x1="1686.04" y1="1857.81" x2="1686.04" y2="1869.72" stroke="#ffa6c9" stroke-width="1.5"/>
<line x1="1681.04" y1="1857.81" x2="1691.04" y2="1857.81" stroke="#ffa6c9" stroke-width="1.5"/>
<line x1="1681.04" y1="1869.72" x2="1691.04" y2="1869.72" stroke="#ffa6c9" stroke-width="1.5"/>
<polyline points="1547.27,1879.24 1610.2,1862.91 1648.29,1862.91 1686.04,1864.62 1723.8,1856.79 1761.55,1838.09 1811.89,1798.97" fill="none" stroke="#ffa6c9" stroke-width="2.6" stroke-linejoin="round"/>
<circle cx="1547.27" cy="1879.24" r="5.4" fill="#ffa6c9"/>
<circle cx="1610.2" cy="1862.91" r="5.4" fill="#ffa6c9"/>
<circle cx="1648.29" cy="1862.91" r="5.4" fill="#ffa6c9"/>
<circle cx="1686.04" cy="1864.62" r="5.4" fill="#ffa6c9"/>
<circle cx="1723.8" cy="1856.79" r="5.4" fill="#ffa6c9"/>
<circle cx="1761.55" cy="1838.09" r="5.4" fill="#ffa6c9"/>
<circle cx="1811.89" cy="1798.97" r="5.4" fill="#ffa6c9"/>
<line x1="1811.89" y1="1717.68" x2="1811.89" y2="1773.46" stroke="#0433ff" stroke-width="1.5"/>
<line x1="1806.89" y1="1717.68" x2="1816.89" y2="1717.68" stroke="#0433ff" stroke-width="1.5"/>
<line x1="1806.89" y1="1773.46" x2="1816.89" y2="1773.46" stroke="#0433ff" stroke-width="1.5"/>
<line x1="1761.55" y1="1801.69" x2="1761.55" y2="1829.58" stroke="#0433ff" stroke-width="1.5"/>
<line x1="1756.55" y1="1801.69" x2="1766.55" y2="1801.69" stroke="#0433ff" stroke-width="1.5"/>
<line x1="1756.55" y1="1829.58" x2="1766.55" y2="1829.58" stroke="#0433ff" stroke-width="1.5"/>
<line x1="1610.2" y1="1857.13" x2="1610.2" y2="1869.04" stroke="#0433ff" stroke-width="1.5"/>
<line x1="1605.2" y1="1857.13" x2="1615.2" y2="1857.13" stroke="#0433ff" stroke-width="1.5"/>
<line x1="1605.2" y1="1869.04" x2="1615.2" y2="1869.04" stroke="#0433ff" stroke-width="1.5"/>
<line x1="1686.04" y1="1852.03" x2="1686.04" y2="1864.62" stroke="#0433ff" stroke-width="1.5"/>
<line x1="1681.04" y1="1852.03" x2="1691.04" y2="1852.03" stroke="#0433ff" stroke-width="1.5"/>
<line x1="1681.04" y1="1864.62" x2="1691.04" y2="1864.62" stroke="#0433ff" stroke-width="1.5"/>
<polyline points="1547.27,1879.24 1610.2,1862.23 1648.29,1860.19 1686.04,1858.49 1723.8,1843.19 1761.55,1815.3 1811.89,1745.57" fill="none" stroke="#0433ff" stroke-width="2.6" stroke-linejoin="round"/>
<circle cx="1547.27" cy="1879.24" r="5.4" fill="#0433ff"/>
<circle cx="1610.2" cy="1862.23" r="5.4" fill="#0433ff"/>
<circle cx="1648.29" cy="1860.19" r="5.4" fill="#0433ff"/>
<circle cx="1686.04" cy="1858.49" r="5.4" fill="#0433ff"/>
<circle cx="1723.8" cy="1843.19" r="5.4" fill="#0433ff"/>
<circle cx="1761.55" cy="1815.3" r="5.4" fill="#0433ff"/>
<circle cx="1811.89" cy="1745.57" r="5.4" fill="#0433ff"/>
<line x1="1811.89" y1="1661.22" x2="1811.89" y2="1723.46" stroke="#999999" stroke-width="1.5"/>
<line x1="1806.89" y1="1661.22" x2="1816.89" y2="1661.22" stroke="#999999" stroke-width="1.5"/>
<line x1="1806.89" y1="1723.46" x2="1816.89" y2="1723.46" stroke="#999999" stroke-width="1.5"/>
<line x1="1761.55" y1="1774.48" x2="1761.55" y2="1803.39" stroke="#999999" stroke-width="1.5"/>
<line x1="1756.55" y1="1774.48" x2="1766.55" y2="1774.48" stroke="#999999" stroke-width="1.5"/>
<line x1="1756.55" y1="1803.39" x2="1766.55" y2="1803.39" stroke="#999999" stroke-width="1.5"/>
<line x1="1723.8" y1="1821.42" x2="1723.8" y2="1838.43" stroke="#999999" stroke-width="1.5"/>
<line x1="1718.8" y1="1821.42" x2="1728.8" y2="1821.42" stroke="#999999" stroke-width="1.5"/>
<line x1="1718.8" y1="1838.43" x2="1728.8" y2="1838.43" stroke="#999999" stroke-width="1.5"/>
<line x1="1686.04" y1="1836.38" x2="1686.04" y2="1853.73" stroke="#999999" stroke-width="1.5"/>
<line x1="1681.04" y1="1836.38" x2="1691.04" y2="1836.38" stroke="#999999" stroke-width="1.5"/>
<line x1="1681.04" y1="1853.73" x2="1691.04" y2="1853.73" stroke="#999999" stroke-width="1.5"/>
<polyline points="1547.27,1879.24 1610.2,1861.21 1648.29,1855.43 1686.04,1845.23 1723.8,1829.92 1761.55,1789.11 1811.89,1692.17" fill="none" stroke="#999999" stroke-width="2.6" stroke-linejoin="round"/>
<circle cx="1547.27" cy="1879.24" r="5.4" fill="#999999"/>
<circle cx="1610.2" cy="1861.21" r="5.4" fill="#999999"/>
<circle cx="1648.29" cy="1855.43" r="5.4" fill="#999999"/>
<circle cx="1686.04" cy="1845.23" r="5.4" fill="#999999"/>
<circle cx="1723.8" cy="1829.92" r="5.4" fill="#999999"/>
<circle cx="1761.55" cy="1789.11" r="5.4" fill="#999999"/>
<circle cx="1811.89" cy="1692.17" r="5.4" fill="#999999"/>
<text x="1698.63" y="1944.54" text-anchor="middle">Days</text>
<text text-anchor="middle" transform="translate(1470.75 1748.97) rotate(-90)">Tumor volume, mm<tspan font-size="13" dy="-8">3</tspan></text>
<line x1="1561.56" y1="1633.33" x2="1590.47" y2="1633.33" stroke="#999999" stroke-width="2.6"/>
<circle cx="1576.0149999999999" cy="1633.33" r="5.4" fill="#999999"/>
<text x="1604.07" y="1640.095">Vehicle</text>
<line x1="1561.56" y1="1655.44" x2="1590.47" y2="1655.44" stroke="#ffa6c9" stroke-width="2.6"/>
<circle cx="1576.0149999999999" cy="1655.44" r="5.4" fill="#ffa6c9"/>
<text x="1604.07" y="1662.2050000000002">GT-02897</text>
<line x1="1561.56" y1="1677.55" x2="1590.47" y2="1677.55" stroke="#0433ff" stroke-width="2.6"/>
<circle cx="1576.0149999999999" cy="1677.55" r="5.4" fill="#0433ff"/>
<text x="1604.07" y="1684.315">ATRA</text>
<line x1="1561.56" y1="1698.63" x2="1590.47" y2="1698.63" stroke="#ff2f92" stroke-width="2.6"/>
<circle cx="1576.0149999999999" cy="1698.63" r="5.4" fill="#ff2f92"/>
<text x="1604.07" y="1705.3950000000002">ATRA+GT-02897</text>
<polyline points="1827.54,1690.47 1833.66,1690.47 1833.66,1743.19 1827.54,1743.19" fill="none" stroke="#000" stroke-width="1.5"/>
<polyline points="1827.54,1746.59 1833.66,1746.59 1833.66,1835.02 1827.54,1835.02" fill="none" stroke="#000" stroke-width="1.5"/>
<polyline points="1866.65,1690.47 1872.77,1690.47 1872.77,1799.31 1866.65,1799.31" fill="none" stroke="#000" stroke-width="1.5"/>
<polyline points="1866.65,1802.71 1872.77,1802.71 1872.77,1835.02 1866.65,1835.02" fill="none" stroke="#000" stroke-width="1.5"/>
<polyline points="1908.49,1690.47 1913.59,1690.47 1913.59,1835.02 1908.49,1835.02" fill="none" stroke="#000" stroke-width="1.5"/>
<text text-anchor="middle" font-size="20.3" transform="translate(1845.56 1705.44) rotate(90)"><tspan style="word-spacing:-0.9px"><tspan font-style="italic">P</tspan> = 0.0007</tspan></text>
<text text-anchor="middle" font-size="20.3" transform="translate(1845.56 1806.79) rotate(90)"><tspan style="word-spacing:-0.9px"><tspan font-style="italic">P</tspan> &lt; 0.0001</tspan></text>
<text text-anchor="middle" font-size="20.3" transform="translate(1884.68 1729.59) rotate(90)"><tspan style="word-spacing:-0.9px"><tspan font-style="italic">P</tspan> &lt; 0.0001</tspan></text>
<text text-anchor="middle" font-size="20.3" transform="translate(1884.68 1834.0) rotate(90)"><tspan style="word-spacing:-0.9px"><tspan font-style="italic">P</tspan> &lt; 0.0001</tspan></text>
<text text-anchor="middle" font-size="20.3" transform="translate(1925.49 1760.88) rotate(90)"><tspan style="word-spacing:-0.9px"><tspan font-style="italic">P</tspan> &lt; 0.0001</tspan></text>
<text x="15.28" y="2035.26" font-weight="bold" font-size="46.5">p</text>
<text x="168.93" y="2087.05" text-anchor="end" font-size="21">Vehicle</text>
<text x="165.53" y="2132.89" text-anchor="end" font-size="21">GT-02897</text>
<text x="165.53" y="2178.3" text-anchor="end" font-size="21">ATRA</text>
<text x="166.38" y="2217.35" text-anchor="end" font-size="21">ATRA+GT-02897</text>
<rect x="175.8" y="2037.8" width="545.1" height="247.1" fill="url(#phbg)"/>
<g clip-path="url(#photo)">
<ellipse cx="215.0" cy="2080.7" rx="26.1" ry="19.7" fill="#bcbcc8" opacity="0.5" filter="url(#tsh)"/>
<ellipse cx="270.2" cy="2079.9" rx="23.6" ry="19.7" fill="#bcbcc8" opacity="0.5" filter="url(#tsh)"/>
<ellipse cx="323.6" cy="2079.9" rx="24.0" ry="18.0" fill="#bcbcc8" opacity="0.5" filter="url(#tsh)"/>
<ellipse cx="376.3" cy="2083.3" rx="25.3" ry="21.4" fill="#bcbcc8" opacity="0.5" filter="url(#tsh)"/>
<ellipse cx="431.4" cy="2080.7" rx="25.7" ry="19.2" fill="#bcbcc8" opacity="0.5" filter="url(#tsh)"/>
<ellipse cx="485.6" cy="2079.5" rx="23.6" ry="18.8" fill="#bcbcc8" opacity="0.5" filter="url(#tsh)"/>
<ellipse cx="536.1" cy="2079.0" rx="24.0" ry="17.6" fill="#bcbcc8" opacity="0.5" filter="url(#tsh)"/>
<ellipse cx="585.8" cy="2078.2" rx="25.3" ry="19.2" fill="#bcbcc8" opacity="0.5" filter="url(#tsh)"/>
<ellipse cx="638.4" cy="2077.3" rx="23.6" ry="17.1" fill="#bcbcc8" opacity="0.5" filter="url(#tsh)"/>
<ellipse cx="690.2" cy="2075.3" rx="24.0" ry="18.0" fill="#bcbcc8" opacity="0.5" filter="url(#tsh)"/>
<ellipse cx="218.4" cy="2126.9" rx="21.0" ry="14.2" fill="#bcbcc8" opacity="0.5" filter="url(#tsh)"/>
<ellipse cx="271.9" cy="2126.9" rx="18.9" ry="14.6" fill="#bcbcc8" opacity="0.5" filter="url(#tsh)"/>
<ellipse cx="324.5" cy="2125.7" rx="19.8" ry="13.7" fill="#bcbcc8" opacity="0.5" filter="url(#tsh)"/>
<ellipse cx="379.3" cy="2126.2" rx="19.3" ry="13.3" fill="#bcbcc8" opacity="0.5" filter="url(#tsh)"/>
<ellipse cx="433.1" cy="2124.5" rx="18.9" ry="13.3" fill="#bcbcc8" opacity="0.5" filter="url(#tsh)"/>
<ellipse cx="487.9" cy="2123.5" rx="18.5" ry="12.9" fill="#bcbcc8" opacity="0.5" filter="url(#tsh)"/>
<ellipse cx="537.4" cy="2124.0" rx="17.6" ry="13.3" fill="#bcbcc8" opacity="0.5" filter="url(#tsh)"/>
<ellipse cx="588.0" cy="2123.2" rx="16.4" ry="13.7" fill="#bcbcc8" opacity="0.5" filter="url(#tsh)"/>
<ellipse cx="640.1" cy="2123.2" rx="17.2" ry="13.7" fill="#bcbcc8" opacity="0.5" filter="url(#tsh)"/>
<ellipse cx="691.1" cy="2126.6" rx="16.8" ry="12.5" fill="#bcbcc8" opacity="0.5" filter="url(#tsh)"/>
<ellipse cx="218.9" cy="2168.5" rx="23.6" ry="17.1" fill="#bcbcc8" opacity="0.5" filter="url(#tsh)"/>
<ellipse cx="273.6" cy="2168.5" rx="20.6" ry="19.7" fill="#bcbcc8" opacity="0.5" filter="url(#tsh)"/>
<ellipse cx="327.5" cy="2168.7" rx="21.0" ry="17.1" fill="#bcbcc8" opacity="0.5" filter="url(#tsh)"/>
<ellipse cx="382.2" cy="2169.5" rx="22.7" ry="17.1" fill="#bcbcc8" opacity="0.5" filter="url(#tsh)"/>
<ellipse cx="430.3" cy="2168.7" rx="22.7" ry="17.1" fill="#bcbcc8" opacity="0.5" filter="url(#tsh)"/>
<ellipse cx="486.0" cy="2167.7" rx="23.1" ry="16.7" fill="#bcbcc8" opacity="0.5" filter="url(#tsh)"/>
<ellipse cx="538.3" cy="2169.0" rx="21.4" ry="15.0" fill="#bcbcc8" opacity="0.5" filter="url(#tsh)"/>
<ellipse cx="587.5" cy="2168.2" rx="18.9" ry="16.3" fill="#bcbcc8" opacity="0.5" filter="url(#tsh)"/>
<ellipse cx="637.6" cy="2166.5" rx="21.9" ry="16.3" fill="#bcbcc8" opacity="0.5" filter="url(#tsh)"/>
<ellipse cx="689.4" cy="2167.3" rx="21.0" ry="15.4" fill="#bcbcc8" opacity="0.5" filter="url(#tsh)"/>
<ellipse cx="220.1" cy="2207.6" rx="17.2" ry="11.2" fill="#bcbcc8" opacity="0.5" filter="url(#tsh)"/>
<ellipse cx="273.6" cy="2208.4" rx="17.2" ry="11.2" fill="#bcbcc8" opacity="0.5" filter="url(#tsh)"/>
<ellipse cx="326.7" cy="2208.9" rx="15.9" ry="10.8" fill="#bcbcc8" opacity="0.5" filter="url(#tsh)"/>
<ellipse cx="379.3" cy="2209.4" rx="14.7" ry="11.2" fill="#bcbcc8" opacity="0.5" filter="url(#tsh)"/>
<ellipse cx="433.1" cy="2208.6" rx="13.4" ry="10.3" fill="#bcbcc8" opacity="0.5" filter="url(#tsh)"/>
<ellipse cx="485.3" cy="2208.4" rx="15.5" ry="13.7" fill="#bcbcc8" opacity="0.5" filter="url(#tsh)"/>
<ellipse cx="536.2" cy="2206.4" rx="14.7" ry="13.7" fill="#bcbcc8" opacity="0.5" filter="url(#tsh)"/>
<ellipse cx="588.0" cy="2208.1" rx="17.2" ry="10.3" fill="#bcbcc8" opacity="0.5" filter="url(#tsh)"/>
<ellipse cx="641.0" cy="2208.4" rx="15.9" ry="11.6" fill="#bcbcc8" opacity="0.5" filter="url(#tsh)"/>
<ellipse cx="690.6" cy="2208.9" rx="14.2" ry="9.1" fill="#bcbcc8" opacity="0.5" filter="url(#tsh)"/>
<g filter="url(#tumA)">
<ellipse cx="213.5" cy="2077.7" rx="25.4" ry="19.2" fill="url(#tgr)" transform="rotate(-9 213.5 2077.7)"/>
<ellipse cx="322.1" cy="2076.9" rx="23.2" ry="17.5" fill="url(#tgR)" transform="rotate(8 322.1 2076.9)"/>
<ellipse cx="688.7" cy="2072.3" rx="23.2" ry="17.5" fill="url(#tgr)" transform="rotate(-3 688.7 2072.3)"/>
<ellipse cx="380.7" cy="2166.5" rx="21.9" ry="16.6" fill="url(#tgr)" transform="rotate(-11 380.7 2166.5)"/>
<ellipse cx="428.8" cy="2165.7" rx="21.9" ry="16.6" fill="url(#tgr)" transform="rotate(-18 428.8 2165.7)"/>
</g>
<g filter="url(#tumB)">
<ellipse cx="268.7" cy="2076.9" rx="22.7" ry="19.2" fill="url(#tgm)" transform="rotate(-10 268.7 2076.9)"/>
<ellipse cx="484.1" cy="2076.5" rx="22.7" ry="18.4" fill="url(#tgm)" transform="rotate(4 484.1 2076.5)"/>
<ellipse cx="534.6" cy="2076.0" rx="23.2" ry="17.1" fill="url(#tgm)" transform="rotate(1 534.6 2076.0)"/>
<ellipse cx="584.3" cy="2075.2" rx="24.5" ry="18.8" fill="url(#tgm)" transform="rotate(19 584.3 2075.2)"/>
<ellipse cx="323.0" cy="2122.7" rx="18.8" ry="13.1" fill="url(#tgm)" transform="rotate(-4 323.0 2122.7)"/>
<ellipse cx="431.6" cy="2121.5" rx="17.9" ry="12.7" fill="url(#tgm)" transform="rotate(-17 431.6 2121.5)"/>
<ellipse cx="535.9" cy="2121.0" rx="16.6" ry="12.7" fill="url(#tgm)" transform="rotate(-23 535.9 2121.0)"/>
<ellipse cx="586.5" cy="2120.2" rx="15.3" ry="13.1" fill="url(#tgm)" transform="rotate(8 586.5 2120.2)"/>
<ellipse cx="689.6" cy="2123.6" rx="15.7" ry="11.8" fill="url(#tgm)" transform="rotate(4 689.6 2123.6)"/>
<ellipse cx="217.4" cy="2165.5" rx="22.7" ry="16.6" fill="url(#tgm)" transform="rotate(19 217.4 2165.5)"/>
<ellipse cx="326.0" cy="2165.7" rx="20.1" ry="16.6" fill="url(#tgm)" transform="rotate(10 326.0 2165.7)"/>
<ellipse cx="536.8" cy="2166.0" rx="20.5" ry="14.4" fill="url(#tgm)" transform="rotate(17 536.8 2166.0)"/>
<ellipse cx="586.0" cy="2165.2" rx="17.9" ry="15.7" fill="url(#tgm)" transform="rotate(22 586.0 2165.2)"/>
<ellipse cx="687.9" cy="2164.3" rx="20.1" ry="14.9" fill="url(#tgm)" transform="rotate(8 687.9 2164.3)"/>
<ellipse cx="377.8" cy="2206.4" rx="13.6" ry="10.5" fill="url(#tgm)" transform="rotate(25 377.8 2206.4)"/>
<ellipse cx="483.8" cy="2205.4" rx="14.4" ry="13.1" fill="url(#tgm)" transform="rotate(-11 483.8 2205.4)"/>
<ellipse cx="534.7" cy="2203.4" rx="13.6" ry="13.1" fill="url(#tgm)" transform="rotate(-6 534.7 2203.4)"/>
<ellipse cx="639.5" cy="2205.4" rx="14.9" ry="10.9" fill="url(#tgm)" transform="rotate(-24 639.5 2205.4)"/>
</g>
<g filter="url(#tumC)">
<ellipse cx="374.8" cy="2080.3" rx="24.5" ry="21.0" fill="url(#tgp)" transform="rotate(13 374.8 2080.3)"/>
<ellipse cx="429.9" cy="2077.7" rx="24.9" ry="18.8" fill="url(#tgp)" transform="rotate(-19 429.9 2077.7)"/>
<ellipse cx="636.9" cy="2074.3" rx="22.7" ry="16.6" fill="url(#tgp)" transform="rotate(-21 636.9 2074.3)"/>
<ellipse cx="216.9" cy="2123.9" rx="20.1" ry="13.6" fill="url(#tgp)" transform="rotate(2 216.9 2123.9)"/>
<ellipse cx="270.4" cy="2123.9" rx="17.9" ry="14.0" fill="url(#tgl)" transform="rotate(19 270.4 2123.9)"/>
<ellipse cx="377.8" cy="2123.2" rx="18.4" ry="12.7" fill="url(#tgp)" transform="rotate(18 377.8 2123.2)"/>
<ellipse cx="486.4" cy="2120.5" rx="17.5" ry="12.2" fill="url(#tgp)" transform="rotate(-4 486.4 2120.5)"/>
<ellipse cx="638.6" cy="2120.2" rx="16.2" ry="13.1" fill="url(#tgp)" transform="rotate(23 638.6 2120.2)"/>
<ellipse cx="272.1" cy="2165.5" rx="19.7" ry="19.2" fill="url(#tgp)" transform="rotate(-13 272.1 2165.5)"/>
<ellipse cx="484.5" cy="2164.7" rx="22.3" ry="16.2" fill="url(#tgp)" transform="rotate(-12 484.5 2164.7)"/>
<ellipse cx="636.1" cy="2163.5" rx="21.0" ry="15.7" fill="url(#tgl)" transform="rotate(-7 636.1 2163.5)"/>
<ellipse cx="218.6" cy="2204.6" rx="16.2" ry="10.5" fill="url(#tgl)" transform="rotate(23 218.6 2204.6)"/>
<ellipse cx="272.1" cy="2205.4" rx="16.2" ry="10.5" fill="url(#tgl)" transform="rotate(10 272.1 2205.4)"/>
<ellipse cx="325.2" cy="2205.9" rx="14.9" ry="10.1" fill="url(#tgp)" transform="rotate(1 325.2 2205.9)"/>
<ellipse cx="431.6" cy="2205.6" rx="12.2" ry="9.6" fill="url(#tgl)" transform="rotate(9 431.6 2205.6)"/>
<ellipse cx="586.5" cy="2205.1" rx="16.2" ry="9.6" fill="url(#tgl)" transform="rotate(14 586.5 2205.1)"/>
<ellipse cx="689.1" cy="2205.9" rx="13.1" ry="8.3" fill="url(#tgl)" transform="rotate(15 689.1 2205.9)"/>
</g>
<rect x="175.8" y="2245.0" width="545.1" height="15.5" fill="#d9d9dd"/>
<rect x="175.8" y="2245.8" width="545.1" height="13.5" fill="url(#rul)" opacity="0.8"/>
<line x1="188.0" y1="2245.8" x2="188.0" y2="2264.3" stroke="#707076" stroke-width="1.1"/>
<line x1="174.6" y1="2245.8" x2="174.6" y2="2261.8" stroke="#7a7a80" stroke-width="1.0"/>
<text x="192.2" y="2274.6" font-family="Liberation Sans, sans-serif" font-size="8.2" font-weight="bold" fill="#3c3c44" text-anchor="middle">1cm</text>
<line x1="214.85" y1="2245.8" x2="214.85" y2="2264.3" stroke="#707076" stroke-width="1.1"/>
<line x1="201.45" y1="2245.8" x2="201.45" y2="2261.8" stroke="#7a7a80" stroke-width="1.0"/>
<text x="214.8" y="2274.6" font-family="Liberation Sans, sans-serif" font-size="8.2" font-weight="bold" fill="#3c3c44" text-anchor="middle">2</text>
<line x1="241.7" y1="2245.8" x2="241.7" y2="2264.3" stroke="#707076" stroke-width="1.1"/>
<line x1="228.29999999999998" y1="2245.8" x2="228.29999999999998" y2="2261.8" stroke="#7a7a80" stroke-width="1.0"/>
<text x="241.7" y="2274.6" font-family="Liberation Sans, sans-serif" font-size="8.2" font-weight="bold" fill="#3c3c44" text-anchor="middle">3</text>
<line x1="268.55" y1="2245.8" x2="268.55" y2="2264.3" stroke="#707076" stroke-width="1.1"/>
<line x1="255.15" y1="2245.8" x2="255.15" y2="2261.8" stroke="#7a7a80" stroke-width="1.0"/>
<text x="268.6" y="2274.6" font-family="Liberation Sans, sans-serif" font-size="8.2" font-weight="bold" fill="#3c3c44" text-anchor="middle">4</text>
<line x1="295.4" y1="2245.8" x2="295.4" y2="2264.3" stroke="#707076" stroke-width="1.1"/>
<line x1="282.0" y1="2245.8" x2="282.0" y2="2261.8" stroke="#7a7a80" stroke-width="1.0"/>
<text x="295.4" y="2274.6" font-family="Liberation Sans, sans-serif" font-size="8.2" font-weight="bold" fill="#3c3c44" text-anchor="middle">5</text>
<line x1="322.25" y1="2245.8" x2="322.25" y2="2264.3" stroke="#707076" stroke-width="1.1"/>
<line x1="308.85" y1="2245.8" x2="308.85" y2="2261.8" stroke="#7a7a80" stroke-width="1.0"/>
<text x="322.2" y="2274.6" font-family="Liberation Sans, sans-serif" font-size="8.2" font-weight="bold" fill="#3c3c44" text-anchor="middle">6</text>
<line x1="349.1" y1="2245.8" x2="349.1" y2="2264.3" stroke="#707076" stroke-width="1.1"/>
<line x1="335.70000000000005" y1="2245.8" x2="335.70000000000005" y2="2261.8" stroke="#7a7a80" stroke-width="1.0"/>
<text x="349.1" y="2274.6" font-family="Liberation Sans, sans-serif" font-size="8.2" font-weight="bold" fill="#3c3c44" text-anchor="middle">7</text>
<line x1="375.95000000000005" y1="2245.8" x2="375.95000000000005" y2="2264.3" stroke="#707076" stroke-width="1.1"/>
<line x1="362.55000000000007" y1="2245.8" x2="362.55000000000007" y2="2261.8" stroke="#7a7a80" stroke-width="1.0"/>
<text x="376.0" y="2274.6" font-family="Liberation Sans, sans-serif" font-size="8.2" font-weight="bold" fill="#3c3c44" text-anchor="middle">8</text>
<line x1="402.8" y1="2245.8" x2="402.8" y2="2264.3" stroke="#707076" stroke-width="1.1"/>
<line x1="389.40000000000003" y1="2245.8" x2="389.40000000000003" y2="2261.8" stroke="#7a7a80" stroke-width="1.0"/>
<text x="402.8" y="2274.6" font-family="Liberation Sans, sans-serif" font-size="8.2" font-weight="bold" fill="#3c3c44" text-anchor="middle">9</text>
<line x1="429.65" y1="2245.8" x2="429.65" y2="2264.3" stroke="#707076" stroke-width="1.1"/>
<line x1="416.25" y1="2245.8" x2="416.25" y2="2261.8" stroke="#7a7a80" stroke-width="1.0"/>
<text x="429.6" y="2274.6" font-family="Liberation Sans, sans-serif" font-size="8.2" font-weight="bold" fill="#3c3c44" text-anchor="middle">10</text>
<line x1="456.5" y1="2245.8" x2="456.5" y2="2264.3" stroke="#707076" stroke-width="1.1"/>
<line x1="443.1" y1="2245.8" x2="443.1" y2="2261.8" stroke="#7a7a80" stroke-width="1.0"/>
<text x="456.5" y="2274.6" font-family="Liberation Sans, sans-serif" font-size="8.2" font-weight="bold" fill="#3c3c44" text-anchor="middle">11</text>
<line x1="483.35" y1="2245.8" x2="483.35" y2="2264.3" stroke="#707076" stroke-width="1.1"/>
<line x1="469.95000000000005" y1="2245.8" x2="469.95000000000005" y2="2261.8" stroke="#7a7a80" stroke-width="1.0"/>
<text x="483.4" y="2274.6" font-family="Liberation Sans, sans-serif" font-size="8.2" font-weight="bold" fill="#3c3c44" text-anchor="middle">12</text>
<line x1="510.20000000000005" y1="2245.8" x2="510.20000000000005" y2="2264.3" stroke="#707076" stroke-width="1.1"/>
<line x1="496.80000000000007" y1="2245.8" x2="496.80000000000007" y2="2261.8" stroke="#7a7a80" stroke-width="1.0"/>
<text x="510.2" y="2274.6" font-family="Liberation Sans, sans-serif" font-size="8.2" font-weight="bold" fill="#3c3c44" text-anchor="middle">13</text>
<line x1="537.05" y1="2245.8" x2="537.05" y2="2264.3" stroke="#707076" stroke-width="1.1"/>
<line x1="523.65" y1="2245.8" x2="523.65" y2="2261.8" stroke="#7a7a80" stroke-width="1.0"/>
<text x="537.0" y="2274.6" font-family="Liberation Sans, sans-serif" font-size="8.2" font-weight="bold" fill="#3c3c44" text-anchor="middle">14</text>
<line x1="563.9000000000001" y1="2245.8" x2="563.9000000000001" y2="2264.3" stroke="#707076" stroke-width="1.1"/>
<line x1="550.5000000000001" y1="2245.8" x2="550.5000000000001" y2="2261.8" stroke="#7a7a80" stroke-width="1.0"/>
<text x="563.9" y="2274.6" font-family="Liberation Sans, sans-serif" font-size="8.2" font-weight="bold" fill="#3c3c44" text-anchor="middle">15</text>
<line x1="590.75" y1="2245.8" x2="590.75" y2="2264.3" stroke="#707076" stroke-width="1.1"/>
<line x1="577.35" y1="2245.8" x2="577.35" y2="2261.8" stroke="#7a7a80" stroke-width="1.0"/>
<text x="590.8" y="2274.6" font-family="Liberation Sans, sans-serif" font-size="8.2" font-weight="bold" fill="#3c3c44" text-anchor="middle">16</text>
<line x1="617.6" y1="2245.8" x2="617.6" y2="2264.3" stroke="#707076" stroke-width="1.1"/>
<line x1="604.2" y1="2245.8" x2="604.2" y2="2261.8" stroke="#7a7a80" stroke-width="1.0"/>
<text x="617.6" y="2274.6" font-family="Liberation Sans, sans-serif" font-size="8.2" font-weight="bold" fill="#3c3c44" text-anchor="middle">17</text>
<line x1="644.45" y1="2245.8" x2="644.45" y2="2264.3" stroke="#707076" stroke-width="1.1"/>
<line x1="631.0500000000001" y1="2245.8" x2="631.0500000000001" y2="2261.8" stroke="#7a7a80" stroke-width="1.0"/>
<text x="644.5" y="2274.6" font-family="Liberation Sans, sans-serif" font-size="8.2" font-weight="bold" fill="#3c3c44" text-anchor="middle">18</text>
<line x1="671.3" y1="2245.8" x2="671.3" y2="2264.3" stroke="#707076" stroke-width="1.1"/>
<line x1="657.9" y1="2245.8" x2="657.9" y2="2261.8" stroke="#7a7a80" stroke-width="1.0"/>
<text x="671.3" y="2274.6" font-family="Liberation Sans, sans-serif" font-size="8.2" font-weight="bold" fill="#3c3c44" text-anchor="middle">19</text>
<line x1="698.1500000000001" y1="2245.8" x2="698.1500000000001" y2="2264.3" stroke="#707076" stroke-width="1.1"/>
<line x1="684.7500000000001" y1="2245.8" x2="684.7500000000001" y2="2261.8" stroke="#7a7a80" stroke-width="1.0"/>
<text x="698.2" y="2274.6" font-family="Liberation Sans, sans-serif" font-size="8.2" font-weight="bold" fill="#3c3c44" text-anchor="middle">20</text>
<line x1="725.0" y1="2245.8" x2="725.0" y2="2264.3" stroke="#707076" stroke-width="1.1"/>
<line x1="711.6" y1="2245.8" x2="711.6" y2="2261.8" stroke="#7a7a80" stroke-width="1.0"/>
</g>
<rect x="843.09" y="2103.97" width="23.98" height="150.21" fill="#999999"/>
<rect x="878.43" y="2192.96" width="24.19" height="61.22" fill="#ffa6c9"/>
<rect x="913.77" y="2145.62" width="24.19" height="108.56" fill="#0433ff"/>
<rect x="949.12" y="2220.94" width="24.19" height="33.24" fill="#ff2f92"/>
<line x1="854.87" y1="2083.77" x2="854.87" y2="2103.97" stroke="#111" stroke-width="1.8"/>
<line x1="848.56" y1="2083.77" x2="861.6" y2="2083.77" stroke="#111" stroke-width="1.8"/>
<line x1="890.42" y1="2178.23" x2="890.42" y2="2192.96" stroke="#ffa6c9" stroke-width="1.8"/>
<line x1="885.16" y1="2178.23" x2="896.1" y2="2178.23" stroke="#ffa6c9" stroke-width="1.8"/>
<line x1="925.76" y1="2135.11" x2="925.76" y2="2145.62" stroke="#0433ff" stroke-width="1.8"/>
<line x1="920.5" y1="2135.11" x2="931.44" y2="2135.11" stroke="#0433ff" stroke-width="1.8"/>
<line x1="830.88" y1="2000.9" x2="830.88" y2="2255.43" stroke="#000" stroke-width="2.5"/>
<line x1="821.0" y1="2254.18" x2="986.34" y2="2254.18" stroke="#000" stroke-width="2.5"/>
<line x1="854.24" y1="2254.18" x2="854.24" y2="2265.18" stroke="#000" stroke-width="2.5"/>
<line x1="889.58" y1="2254.18" x2="889.58" y2="2265.18" stroke="#000" stroke-width="2.5"/>
<line x1="924.92" y1="2254.18" x2="924.92" y2="2265.18" stroke="#000" stroke-width="2.5"/>
<line x1="960.48" y1="2254.18" x2="960.48" y2="2265.18" stroke="#000" stroke-width="2.5"/>
<line x1="819.88" y1="2254.18" x2="830.88" y2="2254.18" stroke="#000" stroke-width="2.5"/>
<text x="815.88" y="2261.0474999999997" text-anchor="end">0.0</text>
<line x1="819.88" y1="2170.24" x2="830.88" y2="2170.24" stroke="#000" stroke-width="2.5"/>
<text x="815.88" y="2177.1074999999996" text-anchor="end">0.5</text>
<line x1="819.88" y1="2086.3" x2="830.88" y2="2086.3" stroke="#000" stroke-width="2.5"/>
<text x="815.88" y="2093.1675" text-anchor="end">1.0</text>
<line x1="819.88" y1="2002.15" x2="830.88" y2="2002.15" stroke="#000" stroke-width="2.5"/>
<text x="815.88" y="2009.0175000000002" text-anchor="end">1.5</text>
<circle cx="847.08" cy="2076.2" r="3.5" fill="#fff" fill-opacity="0.8" stroke="#000" stroke-width="3.6"/>
<circle cx="847.08" cy="2093.45" r="3.5" fill="#fff" fill-opacity="0.8" stroke="#000" stroke-width="3.6"/>
<circle cx="847.08" cy="2106.7" r="3.5" fill="#fff" fill-opacity="0.8" stroke="#000" stroke-width="3.6"/>
<circle cx="847.08" cy="2118.27" r="3.5" fill="#fff" fill-opacity="0.8" stroke="#000" stroke-width="3.6"/>
<circle cx="847.08" cy="2130.9" r="3.5" fill="#fff" fill-opacity="0.8" stroke="#000" stroke-width="3.6"/>
<circle cx="863.07" cy="2078.3" r="3.5" fill="#fff" fill-opacity="0.8" stroke="#000" stroke-width="3.6"/>
<circle cx="863.07" cy="2088.82" r="3.5" fill="#fff" fill-opacity="0.8" stroke="#000" stroke-width="3.6"/>
<circle cx="863.07" cy="2101.44" r="3.5" fill="#fff" fill-opacity="0.8" stroke="#000" stroke-width="3.6"/>
<circle cx="863.07" cy="2114.49" r="3.5" fill="#fff" fill-opacity="0.8" stroke="#000" stroke-width="3.6"/>
<circle cx="863.07" cy="2126.27" r="3.5" fill="#fff" fill-opacity="0.8" stroke="#000" stroke-width="3.6"/>
<circle cx="892.52" cy="2169.82" r="3.5" fill="#fff" fill-opacity="0.8" stroke="#000" stroke-width="3.6"/>
<circle cx="886.84" cy="2175.08" r="3.5" fill="#fff" fill-opacity="0.8" stroke="#000" stroke-width="3.6"/>
<circle cx="898.84" cy="2184.54" r="3.5" fill="#fff" fill-opacity="0.8" stroke="#000" stroke-width="3.6"/>
<circle cx="881.37" cy="2194.01" r="3.5" fill="#fff" fill-opacity="0.8" stroke="#000" stroke-width="3.6"/>
<circle cx="889.79" cy="2191.91" r="3.5" fill="#fff" fill-opacity="0.8" stroke="#000" stroke-width="3.6"/>
<circle cx="887.27" cy="2200.32" r="3.5" fill="#fff" fill-opacity="0.8" stroke="#000" stroke-width="3.6"/>
<circle cx="898.84" cy="2200.95" r="3.5" fill="#fff" fill-opacity="0.8" stroke="#000" stroke-width="3.6"/>
<circle cx="889.79" cy="2218.2" r="3.5" fill="#fff" fill-opacity="0.8" stroke="#000" stroke-width="3.6"/>
<circle cx="927.24" cy="2128.79" r="3.5" fill="#fff" fill-opacity="0.8" stroke="#000" stroke-width="3.6"/>
<circle cx="923.03" cy="2131.95" r="3.5" fill="#fff" fill-opacity="0.8" stroke="#000" stroke-width="3.6"/>
<circle cx="917.77" cy="2138.26" r="3.5" fill="#fff" fill-opacity="0.8" stroke="#000" stroke-width="3.6"/>
<circle cx="916.3" cy="2146.68" r="3.5" fill="#fff" fill-opacity="0.8" stroke="#000" stroke-width="3.6"/>
<circle cx="925.13" cy="2147.73" r="3.5" fill="#fff" fill-opacity="0.8" stroke="#000" stroke-width="3.6"/>
<circle cx="933.55" cy="2147.31" r="3.5" fill="#fff" fill-opacity="0.8" stroke="#000" stroke-width="3.6"/>
<circle cx="929.34" cy="2151.94" r="3.5" fill="#fff" fill-opacity="0.8" stroke="#000" stroke-width="3.6"/>
<circle cx="924.08" cy="2160.35" r="3.5" fill="#fff" fill-opacity="0.8" stroke="#000" stroke-width="3.6"/>
<circle cx="960.9" cy="2210.84" r="3.5" fill="#fff" fill-opacity="0.8" stroke="#000" stroke-width="3.6"/>
<circle cx="955.64" cy="2214.0" r="3.5" fill="#fff" fill-opacity="0.8" stroke="#000" stroke-width="3.6"/>
<circle cx="951.43" cy="2217.57" r="3.5" fill="#fff" fill-opacity="0.8" stroke="#000" stroke-width="3.6"/>
<circle cx="959.85" cy="2218.2" r="3.5" fill="#fff" fill-opacity="0.8" stroke="#000" stroke-width="3.6"/>
<circle cx="969.31" cy="2219.26" r="3.5" fill="#fff" fill-opacity="0.8" stroke="#000" stroke-width="3.6"/>
<circle cx="964.05" cy="2221.36" r="3.5" fill="#fff" fill-opacity="0.8" stroke="#000" stroke-width="3.6"/>
<circle cx="959.42" cy="2228.72" r="3.5" fill="#fff" fill-opacity="0.8" stroke="#000" stroke-width="3.6"/>
<polyline points="854.24,1967.22 854.24,1953.13 960.9,1953.13 960.9,2008.88" fill="none" stroke="#000" stroke-width="1.5"/>
<text x="903.46" y="1942.61" text-anchor="middle" font-size="20.3"><tspan style="word-spacing:-0.9px"><tspan font-style="italic">P</tspan> &lt; 0.0001</tspan></text>
<polyline points="854.24,2011.4 854.24,2000.04 924.92,2000.04 924.92,2011.4" fill="none" stroke="#000" stroke-width="1.5"/>
<text x="887.27" y="1989.52" text-anchor="middle" font-size="20.3"><tspan style="word-spacing:-0.9px"><tspan font-style="italic">P</tspan> &lt; 0.0001</tspan></text>
<polyline points="854.24,2053.69 854.24,2041.91 889.79,2041.91 889.79,2155.51" fill="none" stroke="#000" stroke-width="1.5"/>
<text x="880.53" y="2032.44" text-anchor="middle" font-size="20.3"><tspan style="word-spacing:-0.9px"><tspan font-style="italic">P</tspan> &lt; 0.0001</tspan></text>
<polyline points="892.73,2155.51 892.73,2041.91 960.9,2041.91 960.9,2061.47" fill="none" stroke="#000" stroke-width="1.5"/>
<text x="982.99" y="2032.44" text-anchor="middle" font-size="20.3"><tspan style="word-spacing:-0.9px"><tspan font-style="italic">P</tspan> &lt; 0.0001</tspan></text>
<polyline points="924.71,2108.18 924.71,2094.71 960.9,2094.71 960.9,2189.8" fill="none" stroke="#000" stroke-width="1.5"/>
<text x="943.65" y="2084.61" text-anchor="middle" font-size="20.3"><tspan style="word-spacing:-0.9px"><tspan font-style="italic">P</tspan> &lt; 0.0001</tspan></text>
<text text-anchor="middle" transform="translate(771.56 2126.69) rotate(-90)">Tumor weight, g</text>
<rect x="830.88" y="2274.59" width="30.72" height="14.1" fill="#999999"/>
<text x="874.64" y="2288.05" font-size="18.5">Vehicle</text>
<rect x="830.88" y="2293.31" width="30.72" height="14.31" fill="#ffa6c9"/>
<text x="874.64" y="2306.98" font-size="18.5">GT-02897</text>
<rect x="830.88" y="2312.45" width="30.72" height="14.1" fill="#0433ff"/>
<text x="874.64" y="2325.92" font-size="18.5">ATRA</text>
<rect x="830.88" y="2331.18" width="30.72" height="14.73" fill="#ff2f92"/>
<text x="874.64" y="2344.85" font-size="18.5">ATRA+GT-02897</text>
<text x="1107.72" y="2034.21" font-weight="bold" font-size="46.5">q</text>
<text x="1264.6" y="2034.89" text-anchor="middle" font-size="27.6">Vehicle</text>
<text x="1468.68" y="2034.89" text-anchor="middle" font-size="27.6">ATRA</text>
<rect x="1149.1" y="2039.1" width="212.2" height="213.1" fill="#f6f2f2"/>
<g clip-path="url(#ihc1)">
<rect x="1149.1" y="2039.1" width="212.2" height="213.1" fill="#000" filter="url(#grain)"/>
<g filter="url(#nuc)">
<path d="M1299.4 2214.1A3.8 3.8 0 0 1 1301.4 2211.4M1254.7 2084.9A4.3 4.3 0 0 1 1255.1 2088.6M1217.3 2207.1A3.8 3.8 0 0 1 1217.4 2210.4M1228.6 2062.6A4.1 4.1 0 0 1 1225.3 2061.3M1292.5 2171.5A4.1 4.1 0 0 1 1290.4 2174.4M1255.0 2103.7A4.0 4.0 0 0 1 1253.9 2100.5M1149.3 2248.0A3.8 3.8 0 0 1 1151.4 2250.5M1313.7 2081.6A4.1 4.1 0 0 1 1317.0 2080.4M1261.1 2126.4A4.9 4.9 0 0 1 1263.4 2130.0M1169.0 2185.9A3.8 3.8 0 0 1 1166.2 2187.7M1321.1 2203.9A5.0 5.0 0 0 1 1322.9 2199.9M1290.5 2133.3A4.6 4.6 0 0 1 1294.6 2133.0M1303.5 2211.1A3.7 3.7 0 0 1 1306.3 2212.8M1213.9 2142.8A4.8 4.8 0 0 1 1216.8 2145.7M1163.3 2129.1A4.1 4.1 0 0 1 1160.0 2130.3M1361.9 2103.9A4.4 4.4 0 0 1 1358.8 2106.1M1262.9 2179.5A4.9 4.9 0 0 1 1258.9 2181.0M1341.0 2202.6A3.8 3.8 0 0 1 1341.3 2205.9M1352.7 2194.0A3.9 3.9 0 0 1 1351.1 2197.1M1269.1 2170.5A4.2 4.2 0 0 1 1269.6 2167.0M1214.5 2143.9A4.0 4.0 0 0 1 1216.3 2146.9M1197.3 2039.5A4.9 4.9 0 0 1 1197.1 2043.7M1338.2 2110.9A4.6 4.6 0 0 1 1341.3 2113.4M1292.3 2063.5A5.0 5.0 0 0 1 1296.1 2065.5M1203.7 2174.4A3.6 3.6 0 0 1 1206.2 2172.5M1275.9 2084.4A4.6 4.6 0 0 1 1279.8 2083.7M1223.4 2059.0A4.9 4.9 0 0 1 1224.9 2055.0M1329.9 2153.8A4.9 4.9 0 0 1 1333.6 2156.0M1183.6 2149.6A3.7 3.7 0 0 1 1183.8 2146.3M1203.1 2075.3A3.6 3.6 0 0 1 1204.7 2078.1M1169.2 2227.9A3.9 3.9 0 0 1 1172.5 2227.1M1299.2 2069.2A4.7 4.7 0 0 1 1303.3 2068.7M1333.3 2119.0A3.8 3.8 0 0 1 1333.7 2122.2M1152.2 2111.0A4.4 4.4 0 0 1 1153.8 2114.5M1274.7 2108.9A4.8 4.8 0 0 1 1273.1 2112.8M1281.5 2221.8A4.7 4.7 0 0 1 1282.7 2217.9M1211.2 2143.7A3.7 3.7 0 0 1 1214.4 2144.2M1195.2 2183.9A3.6 3.6 0 0 1 1192.1 2184.3M1190.3 2175.7A4.8 4.8 0 0 1 1186.1 2175.4M1180.2 2202.3A3.8 3.8 0 0 1 1176.9 2202.6M1224.7 2207.4A3.8 3.8 0 0 1 1227.8 2206.3M1317.5 2051.2A4.5 4.5 0 0 1 1319.1 2047.6M1184.5 2043.5A4.6 4.6 0 0 1 1180.7 2044.9M1147.0 2205.9A3.7 3.7 0 0 1 1147.0 2202.7M1340.7 2039.3A3.9 3.9 0 0 1 1340.4 2035.9M1200.6 2220.3A4.9 4.9 0 0 1 1197.9 2217.0M1330.5 2187.5A3.7 3.7 0 0 1 1332.4 2190.1M1358.2 2037.2A4.9 4.9 0 0 1 1362.3 2038.4M1313.0 2175.5A4.5 4.5 0 0 1 1312.3 2171.6M1171.4 2175.4A4.3 4.3 0 0 1 1174.1 2172.8M1196.9 2181.7A3.8 3.8 0 0 1 1194.9 2184.3M1195.9 2222.5A3.8 3.8 0 0 1 1193.9 2225.2M1349.8 2241.7A4.1 4.1 0 0 1 1347.8 2244.7M1329.7 2100.4A3.8 3.8 0 0 1 1332.8 2099.3M1210.1 2200.0A4.6 4.6 0 0 1 1206.4 2198.4M1191.2 2205.6A4.2 4.2 0 0 1 1190.8 2201.9M1347.9 2039.1A4.3 4.3 0 0 1 1345.0 2041.4M1290.3 2065.0A4.0 4.0 0 0 1 1293.7 2064.9M1286.1 2045.9A4.2 4.2 0 0 1 1289.7 2046.2M1208.7 2147.8A3.7 3.7 0 0 1 1209.6 2144.8" stroke="#b07a48" stroke-width="2.2" stroke-linecap="round" fill="none" opacity="0.6"/>
<path d="M1244.9 2158.6h-0.9M1187.0 2148.2h0.3M1283.3 2209.3h1.4M1166.7 2212.9h0.0M1261.3 2050.0h-0.7M1246.0 2097.5h-0.3M1328.8 2190.8h0.8M1215.3 2087.0h1.4M1330.1 2121.0h1.0M1354.2 2221.1h0.0M1168.9 2050.1h-0.9M1319.4 2075.7h-0.3M1175.4 2176.9h-0.5M1357.0 2211.5h1.3M1212.9 2229.2h-1.4M1168.8 2251.9h0.1M1166.6 2163.6h0.3M1343.5 2214.6h-0.5M1307.0 2241.3h-0.4M1337.8 2168.1h1.3M1155.5 2246.1h-1.3M1185.2 2117.2h0.9M1151.0 2234.7h-0.5M1216.0 2254.1h0.6M1306.5 2189.9h-0.6M1273.1 2169.3h0.0M1251.1 2087.1h-1.1M1298.1 2145.1h-0.7M1242.6 2230.7h0.4M1328.1 2221.4h1.5M1335.8 2046.1h-0.9M1151.2 2066.6h-1.4M1283.3 2179.3h-1.2M1295.1 2080.4h1.2M1303.2 2214.8h1.1M1252.5 2043.3h-0.0M1322.0 2051.0h-1.3M1177.5 2069.4h1.1M1209.8 2195.3h0.8M1214.5 2119.9h-1.1M1192.1 2221.8h1.0M1278.0 2043.1h-0.2M1188.5 2171.2h-0.8M1223.9 2171.7h0.1M1194.3 2253.8h0.3M1317.9 2064.5h-0.1M1299.4 2224.0h0.6M1276.3 2201.9h-0.7M1351.5 2128.4h0.3M1226.1 2099.1h1.0M1357.5 2090.0h-1.5M1260.3 2240.6h-0.6M1155.6 2050.3h1.2M1192.6 2111.7h-1.2M1253.8 2153.8h-1.2M1331.6 2212.1h0.1M1238.0 2068.8h0.7M1335.0 2149.2h-1.4M1223.3 2145.7h-1.0M1269.9 2109.2h-0.1M1248.7 2126.4h0.7M1235.5 2131.3h0.2M1275.4 2052.3h1.1M1199.8 2102.1h-1.4M1207.0 2176.0h1.5M1352.8 2074.9h-1.2M1225.9 2084.1h-0.5M1232.1 2220.1h-0.7M1349.6 2115.2h-1.0M1214.6 2129.2h-1.2M1198.3 2091.2h0.6M1295.8 2128.1h0.8M1159.6 2156.6h0.8M1326.0 2203.8h-1.0M1306.3 2115.3h1.3M1248.5 2115.6h-0.8M1235.0 2170.0h1.1M1286.1 2221.1h0.9M1275.4 2245.7h-1.0M1170.9 2241.3h-1.3M1349.3 2046.6h-0.2M1223.5 2248.2h1.2M1361.5 2080.6h-1.2M1236.2 2155.7h-0.7M1337.1 2115.3h-0.5M1170.6 2037.9h0.4M1312.8 2051.8h-1.0M1204.0 2204.8h-0.4M1337.8 2204.6h-1.3" stroke="#c4c4e8" stroke-width="7.4" stroke-linecap="round" fill="none" opacity="0.9"/>
<path d="M1346.9 2138.2h-1.5M1256.9 2164.6h1.4M1297.0 2046.2h1.1M1359.5 2246.5h-0.2M1288.5 2170.7h0.9M1153.6 2137.8h1.1M1312.8 2124.0h0.6M1315.4 2095.7h-0.1M1172.3 2128.4h0.4M1331.8 2176.4h-0.5M1201.0 2078.3h0.8M1345.4 2081.4h-0.7M1243.5 2050.2h-0.3M1296.5 2164.0h0.6M1298.6 2246.1h-1.3M1251.4 2195.7h0.4M1237.3 2208.7h0.9M1361.9 2228.1h-1.0M1342.9 2180.4h-0.5M1283.1 2134.0h0.7M1249.8 2075.9h-0.9M1348.7 2193.9h-1.3M1228.6 2160.6h-1.1M1352.3 2055.8h1.0M1356.5 2150.9h-0.8M1205.3 2139.8h0.5M1234.2 2185.9h-0.6M1217.8 2138.5h1.1M1202.9 2234.9h-0.1M1359.0 2042.1h-1.1M1356.2 2160.4h0.2M1315.3 2152.3h-0.7M1208.3 2068.1h0.6M1307.4 2252.2h1.0M1323.8 2141.2h1.3M1227.4 2210.1h0.2M1204.7 2153.2h-0.9M1170.1 2119.1h0.3M1342.3 2156.1h-0.4M1268.2 2094.5h1.4M1343.7 2252.5h-0.6M1154.0 2076.2h-0.1M1292.2 2068.5h-1.0M1178.7 2104.6h-1.0M1333.6 2081.5h0.5M1297.4 2186.2h1.1M1217.4 2075.7h0.0M1157.6 2191.9h1.2M1234.3 2106.9h-1.0M1340.7 2091.7h0.0M1149.0 2125.4h-1.1M1260.8 2109.9h-0.8M1337.9 2194.8h1.1M1192.8 2041.4h1.1M1323.2 2102.9h-0.2M1337.3 2135.8h0.4M1228.0 2126.2h0.8M1190.7 2100.2h0.1M1292.8 2137.3h-1.1M1151.6 2225.5h0.9M1220.4 2052.6h1.3M1262.2 2059.4h0.1M1159.0 2208.1h-1.2M1362.1 2192.2h-0.9M1344.1 2037.2h-1.0" stroke="#c4c4e8" stroke-width="6.2" stroke-linecap="round" fill="none" opacity="0.9"/>
<path d="M1167.4 2103.0h-1.0M1188.2 2089.6h1.4M1242.3 2220.0h-1.1M1259.3 2176.1h-0.1M1147.2 2082.6h0.3M1162.9 2173.8h1.0M1355.5 2201.7h0.0M1192.7 2122.7h0.5M1199.6 2167.6h1.2M1271.3 2225.2h0.2M1186.6 2070.6h0.3M1189.6 2243.4h-0.2M1238.2 2059.6h-0.1M1202.7 2215.9h-0.2M1162.0 2086.7h0.9M1150.7 2095.5h0.4M1151.7 2175.2h0.1M1318.6 2235.7h-1.2M1282.2 2120.1h0.1M1306.0 2163.2h0.9M1165.2 2200.0h-1.0M1202.4 2039.6h-1.2M1282.4 2144.3h-0.8M1215.3 2219.3h-0.7M1359.4 2135.3h0.7M1326.5 2088.6h0.1M1206.0 2112.2h1.4M1263.2 2208.8h0.3M1329.5 2158.7h0.8M1263.0 2146.3h1.3M1250.1 2106.0h-0.5M1347.1 2065.2h1.2M1315.6 2042.0h0.0M1295.6 2107.0h-0.5M1328.8 2252.1h-1.0M1258.5 2130.5h0.9M1186.3 2135.7h0.2M1308.0 2206.0h1.3M1149.4 2114.3h-0.6M1262.4 2121.7h1.5M1288.7 2158.8h0.8M1163.0 2233.7h-1.2M1242.8 2182.1h-0.1M1305.9 2088.9h-0.2M1316.7 2172.8h-0.0M1163.2 2063.1h-0.5M1288.4 2251.9h0.4M1217.4 2156.2h-0.6M1345.7 2241.2h0.9M1226.1 2116.0h0.0M1151.9 2149.0h0.4M1147.4 2215.4h0.1M1214.4 2104.6h-0.9M1236.2 2040.4h-0.3M1325.5 2169.8h0.0M1304.0 2232.5h0.9M1260.9 2089.0h-0.2M1198.1 2052.0h-1.3M1156.2 2105.3h-0.4M1360.3 2068.5h1.4M1359.2 2169.7h-0.9M1287.6 2049.8h1.2M1182.5 2081.3h-0.3M1358.0 2101.8h-0.1M1314.0 2141.5h-0.0M1196.3 2141.8h1.0M1164.1 2076.7h0.6M1212.3 2147.2h-1.3M1257.8 2100.9h-0.2M1331.0 2059.8h-0.4M1157.8 2218.5h-1.4M1316.6 2084.5h0.4M1296.1 2116.1h-1.1M1305.8 2153.2h-1.0M1252.2 2054.2h0.7M1150.3 2204.3h1.3M1236.7 2252.0h0.4M1257.1 2250.8h0.8M1316.9 2226.8h-0.4M1307.3 2101.4h0.7M1179.6 2246.4h0.1M1188.4 2061.4h0.9M1147.3 2037.3h1.0M1147.7 2251.4h-0.6M1252.6 2231.1h-0.8M1233.1 2090.3h-0.0M1260.7 2197.2h-1.1M1199.9 2243.8h0.6M1292.9 2057.2h0.0M1273.5 2123.8h-0.6" stroke="#c4c4e8" stroke-width="6.8" stroke-linecap="round" fill="none" opacity="0.9"/>
<path d="M1181.2 2040.4h-0.7M1209.6 2052.3h-1.0M1359.1 2123.4h-0.9M1172.6 2090.6h0.3M1268.0 2134.2h-0.7M1188.3 2196.0h-0.7M1314.2 2108.5h1.1M1227.5 2135.5h-0.2M1198.6 2190.1h-1.2M1276.1 2100.8h-1.0M1270.8 2065.7h-0.9M1225.4 2230.5h1.1M1359.1 2179.7h0.4M1223.2 2185.8h-1.3M1341.9 2226.2h0.5M1280.0 2236.9h-0.8M1212.2 2184.3h-1.3M1176.5 2144.9h1.0M1213.9 2208.9h-0.1M1321.7 2245.2h-0.4M1343.0 2056.0h0.3M1285.8 2192.9h1.3M1193.2 2232.5h0.5M1329.8 2232.6h-0.4M1271.0 2080.7h-0.7M1354.0 2237.6h-0.2M1261.5 2071.8h1.3M1342.3 2105.7h-0.1M1294.6 2235.0h0.3M1255.8 2186.0h-0.8M1188.0 2052.4h-0.4M1297.3 2203.7h0.4M1202.6 2124.3h1.1M1228.3 2058.5h-1.1M1240.0 2140.8h-1.0M1171.7 2230.9h0.2M1310.0 2078.3h-0.7M1281.9 2059.3h-0.7M1165.8 2183.9h0.9M1239.6 2117.3h-0.6M1193.2 2180.8h-0.8M1189.3 2159.5h-0.7M1178.2 2199.0h-0.7M1287.4 2090.4h0.2M1194.8 2203.3h-0.1M1320.5 2128.6h-0.7M1228.3 2073.5h0.8M1206.5 2252.1h-0.3M1302.0 2058.2h1.4M1250.9 2138.8h0.7M1332.5 2103.0h0.7M1181.2 2217.7h0.3M1246.9 2247.0h0.8M1177.5 2057.6h0.6M1312.9 2215.4h0.9M1282.7 2080.1h-0.2M1271.7 2188.4h-1.0M1218.3 2238.8h-0.5M1264.6 2158.8h-0.7M1173.9 2153.8h0.3M1230.3 2238.8h1.1M1256.4 2220.6h0.9M1278.6 2088.2h-0.4M1181.7 2187.0h0.5M1160.3 2126.2h-0.7M1179.7 2163.6h0.8M1299.9 2172.4h-1.5M1218.5 2042.9h1.0M1252.7 2063.2h-0.5M1224.7 2200.7h0.7M1318.4 2196.8h0.6M1361.9 2051.2h0.9M1274.8 2155.6h-0.1M1330.9 2070.7h-1.0M1335.0 2244.9h0.8M1246.5 2168.0h-0.9M1166.5 2145.1h1.3M1214.2 2165.6h-0.1M1249.4 2205.9h-1.3M1150.4 2162.2h-0.4M1202.9 2225.8h0.9M1286.9 2104.5h0.5M1185.6 2208.4h-1.1M1166.3 2223.6h-0.2M1301.8 2073.2h1.4M1307.1 2178.1h-1.2" stroke="#c4c4e8" stroke-width="5.6" stroke-linecap="round" fill="none" opacity="0.9"/>
<path d="M1244.9 2157.5h.01M1256.9 2165.6h.01M1283.4 2208.8h.01M1167.0 2212.9h.01M1359.4 2246.9h.01M1181.7 2041.3h.01M1189.4 2090.7h.01M1243.1 2220.4h.01M1246.7 2096.8h.01M1214.5 2087.8h.01M1312.6 2122.9h.01M1354.8 2220.2h.01M1358.5 2124.4h.01M1314.7 2096.5h.01M1172.0 2091.3h.01M1319.1 2075.8h.01M1188.8 2196.5h.01M1171.6 2128.9h.01M1212.1 2228.6h.01M1332.5 2175.6h.01M1313.9 2107.6h.01M1199.8 2166.9h.01M1271.0 2226.4h.01M1343.4 2214.6h.01M1305.8 2240.7h.01M1336.9 2168.4h.01M1154.6 2245.3h.01M1201.8 2216.5h.01M1162.3 2086.2h.01M1150.2 2095.0h.01M1185.3 2117.3h.01M1224.5 2229.7h.01M1296.8 2163.5h.01M1299.0 2245.3h.01M1250.4 2194.7h.01M1307.3 2190.0h.01M1222.0 2185.5h.01M1237.6 2208.0h.01M1273.9 2168.1h.01M1306.1 2163.4h.01M1250.3 2088.3h.01M1280.1 2236.0h.01M1212.8 2183.2h.01M1243.1 2231.5h.01M1328.4 2220.2h.01M1214.2 2220.1h.01M1336.6 2045.6h.01M1152.3 2067.4h.01M1282.2 2135.0h.01M1320.5 2244.8h.01M1249.1 2075.2h.01M1343.0 2054.9h.01M1229.7 2159.9h.01M1286.3 2192.5h.01M1264.2 2208.9h.01M1322.0 2051.6h.01M1352.5 2055.7h.01M1328.7 2159.4h.01M1330.2 2232.5h.01M1357.6 2150.8h.01M1263.5 2145.5h.01M1353.6 2237.9h.01M1249.5 2107.2h.01M1348.3 2065.6h.01M1296.2 2106.5h.01M1262.2 2072.6h.01M1194.2 2254.0h.01M1234.6 2185.3h.01M1254.7 2185.2h.01M1328.8 2252.4h.01M1259.4 2129.9h.01M1298.7 2223.8h.01M1307.2 2205.4h.01M1149.4 2114.8h.01M1358.0 2041.3h.01M1228.3 2058.5h.01M1275.5 2202.3h.01M1226.3 2100.2h.01M1164.1 2234.0h.01M1356.5 2090.1h.01M1242.3 2181.6h.01M1304.8 2089.3h.01M1317.0 2172.2h.01M1155.0 2051.5h.01M1165.9 2184.4h.01M1162.6 2064.2h.01M1218.0 2156.2h.01M1192.3 2180.7h.01M1344.6 2240.5h.01M1189.9 2158.6h.01M1177.5 2198.6h.01M1195.9 2202.5h.01M1331.4 2212.1h.01M1236.9 2069.0h.01M1227.3 2073.1h.01M1206.0 2253.3h.01M1334.9 2148.7h.01M1147.0 2215.0h.01M1250.1 2138.4h.01M1181.6 2217.4h.01M1246.3 2245.9h.01M1313.6 2214.9h.01M1169.5 2119.9h.01M1343.5 2156.2h.01M1281.6 2080.9h.01M1218.9 2237.6h.01M1267.7 2095.3h.01M1154.0 2075.4h.01M1293.3 2067.8h.01M1234.8 2131.8h.01M1276.6 2052.8h.01M1196.9 2050.8h.01M1199.2 2102.5h.01M1231.4 2237.9h.01M1353.2 2075.3h.01M1177.6 2105.6h.01M1181.2 2186.7h.01M1226.6 2084.2h.01M1359.5 2168.7h.01M1232.3 2219.3h.01M1334.4 2082.2h.01M1215.0 2129.5h.01M1180.8 2164.4h.01M1198.9 2090.9h.01M1312.9 2142.7h.01M1294.7 2127.0h.01M1218.7 2044.0h.01M1196.2 2141.1h.01M1158.4 2155.8h.01M1318.1 2196.4h.01M1233.8 2107.8h.01M1307.5 2116.5h.01M1274.1 2156.1h.01M1211.5 2147.1h.01M1331.0 2059.3h.01M1235.7 2169.3h.01M1158.5 2219.2h.01M1275.7 2244.7h.01M1295.2 2116.9h.01M1172.0 2240.7h.01M1335.4 2245.5h.01M1261.7 2109.0h.01M1337.2 2193.8h.01M1193.3 2041.0h.01M1167.0 2144.3h.01M1317.2 2226.2h.01M1307.1 2101.6h.01M1215.3 2164.9h.01M1189.1 2060.4h.01M1227.3 2126.7h.01M1222.5 2249.0h.01M1148.7 2250.7h.01M1236.7 2156.1h.01M1293.9 2137.3h.01M1170.3 2038.8h.01M1151.0 2226.4h.01M1261.9 2059.2h.01M1203.7 2226.5h.01M1184.9 2208.8h.01M1314.0 2051.5h.01M1200.0 2244.1h.01M1302.3 2072.9h.01M1158.8 2207.3h.01M1362.4 2191.8h.01M1338.5 2203.5h.01" stroke="#b0b0de" stroke-width="3.4" stroke-linecap="round" fill="none" opacity="0.55"/>
</g>
</g>
<rect x="1149.1" y="2039.1" width="212.2" height="213.1" fill="none" stroke="#b4b4b4" stroke-width="1.3"/>
<rect x="1365.45" y="2039.1" width="211.88" height="213.1" fill="#f3ebe7"/>
<g clip-path="url(#ihc2)">
<rect x="1365.45" y="2039.1" width="211.88" height="213.1" fill="#000" filter="url(#grain)"/>
<g filter="url(#nuc)">
<path d="M1564.5 2077.3A4.2 4.2 0 0 1 1562.5 2080.4M1556.0 2107.3A4.3 4.3 0 0 1 1557.7 2103.9M1482.5 2048.8A5.0 5.0 0 0 1 1485.2 2052.1M1501.2 2042.1A4.4 4.4 0 0 1 1497.4 2042.7M1396.8 2251.3A3.7 3.7 0 0 1 1395.9 2248.2M1440.7 2199.2A4.5 4.5 0 0 1 1440.8 2203.1M1418.6 2048.9A3.9 3.9 0 0 1 1415.2 2049.0M1421.5 2112.4A3.6 3.6 0 0 1 1424.6 2112.5M1376.2 2074.1A4.5 4.5 0 0 1 1376.8 2070.2M1388.1 2213.1A3.7 3.7 0 0 1 1390.7 2215.0M1423.9 2047.7A3.8 3.8 0 0 1 1424.6 2044.5M1483.9 2148.4A3.7 3.7 0 0 1 1483.3 2145.2M1479.2 2105.0A4.4 4.4 0 0 1 1483.0 2105.8M1565.3 2180.1A4.4 4.4 0 0 1 1563.0 2183.2M1441.7 2247.1A4.0 4.0 0 0 1 1442.3 2250.5M1433.7 2204.9A4.1 4.1 0 0 1 1434.9 2208.2M1424.2 2140.1A4.7 4.7 0 0 1 1420.4 2138.6M1398.4 2107.8A3.6 3.6 0 0 1 1399.4 2104.8M1371.8 2093.0A3.9 3.9 0 0 1 1374.9 2094.5M1422.9 2198.5A4.3 4.3 0 0 1 1426.1 2200.5M1551.7 2057.5A4.9 4.9 0 0 1 1551.6 2053.2M1504.8 2201.9A3.9 3.9 0 0 1 1503.4 2204.9M1436.5 2049.2A4.4 4.4 0 0 1 1438.5 2045.9M1466.3 2234.9A3.9 3.9 0 0 1 1466.1 2238.3M1374.0 2132.0A4.8 4.8 0 0 1 1371.0 2129.1M1514.4 2076.6A4.6 4.6 0 0 1 1517.1 2073.7M1473.4 2137.5A5.0 5.0 0 0 1 1471.8 2133.4M1454.6 2074.3A4.0 4.0 0 0 1 1453.8 2070.9M1375.2 2166.6A3.6 3.6 0 0 1 1372.2 2165.7M1488.4 2227.2A3.9 3.9 0 0 1 1491.8 2227.3M1430.5 2203.0A4.8 4.8 0 0 1 1434.4 2204.5M1543.8 2233.0A4.9 4.9 0 0 1 1540.8 2236.1M1381.6 2211.7A3.9 3.9 0 0 1 1378.5 2210.5M1527.0 2240.4A3.6 3.6 0 0 1 1524.1 2241.6M1531.4 2194.8A4.4 4.4 0 0 1 1528.6 2192.3M1443.2 2182.7A4.5 4.5 0 0 1 1439.2 2182.4M1386.7 2046.4A3.7 3.7 0 0 1 1388.5 2049.1M1501.1 2142.5A4.2 4.2 0 0 1 1497.6 2143.2M1581.6 2106.5A3.6 3.6 0 0 1 1582.1 2109.6M1412.3 2199.1A3.7 3.7 0 0 1 1415.6 2199.5M1450.4 2143.4A3.8 3.8 0 0 1 1447.8 2145.3M1364.8 2077.3A4.1 4.1 0 0 1 1367.4 2074.8M1422.3 2225.2A3.6 3.6 0 0 1 1419.1 2225.5M1463.5 2050.5A4.2 4.2 0 0 1 1459.9 2050.8M1530.8 2212.4A5.0 5.0 0 0 1 1526.7 2211.0M1485.6 2231.5A4.4 4.4 0 0 1 1486.6 2227.8M1390.1 2143.9A3.6 3.6 0 0 1 1393.2 2144.6M1522.5 2077.2A3.9 3.9 0 0 1 1521.7 2080.5M1435.2 2183.5A3.7 3.7 0 0 1 1433.1 2186.1M1558.9 2142.2A3.6 3.6 0 0 1 1561.6 2143.9M1577.7 2185.0A4.3 4.3 0 0 1 1575.7 2188.1M1486.5 2129.8A4.8 4.8 0 0 1 1487.7 2125.8M1376.0 2223.1A5.0 5.0 0 0 1 1375.0 2227.3M1558.1 2193.9A4.7 4.7 0 0 1 1554.6 2196.1M1556.4 2219.8A4.5 4.5 0 0 1 1559.2 2217.0M1362.4 2155.4A4.3 4.3 0 0 1 1366.1 2155.5M1465.1 2251.3A3.8 3.8 0 0 1 1467.0 2248.6M1376.7 2179.6A4.1 4.1 0 0 1 1377.1 2183.1M1402.9 2155.6A5.0 5.0 0 0 1 1400.7 2151.9M1465.6 2130.3A4.5 4.5 0 0 1 1468.9 2132.3M1455.4 2159.6A4.3 4.3 0 0 1 1456.8 2163.0M1480.8 2178.5A4.9 4.9 0 0 1 1476.7 2177.5M1396.7 2222.6A3.8 3.8 0 0 1 1397.9 2225.7M1362.6 2151.2A4.9 4.9 0 0 1 1360.1 2147.7M1474.9 2048.5A4.2 4.2 0 0 1 1471.6 2050.1M1380.1 2060.2A3.9 3.9 0 0 1 1380.4 2063.5M1411.0 2156.6A3.9 3.9 0 0 1 1414.0 2155.0M1501.6 2231.8A4.2 4.2 0 0 1 1504.5 2234.0M1575.3 2159.6A5.0 5.0 0 0 1 1579.2 2161.5M1457.9 2155.9A3.8 3.8 0 0 1 1455.1 2154.1M1465.6 2075.1A4.9 4.9 0 0 1 1468.6 2078.1M1483.8 2056.5A4.6 4.6 0 0 1 1480.0 2057.9M1373.7 2068.1A3.6 3.6 0 0 1 1372.9 2071.2M1555.9 2107.7A4.5 4.5 0 0 1 1557.2 2104.0M1568.2 2082.8A4.2 4.2 0 0 1 1568.5 2086.5M1376.5 2073.0A4.0 4.0 0 0 1 1377.9 2069.8M1370.2 2140.8A4.1 4.1 0 0 1 1366.8 2141.9M1433.7 2248.7A4.8 4.8 0 0 1 1436.1 2245.2M1402.9 2187.1A5.0 5.0 0 0 1 1402.9 2182.7M1375.5 2167.2A4.3 4.3 0 0 1 1371.9 2166.2M1430.7 2037.9A3.9 3.9 0 0 1 1428.9 2040.8M1510.2 2058.7A3.9 3.9 0 0 1 1511.4 2061.9M1463.2 2231.9A4.5 4.5 0 0 1 1466.5 2234.1M1544.0 2079.0A4.5 4.5 0 0 1 1542.8 2082.7M1501.2 2231.5A4.4 4.4 0 0 1 1504.5 2233.5M1482.8 2180.5A4.1 4.1 0 0 1 1484.4 2177.3M1423.4 2124.3A4.2 4.2 0 0 1 1426.2 2122.0M1573.9 2150.1A3.8 3.8 0 0 1 1576.0 2152.6M1442.1 2086.4A4.9 4.9 0 0 1 1437.9 2085.7M1512.4 2181.9A4.1 4.1 0 0 1 1514.2 2178.8M1505.7 2065.0A4.0 4.0 0 0 1 1503.6 2062.3M1423.5 2170.1A3.8 3.8 0 0 1 1420.4 2171.2M1409.9 2125.0A4.4 4.4 0 0 1 1406.1 2125.2M1549.9 2078.1A4.0 4.0 0 0 1 1552.3 2080.6M1458.7 2258.4A5.0 5.0 0 0 1 1455.6 2255.4M1363.6 2135.7A4.3 4.3 0 0 1 1366.7 2133.6M1501.2 2172.7A4.3 4.3 0 0 1 1502.2 2169.1M1541.2 2061.0A3.7 3.7 0 0 1 1538.0 2061.4M1378.5 2228.9A3.9 3.9 0 0 1 1378.7 2225.5M1397.5 2152.2A4.3 4.3 0 0 1 1401.0 2153.6M1551.7 2093.8A4.5 4.5 0 0 1 1550.2 2090.2M1424.6 2034.3A3.9 3.9 0 0 1 1428.0 2033.8M1517.5 2052.7A3.9 3.9 0 0 1 1518.9 2049.6M1568.2 2045.6A4.9 4.9 0 0 1 1566.5 2041.8M1523.1 2253.2A4.3 4.3 0 0 1 1521.7 2256.6M1402.7 2224.9A4.2 4.2 0 0 1 1406.3 2225.0M1367.8 2060.6A5.0 5.0 0 0 1 1364.4 2058.0M1560.9 2103.1A4.2 4.2 0 0 1 1563.9 2105.1M1370.0 2166.9A3.8 3.8 0 0 1 1371.3 2169.8M1463.1 2093.0A4.7 4.7 0 0 1 1466.0 2095.8M1578.7 2163.0A3.7 3.7 0 0 1 1578.7 2166.3M1468.9 2059.8A3.7 3.7 0 0 1 1465.9 2058.7M1543.7 2170.8A4.0 4.0 0 0 1 1540.5 2172.0M1462.0 2067.0A3.9 3.9 0 0 1 1459.6 2064.6M1554.4 2147.0A4.2 4.2 0 0 1 1555.0 2143.4M1450.7 2247.8A3.7 3.7 0 0 1 1453.9 2248.5M1464.6 2139.9A4.6 4.6 0 0 1 1465.2 2143.8M1373.7 2059.9A3.9 3.9 0 0 1 1376.6 2058.3M1560.0 2054.4A4.0 4.0 0 0 1 1559.2 2057.8M1436.8 2091.0A4.5 4.5 0 0 1 1440.6 2090.0M1556.5 2246.0A5.0 5.0 0 0 1 1560.6 2247.4M1505.9 2046.3A4.2 4.2 0 0 1 1504.5 2049.7M1492.6 2238.7A3.8 3.8 0 0 1 1495.0 2241.0M1545.5 2225.2A4.0 4.0 0 0 1 1546.8 2221.9M1476.7 2121.1A3.7 3.7 0 0 1 1478.3 2118.4M1560.8 2130.7A4.1 4.1 0 0 1 1562.0 2134.1M1545.8 2242.5A4.1 4.1 0 0 1 1549.3 2241.8M1534.6 2220.3A4.9 4.9 0 0 1 1530.9 2222.4M1459.3 2240.6A3.6 3.6 0 0 1 1461.0 2243.3M1445.0 2123.8A3.6 3.6 0 0 1 1443.4 2121.0M1502.1 2231.8A4.7 4.7 0 0 1 1498.8 2229.3M1390.5 2220.3A4.8 4.8 0 0 1 1386.5 2221.4M1417.4 2203.5A4.0 4.0 0 0 1 1415.3 2206.2M1393.3 2106.9A4.2 4.2 0 0 1 1395.3 2109.9M1370.0 2060.3A4.7 4.7 0 0 1 1366.0 2059.5M1408.0 2086.5A4.8 4.8 0 0 1 1411.6 2084.4M1396.1 2206.6A4.4 4.4 0 0 1 1397.9 2209.9M1383.7 2057.4A4.5 4.5 0 0 1 1386.3 2054.4M1442.5 2134.3A4.9 4.9 0 0 1 1438.4 2135.5M1542.9 2232.6A3.9 3.9 0 0 1 1540.6 2235.1M1482.9 2043.4A3.7 3.7 0 0 1 1484.5 2040.6M1561.3 2252.5A4.6 4.6 0 0 1 1558.4 2255.3M1381.8 2036.2A4.4 4.4 0 0 1 1385.5 2037.3M1477.9 2070.3A4.9 4.9 0 0 1 1474.0 2068.5M1452.6 2239.9A4.6 4.6 0 0 1 1448.6 2239.4M1433.9 2092.0A5.0 5.0 0 0 1 1429.6 2091.6M1490.0 2047.4A4.9 4.9 0 0 1 1494.1 2046.0M1434.4 2250.1A4.0 4.0 0 0 1 1435.4 2246.7M1441.0 2150.5A3.6 3.6 0 0 1 1443.5 2148.7M1424.9 2168.7A4.2 4.2 0 0 1 1422.3 2171.3M1437.0 2108.3A4.6 4.6 0 0 1 1435.8 2112.1M1497.2 2048.7A4.3 4.3 0 0 1 1497.5 2052.4M1471.3 2153.5A4.9 4.9 0 0 1 1473.3 2149.7M1534.5 2145.3A4.0 4.0 0 0 1 1531.1 2145.6M1495.8 2128.5A4.6 4.6 0 0 1 1494.6 2132.3M1547.1 2142.8A3.7 3.7 0 0 1 1550.0 2141.5M1482.4 2085.4A4.4 4.4 0 0 1 1479.1 2087.2M1516.8 2250.0A4.0 4.0 0 0 1 1520.2 2249.7M1561.1 2163.6A3.7 3.7 0 0 1 1559.6 2160.7M1549.0 2052.4A4.7 4.7 0 0 1 1545.0 2052.5M1471.0 2118.7A4.2 4.2 0 0 1 1474.1 2120.6M1404.1 2250.9A5.0 5.0 0 0 1 1400.7 2253.6M1489.6 2119.3A3.9 3.9 0 0 1 1487.4 2116.8M1409.8 2197.5A3.9 3.9 0 0 1 1407.8 2200.1M1560.8 2049.9A3.7 3.7 0 0 1 1557.7 2048.9M1565.1 2178.9A4.1 4.1 0 0 1 1563.8 2182.2M1524.1 2193.7A4.1 4.1 0 0 1 1520.5 2193.5M1364.3 2079.2A4.4 4.4 0 0 1 1365.6 2075.6M1466.5 2093.2A4.4 4.4 0 0 1 1463.0 2091.8M1486.8 2228.6A3.8 3.8 0 0 1 1489.7 2226.9M1383.4 2172.6A3.8 3.8 0 0 1 1385.9 2170.4M1570.4 2038.1A3.9 3.9 0 0 1 1573.7 2038.8M1538.5 2238.7A4.6 4.6 0 0 1 1541.5 2241.3M1490.0 2246.3A4.2 4.2 0 0 1 1487.5 2243.7M1535.7 2045.8A4.7 4.7 0 0 1 1536.5 2049.8M1514.6 2253.4A4.2 4.2 0 0 1 1516.2 2250.1M1402.6 2148.2A4.5 4.5 0 0 1 1406.3 2147.0M1495.7 2035.2A4.4 4.4 0 0 1 1499.4 2034.2M1506.8 2076.1A4.7 4.7 0 0 1 1505.4 2080.0M1519.7 2196.8A4.9 4.9 0 0 1 1523.5 2198.6M1479.9 2076.0A4.0 4.0 0 0 1 1477.3 2078.3M1374.6 2211.5A4.6 4.6 0 0 1 1378.6 2211.3M1488.5 2248.4A4.8 4.8 0 0 1 1492.6 2247.5M1446.4 2222.0A4.0 4.0 0 0 1 1448.2 2224.9M1479.9 2186.7A4.8 4.8 0 0 1 1477.1 2189.9M1501.0 2206.7A4.8 4.8 0 0 1 1497.2 2204.9M1420.9 2148.3A3.7 3.7 0 0 1 1419.9 2151.4M1496.4 2234.7A4.5 4.5 0 0 1 1499.0 2231.7M1394.6 2192.5A3.6 3.6 0 0 1 1396.9 2194.7M1376.2 2043.8A4.1 4.1 0 0 1 1378.8 2046.3M1376.9 2075.4A4.4 4.4 0 0 1 1376.2 2071.6M1425.0 2098.5A4.9 4.9 0 0 1 1429.0 2099.7M1380.1 2044.8A4.9 4.9 0 0 1 1377.6 2041.3M1494.7 2138.4A4.0 4.0 0 0 1 1496.7 2135.6M1410.5 2085.4A4.0 4.0 0 0 1 1414.0 2085.6M1425.6 2122.7A3.7 3.7 0 0 1 1428.9 2122.7M1431.1 2105.5A3.7 3.7 0 0 1 1434.3 2105.7M1522.5 2076.8A3.9 3.9 0 0 1 1521.9 2080.2M1526.9 2216.3A3.8 3.8 0 0 1 1529.3 2213.9M1569.4 2156.1A3.9 3.9 0 0 1 1568.5 2152.8M1388.7 2054.8A3.8 3.8 0 0 1 1391.4 2056.6M1410.7 2123.5A3.8 3.8 0 0 1 1407.8 2124.9M1454.7 2238.9A4.9 4.9 0 0 1 1450.7 2240.4M1382.0 2069.3A3.9 3.9 0 0 1 1384.2 2071.8M1378.8 2047.8A3.8 3.8 0 0 1 1377.4 2050.8M1483.9 2172.9A4.2 4.2 0 0 1 1482.9 2176.4M1550.9 2048.5A4.0 4.0 0 0 1 1549.2 2051.5M1563.7 2225.1A4.9 4.9 0 0 1 1559.5 2226.1M1484.2 2207.6A3.9 3.9 0 0 1 1482.5 2204.6M1512.6 2184.7A4.6 4.6 0 0 1 1512.2 2180.8M1501.6 2111.7A4.9 4.9 0 0 1 1504.5 2114.8M1403.4 2119.5A4.7 4.7 0 0 1 1406.3 2116.7M1418.0 2079.9A3.9 3.9 0 0 1 1415.8 2082.4M1574.9 2045.3A4.9 4.9 0 0 1 1570.9 2046.8M1580.3 2070.8A4.9 4.9 0 0 1 1577.4 2073.8M1543.7 2245.5A4.5 4.5 0 0 1 1545.7 2242.1M1420.3 2215.4A3.8 3.8 0 0 1 1418.0 2213.0M1429.4 2034.3A4.1 4.1 0 0 1 1430.9 2037.6M1412.0 2186.6A4.9 4.9 0 0 1 1409.0 2189.6M1395.3 2113.0A4.9 4.9 0 0 1 1391.8 2115.3M1377.1 2166.6A4.3 4.3 0 0 1 1373.4 2167.1M1365.2 2210.4A4.1 4.1 0 0 1 1368.4 2208.8M1417.1 2235.6A4.8 4.8 0 0 1 1414.8 2239.1M1417.3 2144.2A4.7 4.7 0 0 1 1420.9 2146.0M1375.6 2184.6A3.7 3.7 0 0 1 1372.4 2185.4M1543.9 2170.7A4.1 4.1 0 0 1 1540.6 2172.1M1404.2 2155.0A3.9 3.9 0 0 1 1402.0 2152.6M1523.0 2158.3A4.9 4.9 0 0 1 1518.8 2157.1M1473.6 2157.1A4.4 4.4 0 0 1 1471.8 2153.8M1363.7 2138.0A3.6 3.6 0 0 1 1364.9 2135.1M1478.9 2078.3A4.5 4.5 0 0 1 1482.5 2079.9M1457.8 2048.5A3.9 3.9 0 0 1 1457.9 2045.1M1574.4 2106.8A4.5 4.5 0 0 1 1577.3 2104.2M1440.5 2253.7A4.8 4.8 0 0 1 1436.3 2253.7M1553.1 2058.7A4.6 4.6 0 0 1 1551.5 2055.0M1561.5 2122.4A3.7 3.7 0 0 1 1559.2 2124.6M1466.9 2164.2A4.3 4.3 0 0 1 1470.5 2165.1M1490.5 2149.0A4.5 4.5 0 0 1 1487.0 2150.7M1415.7 2086.9A4.3 4.3 0 0 1 1416.1 2090.6M1477.5 2194.9A3.8 3.8 0 0 1 1477.5 2198.2M1491.1 2068.6A3.7 3.7 0 0 1 1494.3 2068.7M1505.2 2074.3A3.8 3.8 0 0 1 1505.8 2077.5M1480.1 2079.3A3.7 3.7 0 0 1 1482.4 2081.5M1443.9 2093.0A4.4 4.4 0 0 1 1443.4 2096.9M1498.8 2074.0A4.3 4.3 0 0 1 1502.1 2072.3M1389.2 2074.4A3.8 3.8 0 0 1 1392.3 2075.6M1575.6 2125.5A3.9 3.9 0 0 1 1578.8 2126.6M1409.3 2085.8A4.3 4.3 0 0 1 1412.9 2085.0M1544.6 2245.5A3.6 3.6 0 0 1 1546.3 2242.8M1441.2 2232.2A4.0 4.0 0 0 1 1438.6 2234.6M1518.3 2138.8A4.6 4.6 0 0 1 1518.9 2142.8M1541.7 2241.4A4.7 4.7 0 0 1 1541.3 2245.5M1566.6 2058.1A4.5 4.5 0 0 1 1564.4 2054.8M1573.4 2193.7A4.2 4.2 0 0 1 1576.9 2194.9M1491.9 2180.3A4.2 4.2 0 0 1 1494.3 2177.6M1565.6 2090.2A4.9 4.9 0 0 1 1568.4 2093.4M1397.2 2064.7A4.0 4.0 0 0 1 1398.3 2068.0M1444.4 2046.0A5.0 5.0 0 0 1 1445.9 2050.1M1432.3 2072.2A4.7 4.7 0 0 1 1432.5 2068.1M1452.2 2103.9A3.8 3.8 0 0 1 1455.0 2102.1M1531.3 2137.8A4.3 4.3 0 0 1 1534.9 2138.4M1575.3 2133.5A4.2 4.2 0 0 1 1572.4 2131.3M1577.8 2160.4A4.8 4.8 0 0 1 1580.1 2163.9M1562.3 2098.4A3.9 3.9 0 0 1 1560.0 2095.9M1380.6 2172.4A3.8 3.8 0 0 1 1378.7 2175.2M1381.4 2215.8A4.5 4.5 0 0 1 1379.5 2219.3M1379.2 2098.4A4.7 4.7 0 0 1 1377.6 2094.6M1506.6 2049.0A4.1 4.1 0 0 1 1509.2 2046.6M1565.3 2221.0A4.7 4.7 0 0 1 1563.8 2224.8M1390.5 2193.0A4.3 4.3 0 0 1 1394.0 2191.7M1558.5 2195.4A3.8 3.8 0 0 1 1561.3 2197.2M1421.7 2101.3A5.0 5.0 0 0 1 1417.5 2102.3M1376.5 2073.9A4.2 4.2 0 0 1 1377.2 2070.4M1449.0 2221.6A4.4 4.4 0 0 1 1451.8 2219.1M1458.7 2094.2A4.3 4.3 0 0 1 1462.3 2093.1M1503.1 2232.1A4.9 4.9 0 0 1 1499.2 2230.3M1398.7 2221.0A4.9 4.9 0 0 1 1397.5 2217.0M1501.1 2214.4A4.5 4.5 0 0 1 1503.7 2217.3M1402.7 2067.2A4.9 4.9 0 0 1 1398.7 2065.8M1431.8 2154.9A4.8 4.8 0 0 1 1428.1 2156.9M1471.8 2154.2A4.5 4.5 0 0 1 1473.0 2150.5M1505.2 2089.0A3.7 3.7 0 0 1 1503.7 2091.8M1411.0 2182.1A4.6 4.6 0 0 1 1411.9 2186.0M1483.1 2171.1A4.2 4.2 0 0 1 1483.8 2174.7M1482.2 2066.8A4.5 4.5 0 0 1 1479.4 2069.7M1410.6 2239.1A4.6 4.6 0 0 1 1407.9 2236.1M1360.5 2047.9A4.9 4.9 0 0 1 1362.2 2043.9M1400.9 2203.0A4.9 4.9 0 0 1 1405.2 2202.8M1490.0 2203.6A3.6 3.6 0 0 1 1489.3 2206.6M1425.8 2099.0A4.3 4.3 0 0 1 1429.1 2100.6M1390.9 2062.4A4.8 4.8 0 0 1 1386.8 2063.1M1382.6 2090.6A4.3 4.3 0 0 1 1385.8 2092.4M1433.9 2171.2A3.7 3.7 0 0 1 1433.0 2174.3M1409.7 2201.4A4.0 4.0 0 0 1 1412.1 2198.9M1569.5 2174.2A4.3 4.3 0 0 1 1566.3 2176.1M1508.2 2167.9A4.9 4.9 0 0 1 1510.3 2171.5M1574.0 2150.0A3.9 3.9 0 0 1 1576.1 2152.7M1544.8 2126.7A4.7 4.7 0 0 1 1541.2 2125.0M1472.2 2132.8A4.7 4.7 0 0 1 1474.8 2129.6M1449.6 2077.3A4.4 4.4 0 0 1 1445.9 2076.4" stroke="#b07a48" stroke-width="2.2" stroke-linecap="round" fill="none" opacity="0.8"/>
<path d="M1563.1 2243.0h-0.5M1573.0 2115.9h0.6M1486.9 2180.5h0.8M1388.1 2058.5h-1.1M1532.7 2190.6h-1.2M1375.5 2127.5h-0.6M1368.5 2212.9h1.1M1414.2 2158.9h0.6M1444.9 2207.7h-1.4M1575.6 2174.8h0.5M1540.8 2168.0h-0.6M1548.4 2081.8h-0.2M1479.0 2082.8h1.2M1452.9 2090.5h1.4M1431.5 2182.7h0.4M1573.9 2197.9h-0.8M1422.4 2073.7h1.1M1535.7 2175.3h-0.1M1394.3 2067.5h0.3M1476.2 2153.6h0.6M1440.7 2081.6h1.3M1500.9 2201.9h-0.4M1444.7 2196.2h1.2M1563.1 2068.3h1.1M1365.8 2110.0h0.7M1468.3 2113.3h-1.0M1563.4 2206.6h-0.1M1576.1 2129.4h-1.1M1575.7 2069.3h0.2M1388.5 2131.6h-1.2M1521.8 2171.6h-0.5M1558.0 2199.1h0.7M1407.8 2121.1h0.5M1401.6 2078.9h1.0M1560.3 2046.2h0.1M1531.9 2071.1h-1.3M1368.7 2078.7h-0.6M1548.3 2245.8h0.7M1538.5 2111.7h0.1M1422.4 2088.5h0.3M1550.8 2181.8h-1.2M1421.0 2184.7h-0.1M1450.2 2129.8h-0.1M1403.2 2207.3h-1.2M1395.0 2102.3h0.9M1480.3 2109.3h-1.1M1461.3 2046.9h-0.1M1498.6 2139.1h-0.4M1547.9 2103.9h1.0M1467.7 2168.3h1.4M1558.5 2145.8h0.2M1504.2 2185.9h-1.3M1374.3 2088.6h-0.1M1462.1 2222.0h1.3M1432.4 2109.0h-0.6M1397.2 2171.9h0.4M1502.5 2128.5h0.9M1470.5 2122.8h0.9M1384.9 2049.6h-0.6M1391.1 2110.5h0.1M1527.5 2251.7h-1.3M1558.1 2121.0h-0.2M1417.2 2148.9h0.1M1475.2 2185.5h1.3M1388.0 2157.9h-0.0M1498.7 2038.5h-1.0M1402.1 2093.3h-0.7M1453.0 2223.3h-1.3M1521.0 2096.3h0.1M1468.9 2251.9h-1.1M1365.4 2047.6h-0.2M1489.9 2230.8h1.4M1557.0 2250.9h-0.2M1480.4 2121.4h0.0M1461.6 2097.4h0.1M1397.5 2234.3h0.5M1564.6 2085.0h-1.1M1413.0 2174.1h0.7M1494.5 2210.7h0.5M1562.0 2230.5h-0.3M1527.9 2129.7h-0.5M1470.6 2239.9h-0.5" stroke="#bab6e2" stroke-width="6.2" stroke-linecap="round" fill="none" opacity="0.9"/>
<path d="M1556.1 2055.2h1.3M1491.3 2129.1h0.7M1431.3 2055.7h0.3M1402.0 2107.3h-0.7M1481.2 2236.6h0.2M1537.2 2243.1h-1.0M1418.1 2128.7h-0.9M1568.9 2054.2h0.4M1484.8 2154.7h1.2M1427.7 2232.2h1.1M1382.1 2227.4h-0.1M1466.6 2157.3h0.4M1561.0 2179.2h0.4M1455.5 2105.9h1.3M1524.2 2238.0h0.6M1391.3 2119.6h-0.9M1530.5 2217.5h1.3M1572.3 2153.5h0.5M1378.0 2139.8h0.8M1534.2 2101.2h1.4M1507.5 2061.5h0.9M1473.9 2096.2h0.6M1503.1 2227.2h0.8M1521.4 2052.5h-0.4M1393.5 2210.1h-0.5M1420.9 2167.4h1.2M1391.0 2147.4h-0.6M1529.3 2058.6h-1.3M1397.9 2156.5h-0.6M1436.6 2070.5h0.2M1541.5 2154.6h-0.4M1553.0 2162.3h-0.9M1476.2 2074.5h-0.0M1402.3 2217.7h0.6M1365.0 2146.9h-0.2M1545.6 2215.0h1.4M1518.7 2078.0h-1.1M1436.7 2201.3h1.5M1554.0 2172.0h1.0M1405.7 2151.4h0.1M1390.0 2186.9h0.9M1367.5 2190.1h0.9M1476.8 2133.8h0.1M1499.9 2116.3h-1.3M1573.4 2184.5h0.7M1375.2 2239.2h1.3M1573.2 2088.5h0.9M1551.7 2066.8h-0.6M1532.5 2141.9h-0.6M1471.6 2045.9h0.2M1537.9 2222.1h-1.5M1447.0 2120.8h0.3M1496.9 2192.6h-0.2M1415.6 2191.5h-0.2M1367.6 2252.2h-0.5M1571.9 2214.2h-1.0M1454.5 2173.5h-1.0M1549.5 2224.9h-0.9M1414.3 2078.8h1.2M1528.3 2040.6h-0.3M1471.0 2104.9h0.4M1429.8 2192.4h-0.6M1409.3 2111.9h-1.3M1539.1 2039.9h0.9M1452.6 2162.8h0.0M1395.0 2046.4h-0.3M1381.4 2207.9h1.0M1518.9 2253.4h-0.3M1460.8 2142.4h-0.9M1524.1 2224.9h-1.5M1452.1 2063.6h0.8M1371.1 2224.1h1.5M1422.3 2176.0h-0.9M1448.4 2037.5h0.1M1447.1 2141.6h0.1M1457.4 2243.7h1.2M1439.7 2094.5h1.1M1575.4 2164.6h0.6M1510.4 2050.5h0.9M1370.1 2068.9h1.0M1407.7 2164.7h1.1M1460.3 2253.7h-0.8M1382.3 2094.8h-1.2" stroke="#bab6e2" stroke-width="7.4" stroke-linecap="round" fill="none" opacity="0.9"/>
<path d="M1477.9 2065.4h-1.4M1404.9 2133.6h0.6M1368.8 2055.7h-1.3M1441.0 2049.6h-1.1M1532.5 2165.0h1.1M1505.5 2171.9h-0.3M1465.8 2193.0h-0.7M1371.9 2096.9h-0.7M1531.3 2156.3h0.2M1511.8 2248.5h-0.6M1479.7 2251.6h0.5M1464.0 2079.8h-1.5M1557.9 2133.6h0.5M1437.4 2230.8h-1.3M1513.1 2217.3h-1.4M1501.5 2088.9h-0.8M1427.2 2126.0h-0.6M1435.2 2158.5h0.1M1465.1 2134.7h1.5M1518.5 2038.0h0.5M1394.1 2225.4h-1.2M1407.4 2185.0h-1.0M1549.9 2145.2h0.6M1494.1 2100.4h-0.1M1428.7 2245.5h-0.3M1454.0 2214.4h1.2M1382.7 2084.3h1.4M1423.0 2115.7h-1.4M1560.3 2076.7h-0.6M1367.6 2169.7h-0.4M1393.5 2196.0h0.2M1497.2 2152.9h0.7M1544.8 2122.1h-1.5M1430.3 2171.8h0.4M1571.3 2041.9h-0.2M1538.2 2201.9h1.4M1541.1 2193.0h1.3M1416.8 2045.4h-1.1M1563.7 2094.7h-0.8M1522.9 2137.9h0.2M1427.8 2152.1h-1.5M1480.7 2164.8h0.1M1550.3 2114.2h-1.3M1530.2 2207.4h1.5M1387.1 2252.0h1.0M1363.8 2125.4h-0.2M1571.2 2225.0h0.0M1412.0 2089.1h0.2M1433.8 2142.2h0.2M1468.6 2056.1h0.3M1430.9 2207.8h1.3M1462.6 2236.4h-1.3M1462.4 2176.9h1.2M1552.0 2040.6h-0.3M1486.0 2136.5h-0.5M1432.2 2087.4h1.1M1444.1 2165.0h-0.9M1506.3 2145.9h-1.0M1375.0 2047.8h0.7M1565.9 2171.8h0.6M1382.5 2040.5h-0.9M1578.6 2108.5h-1.0M1413.5 2202.7h1.0M1539.2 2057.9h-0.6M1423.9 2135.5h0.2M1402.1 2062.3h-0.5M1475.2 2144.3h0.5M1563.4 2160.6h-0.3M1426.8 2037.5h0.3M1378.9 2150.1h0.1M1439.6 2240.0h0.5M1374.7 2163.0h-0.1M1553.9 2238.1h-1.0M1444.2 2225.3h-1.0M1504.5 2161.5h0.8M1410.7 2061.7h-1.4M1514.9 2067.5h-0.3M1389.5 2078.2h0.5M1500.8 2235.8h0.6M1484.5 2190.9h-0.6M1574.7 2144.4h-0.9M1486.6 2043.6h0.8M1479.8 2173.7h-1.4M1415.9 2139.7h0.1M1522.5 2189.9h1.2M1396.0 2139.1h-0.0M1457.8 2071.9h-0.3M1572.3 2077.7h-1.3M1453.2 2193.5h-1.3M1397.6 2127.8h-0.3M1382.8 2243.7h1.0M1430.3 2220.9h-0.3" stroke="#bab6e2" stroke-width="5.6" stroke-linecap="round" fill="none" opacity="0.9"/>
<path d="M1516.7 2128.6h-0.3M1474.1 2196.5h-1.3M1527.5 2117.1h0.7M1502.1 2076.6h-0.2M1539.6 2079.6h1.1M1487.1 2215.3h-1.0M1434.9 2117.4h-1.4M1425.7 2103.3h1.1M1419.2 2060.4h0.4M1542.3 2088.8h1.1M1491.4 2242.4h-0.0M1399.6 2248.8h1.1M1405.2 2053.6h-0.9M1539.1 2231.4h-1.4M1386.9 2174.1h-1.4M1454.7 2054.9h-1.3M1514.5 2141.3h-1.0M1512.2 2154.1h0.3M1418.6 2097.5h0.3M1420.4 2222.1h0.9M1463.3 2063.4h0.7M1383.0 2197.4h0.0M1448.9 2184.6h-0.4M1486.5 2204.4h1.0M1548.9 2131.8h1.2M1441.6 2178.5h-1.1M1575.3 2250.4h-1.0M1519.8 2201.7h-1.2M1516.5 2182.2h0.4M1493.5 2050.9h-0.4M1438.4 2249.4h1.4M1387.4 2216.7h-0.9M1406.1 2196.7h-0.5M1381.1 2107.9h-0.5M1472.9 2212.9h0.1M1568.9 2235.8h1.5M1491.4 2252.2h0.6M1548.8 2206.0h-0.8M1554.7 2090.5h-1.2M1513.0 2092.7h-0.8M1521.4 2110.8h-0.2M1546.9 2048.3h1.5M1444.4 2105.5h-1.3M1376.8 2062.2h-1.5M1501.7 2046.6h1.4M1560.7 2221.3h0.8M1373.2 2181.7h-0.1M1370.6 2200.8h-0.1M1539.2 2134.8h0.8M1480.4 2053.3h1.0M1510.4 2108.6h-0.1M1486.9 2146.2h-0.5M1451.5 2251.4h0.5M1402.1 2040.1h0.9M1491.1 2115.7h-0.9M1525.0 2088.0h0.5M1439.8 2216.7h0.7M1488.3 2079.7h-1.0M1427.6 2046.7h0.5M1367.4 2137.8h-0.8M1413.1 2250.7h0.4M1522.1 2153.4h-0.8M1458.4 2152.2h-1.3M1448.7 2073.0h1.1M1492.7 2072.0h-1.4M1462.0 2203.3h-0.2M1451.1 2235.5h0.4M1512.1 2239.1h-0.3M1512.4 2193.3h1.2M1412.4 2234.9h0.3M1442.3 2061.1h-0.7M1495.9 2181.5h-1.4M1421.5 2211.7h0.9M1364.1 2159.3h0.5M1439.2 2130.6h1.1M1499.4 2218.6h1.2M1376.5 2250.3h-1.1M1499.9 2107.4h0.5M1444.2 2152.2h1.0M1379.4 2117.7h0.3M1466.2 2088.8h0.7M1404.4 2228.7h1.3M1461.7 2126.5h1.3M1422.5 2202.7h0.6M1531.9 2048.7h0.6M1560.3 2107.3h-1.1M1536.2 2121.8h-0.6M1376.8 2215.6h-1.3M1380.5 2072.9h0.2M1554.1 2191.4h-0.2M1376.8 2171.9h-0.9M1398.9 2187.3h-0.8M1391.1 2089.4h0.1" stroke="#bab6e2" stroke-width="6.8" stroke-linecap="round" fill="none" opacity="0.9"/>
<path d="M1563.4 2242.2h.01M1491.6 2128.4h.01M1406.1 2132.9h.01M1516.6 2129.3h.01M1441.9 2049.2h.01M1505.1 2172.0h.01M1528.4 2116.4h.01M1431.7 2056.7h.01M1502.7 2076.4h.01M1540.6 2080.1h.01M1372.5 2096.0h.01M1434.6 2117.5h.01M1530.9 2156.1h.01M1532.5 2191.3h.01M1480.9 2235.8h.01M1398.7 2249.9h.01M1369.2 2211.7h.01M1537.2 2244.1h.01M1405.0 2054.5h.01M1418.2 2128.0h.01M1437.6 2230.4h.01M1513.5 2217.8h.01M1427.2 2125.3h.01M1435.4 2158.2h.01M1484.1 2154.5h.01M1464.0 2134.7h.01M1445.4 2208.1h.01M1408.4 2185.1h.01M1515.4 2141.6h.01M1428.4 2232.3h.01M1550.9 2144.4h.01M1429.4 2244.6h.01M1467.8 2156.7h.01M1382.4 2083.3h.01M1464.3 2063.9h.01M1422.4 2115.1h.01M1449.5 2185.2h.01M1560.2 2076.0h.01M1392.5 2196.6h.01M1540.2 2167.0h.01M1456.5 2106.0h.01M1548.5 2132.7h.01M1523.5 2238.1h.01M1392.2 2119.6h.01M1520.9 2201.9h.01M1451.8 2090.2h.01M1571.3 2153.5h.01M1574.5 2197.5h.01M1422.1 2072.9h.01M1378.7 2141.0h.01M1438.2 2250.2h.01M1570.2 2041.2h.01M1386.6 2217.0h.01M1502.7 2226.7h.01M1520.9 2052.5h.01M1534.6 2174.4h.01M1380.7 2107.1h.01M1472.3 2213.3h.01M1421.4 2167.0h.01M1569.4 2235.7h.01M1440.4 2082.6h.01M1397.2 2156.8h.01M1492.3 2253.2h.01M1563.0 2094.6h.01M1445.1 2195.6h.01M1564.0 2067.8h.01M1436.2 2070.1h.01M1468.6 2114.4h.01M1577.1 2128.7h.01M1514.1 2091.9h.01M1521.0 2110.8h.01M1547.1 2049.2h.01M1376.0 2063.0h.01M1551.1 2114.6h.01M1557.9 2198.2h.01M1542.5 2153.6h.01M1560.7 2220.9h.01M1386.6 2251.1h.01M1406.8 2120.1h.01M1570.6 2224.0h.01M1412.9 2089.4h.01M1560.3 2045.3h.01M1373.2 2182.5h.01M1371.3 2201.7h.01M1468.3 2056.6h.01M1532.7 2070.1h.01M1461.7 2235.5h.01M1538.8 2135.4h.01M1463.6 2176.6h.01M1548.6 2245.5h.01M1551.7 2039.9h.01M1553.8 2172.7h.01M1487.8 2145.1h.01M1402.0 2041.1h.01M1538.0 2112.4h.01M1367.2 2191.0h.01M1491.9 2115.6h.01M1551.1 2182.6h.01M1420.0 2184.6h.01M1443.8 2164.3h.01M1505.9 2146.1h.01M1375.0 2047.4h.01M1573.6 2185.6h.01M1402.1 2207.6h.01M1382.6 2039.5h.01M1368.4 2136.7h.01M1376.3 2238.9h.01M1461.9 2046.6h.01M1579.2 2108.8h.01M1412.9 2202.9h.01M1549.0 2103.1h.01M1533.4 2143.1h.01M1522.4 2154.2h.01M1538.6 2058.2h.01M1458.2 2151.2h.01M1374.2 2088.5h.01M1537.5 2222.4h.01M1397.8 2172.0h.01M1447.2 2121.4h.01M1496.9 2191.5h.01M1493.8 2072.5h.01M1461.6 2203.9h.01M1474.2 2144.6h.01M1426.1 2037.0h.01M1384.6 2049.6h.01M1571.0 2213.4h.01M1439.3 2239.2h.01M1455.1 2173.5h.01M1548.4 2225.9h.01M1512.4 2194.2h.01M1527.9 2039.7h.01M1412.1 2234.7h.01M1558.8 2121.4h.01M1417.5 2148.5h.01M1441.6 2060.5h.01M1375.4 2163.9h.01M1553.6 2238.5h.01M1443.4 2226.1h.01M1494.7 2182.4h.01M1453.2 2222.7h.01M1520.0 2095.1h.01M1439.7 2130.1h.01M1411.2 2060.9h.01M1382.6 2208.2h.01M1498.6 2218.1h.01M1389.7 2078.0h.01M1500.4 2107.9h.01M1573.9 2144.4h.01M1460.3 2143.2h.01M1469.6 2252.9h.01M1525.0 2226.0h.01M1370.0 2223.2h.01M1480.6 2174.7h.01M1366.1 2048.2h.01M1449.0 2036.6h.01M1404.2 2228.2h.01M1423.5 2202.4h.01M1560.9 2106.3h.01M1536.2 2120.7h.01M1377.0 2214.7h.01M1447.2 2141.3h.01M1440.4 2094.4h.01M1556.3 2251.4h.01M1480.4 2120.9h.01M1510.6 2050.6h.01M1407.2 2164.3h.01M1571.7 2077.8h.01M1460.7 2252.6h.01M1495.4 2211.3h.01M1553.4 2192.0h.01M1376.0 2170.8h.01M1562.5 2229.5h.01M1396.7 2128.6h.01M1382.2 2242.7h.01M1469.6 2239.5h.01" stroke="#a29edb" stroke-width="3.4" stroke-linecap="round" fill="none" opacity="0.55"/>
</g>
</g>
<rect x="1365.45" y="2039.1" width="211.88" height="213.1" fill="none" stroke="#b4b4b4" stroke-width="1.3"/>
<circle cx="1386.16" cy="2190.41" r="6.5" fill="#fdfdfd"/>
<text x="1158.66" y="2074.96" font-weight="bold" font-size="27.5">CD25</text>
<text x="1521.31" y="2231.83" font-size="19">50 μm</text>
<line x1="1517.91" y1="2237.95" x2="1568.85" y2="2237.95" stroke="#333" stroke-width="1.6"/>
</svg>
</body></html>
